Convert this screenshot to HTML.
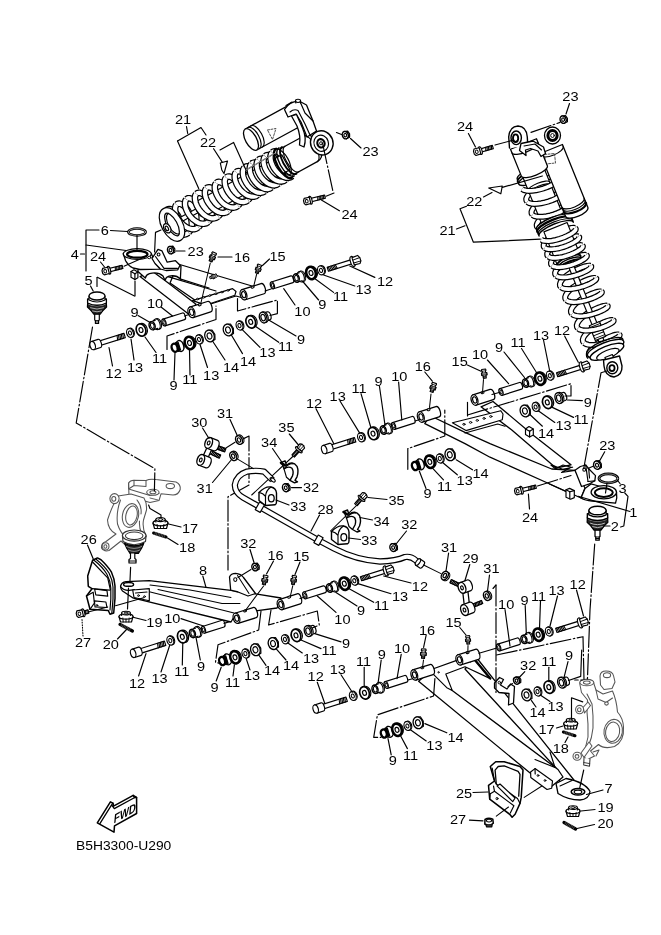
<!DOCTYPE html>
<html><head><meta charset="utf-8"><title>B5H3300-U290</title>
<style>html,body{margin:0;padding:0;background:#fff}svg{display:block;filter:grayscale(1)}text{font-family:"Liberation Sans",Arial,Helvetica,sans-serif;fill:#000}</style>
</head><body>
<svg width="661" height="935" viewBox="0 0 661 935" stroke-linecap="round" stroke-linejoin="round">
<rect width="661" height="935" fill="#fff"/>
<g transform="translate(251 139.5) rotate(-28.6)">
<path d="M0 -12 L54 -12 L54 12 L0 12 Z" fill="#fff" stroke="#000" stroke-width="1.29"/>
<path d="M3 -12 A5.5 12 0 0 1 3 12 M6.5 -12 A5.5 12 0 0 1 6.5 12" fill="none" stroke="#000" stroke-width="1.17"/>
<ellipse cx="0" cy="0" rx="5.5" ry="12" fill="#fff" stroke="#000" stroke-width="1.29"/>
</g>
<g transform="translate(284 163.3) rotate(-28.6)">
<path d="M-4 -14.5 L30 -14.5 Q38 -14 38 -6 L38 6 Q38 14 30 14.5 L-4 14.5 Z" fill="#fff" stroke="#000" stroke-width="1.29"/>
<path d="M30 -14.5 A6 14.5 0 0 1 30 14.5" fill="none" stroke="#000" stroke-width="1.17"/>
</g>
<path d="M178.5 238.2 L180.1 236.2 L181.2 233.8 L181.8 230.9 L181.9 227.7 L181.4 224.3 L180.4 221 L179.1 217.8 L177.4 214.9 L175.4 212.5 L173.4 210.7 L171.3 209.5 L169.4 209 L167.8 209.2 L166.4 210.1" fill="none" stroke="#000" stroke-width="6.6" stroke-linecap="butt"/>
<path d="M178.5 238.2 L180.1 236.2 L181.2 233.8 L181.8 230.9 L181.9 227.7 L181.4 224.3 L180.4 221 L179.1 217.8 L177.4 214.9 L175.4 212.5 L173.4 210.7 L171.3 209.5 L169.4 209 L167.8 209.2 L166.4 210.1" fill="none" stroke="#fff" stroke-width="4.2" stroke-linecap="butt"/>
<path d="M188.5 232.8 L190.1 230.8 L191.2 228.4 L191.8 225.4 L191.8 222.2 L191.3 218.9 L190.4 215.5 L189 212.4 L187.3 209.5 L185.4 207.1 L183.3 205.3 L181.3 204.1 L179.4 203.6 L177.7 203.8 L176.4 204.7" fill="none" stroke="#000" stroke-width="6.6" stroke-linecap="butt"/>
<path d="M188.5 232.8 L190.1 230.8 L191.2 228.4 L191.8 225.4 L191.8 222.2 L191.3 218.9 L190.4 215.5 L189 212.4 L187.3 209.5 L185.4 207.1 L183.3 205.3 L181.3 204.1 L179.4 203.6 L177.7 203.8 L176.4 204.7" fill="none" stroke="#fff" stroke-width="4.2" stroke-linecap="butt"/>
<path d="M198.4 227.3 L200 225.4 L201.1 222.9 L201.7 220 L201.7 216.8 L201.3 213.5 L200.3 210.1 L198.9 207 L197.2 204.1 L195.3 201.7 L193.2 199.9 L191.2 198.7 L189.3 198.2 L187.6 198.4 L186.3 199.3" fill="none" stroke="#000" stroke-width="6.6" stroke-linecap="butt"/>
<path d="M198.4 227.3 L200 225.4 L201.1 222.9 L201.7 220 L201.7 216.8 L201.3 213.5 L200.3 210.1 L198.9 207 L197.2 204.1 L195.3 201.7 L193.2 199.9 L191.2 198.7 L189.3 198.2 L187.6 198.4 L186.3 199.3" fill="none" stroke="#fff" stroke-width="4.2" stroke-linecap="butt"/>
<path d="M208.3 221.9 L209.9 220 L211 217.5 L211.6 214.6 L211.7 211.4 L211.2 208 L210.2 204.7 L208.9 201.5 L207.2 198.7 L205.2 196.3 L203.2 194.4 L201.1 193.2 L199.2 192.7 L197.6 193 L196.2 193.9" fill="none" stroke="#000" stroke-width="6.6" stroke-linecap="butt"/>
<path d="M208.3 221.9 L209.9 220 L211 217.5 L211.6 214.6 L211.7 211.4 L211.2 208 L210.2 204.7 L208.9 201.5 L207.2 198.7 L205.2 196.3 L203.2 194.4 L201.1 193.2 L199.2 192.7 L197.6 193 L196.2 193.9" fill="none" stroke="#fff" stroke-width="4.2" stroke-linecap="butt"/>
<path d="M218.2 216.5 L219.9 214.6 L221 212.1 L221.6 209.2 L221.6 206 L221.1 202.6 L220.2 199.3 L218.8 196.1 L217.1 193.3 L215.2 190.9 L213.1 189 L211.1 187.8 L209.2 187.3 L207.5 187.5 L206.2 188.4" fill="none" stroke="#000" stroke-width="6.6" stroke-linecap="butt"/>
<path d="M218.2 216.5 L219.9 214.6 L221 212.1 L221.6 209.2 L221.6 206 L221.1 202.6 L220.2 199.3 L218.8 196.1 L217.1 193.3 L215.2 190.9 L213.1 189 L211.1 187.8 L209.2 187.3 L207.5 187.5 L206.2 188.4" fill="none" stroke="#fff" stroke-width="4.2" stroke-linecap="butt"/>
<path d="M228.2 211.1 L229.8 209.2 L230.9 206.7 L231.5 203.8 L231.5 200.6 L231.1 197.2 L230.1 193.9 L228.7 190.7 L227 187.8 L225.1 185.4 L223 183.6 L221 182.4 L219.1 181.9 L217.4 182.1 L216.1 183" fill="none" stroke="#000" stroke-width="6.6" stroke-linecap="butt"/>
<path d="M228.2 211.1 L229.8 209.2 L230.9 206.7 L231.5 203.8 L231.5 200.6 L231.1 197.2 L230.1 193.9 L228.7 190.7 L227 187.8 L225.1 185.4 L223 183.6 L221 182.4 L219.1 181.9 L217.4 182.1 L216.1 183" fill="none" stroke="#fff" stroke-width="4.2" stroke-linecap="butt"/>
<path d="M238.1 205.7 L239.7 203.7 L240.8 201.3 L241.4 198.4 L241.5 195.1 L241 191.8 L240 188.4 L238.7 185.3 L236.9 182.4 L235 180 L233 178.2 L230.9 177 L229 176.5 L227.4 176.7 L226 177.6" fill="none" stroke="#000" stroke-width="6.6" stroke-linecap="butt"/>
<path d="M238.1 205.7 L239.7 203.7 L240.8 201.3 L241.4 198.4 L241.5 195.1 L241 191.8 L240 188.4 L238.7 185.3 L236.9 182.4 L235 180 L233 178.2 L230.9 177 L229 176.5 L227.4 176.7 L226 177.6" fill="none" stroke="#fff" stroke-width="4.2" stroke-linecap="butt"/>
<path d="M248 200.2 L249.6 198.3 L250.8 195.8 L251.4 192.9 L251.4 189.7 L250.9 186.4 L250 183 L248.6 179.9 L246.9 177 L244.9 174.6 L242.9 172.8 L240.9 171.6 L239 171.1 L237.3 171.3 L236 172.2" fill="none" stroke="#000" stroke-width="6.6" stroke-linecap="butt"/>
<path d="M248 200.2 L249.6 198.3 L250.8 195.8 L251.4 192.9 L251.4 189.7 L250.9 186.4 L250 183 L248.6 179.9 L246.9 177 L244.9 174.6 L242.9 172.8 L240.9 171.6 L239 171.1 L237.3 171.3 L236 172.2" fill="none" stroke="#fff" stroke-width="4.2" stroke-linecap="butt"/>
<path d="M258 194.8 L259.5 193 L260.5 190.5 L261 187.7 L260.9 184.5 L260.3 181.2 L259.2 178 L257.8 174.8 L255.9 172.1 L253.9 169.7 L251.8 167.9 L249.6 166.8 L247.6 166.4 L245.8 166.6 L244.4 167.6" fill="none" stroke="#000" stroke-width="6.6" stroke-linecap="butt"/>
<path d="M258 194.8 L259.5 193 L260.5 190.5 L261 187.7 L260.9 184.5 L260.3 181.2 L259.2 178 L257.8 174.8 L255.9 172.1 L253.9 169.7 L251.8 167.9 L249.6 166.8 L247.6 166.4 L245.8 166.6 L244.4 167.6" fill="none" stroke="#fff" stroke-width="4.2" stroke-linecap="butt"/>
<path d="M264.9 191.1 L266.4 189.2 L267.4 186.8 L267.9 183.9 L267.8 180.8 L267.2 177.5 L266.2 174.2 L264.7 171.1 L262.9 168.3 L260.8 165.9 L258.7 164.2 L256.5 163 L254.5 162.6 L252.7 162.9 L251.3 163.8" fill="none" stroke="#000" stroke-width="6.6" stroke-linecap="butt"/>
<path d="M264.9 191.1 L266.4 189.2 L267.4 186.8 L267.9 183.9 L267.8 180.8 L267.2 177.5 L266.2 174.2 L264.7 171.1 L262.9 168.3 L260.8 165.9 L258.7 164.2 L256.5 163 L254.5 162.6 L252.7 162.9 L251.3 163.8" fill="none" stroke="#fff" stroke-width="4.2" stroke-linecap="butt"/>
<path d="M271.8 187.3 L273.3 185.4 L274.3 183 L274.8 180.2 L274.7 177 L274.1 173.7 L273.1 170.4 L271.6 167.3 L269.8 164.5 L267.7 162.2 L265.6 160.4 L263.4 159.3 L261.4 158.8 L259.6 159.1 L258.2 160" fill="none" stroke="#000" stroke-width="6.6" stroke-linecap="butt"/>
<path d="M271.8 187.3 L273.3 185.4 L274.3 183 L274.8 180.2 L274.7 177 L274.1 173.7 L273.1 170.4 L271.6 167.3 L269.8 164.5 L267.7 162.2 L265.6 160.4 L263.4 159.3 L261.4 158.8 L259.6 159.1 L258.2 160" fill="none" stroke="#fff" stroke-width="4.2" stroke-linecap="butt"/>
<path d="M278.7 183.5 L280.2 181.6 L281.2 179.2 L281.7 176.4 L281.6 173.2 L281 169.9 L280 166.7 L278.5 163.5 L276.7 160.7 L274.6 158.4 L272.5 156.6 L270.3 155.5 L268.3 155 L266.5 155.3 L265.1 156.3" fill="none" stroke="#000" stroke-width="6.6" stroke-linecap="butt"/>
<path d="M278.7 183.5 L280.2 181.6 L281.2 179.2 L281.7 176.4 L281.6 173.2 L281 169.9 L280 166.7 L278.5 163.5 L276.7 160.7 L274.6 158.4 L272.5 156.6 L270.3 155.5 L268.3 155 L266.5 155.3 L265.1 156.3" fill="none" stroke="#fff" stroke-width="4.2" stroke-linecap="butt"/>
<path d="M285.6 179.7 L287.1 177.9 L288.1 175.5 L288.6 172.6 L288.5 169.5 L287.9 166.2 L286.9 162.9 L285.4 159.8 L283.6 157 L281.5 154.6 L279.4 152.9 L277.2 151.7 L275.2 151.3 L273.5 151.5 L272 152.5" fill="none" stroke="#000" stroke-width="6.6" stroke-linecap="butt"/>
<path d="M285.6 179.7 L287.1 177.9 L288.1 175.5 L288.6 172.6 L288.5 169.5 L287.9 166.2 L286.9 162.9 L285.4 159.8 L283.6 157 L281.5 154.6 L279.4 152.9 L277.2 151.7 L275.2 151.3 L273.5 151.5 L272 152.5" fill="none" stroke="#fff" stroke-width="4.2" stroke-linecap="butt"/>
<g transform="translate(170 225.5) rotate(-28.6)">
<path d="M2 -2.2 L40 -2.2 L40 2.2 L2 2.2 Z" fill="#fff" stroke="#000" stroke-width="1.17"/>
<path d="M34 -8.5 L132 -8.5 L132 8.5 L34 8.5 A3.5 8.5 0 0 1 34 -8.5 Z" fill="#fff" stroke="#000" stroke-width="1.17"/>
</g>
<path d="M166.4 210.1 L165.5 211.7 L165.1 213.7 L165.3 216.3 L165.9 219.1 L167.1 222.1 L168.8 225 L170.9 227.8 L173.3 230.3 L175.9 232.3 L178.7 233.7 L181.4 234.5 L184 234.6 L186.4 234 L188.5 232.8" fill="none" stroke="#000" stroke-width="6.6" stroke-linecap="butt"/>
<path d="M166.4 210.1 L165.5 211.7 L165.1 213.7 L165.3 216.3 L165.9 219.1 L167.1 222.1 L168.8 225 L170.9 227.8 L173.3 230.3 L175.9 232.3 L178.7 233.7 L181.4 234.5 L184 234.6 L186.4 234 L188.5 232.8" fill="none" stroke="#fff" stroke-width="4.2" stroke-linecap="butt"/>
<path d="M176.4 204.7 L175.5 206.2 L175.1 208.3 L175.2 210.8 L175.9 213.7 L177 216.6 L178.7 219.6 L180.8 222.4 L183.2 224.8 L185.9 226.9 L188.6 228.3 L191.4 229.1 L194 229.2 L196.4 228.6 L198.4 227.3" fill="none" stroke="#000" stroke-width="6.6" stroke-linecap="butt"/>
<path d="M176.4 204.7 L175.5 206.2 L175.1 208.3 L175.2 210.8 L175.9 213.7 L177 216.6 L178.7 219.6 L180.8 222.4 L183.2 224.8 L185.9 226.9 L188.6 228.3 L191.4 229.1 L194 229.2 L196.4 228.6 L198.4 227.3" fill="none" stroke="#fff" stroke-width="4.2" stroke-linecap="butt"/>
<path d="M186.3 199.3 L185.4 200.8 L185 202.9 L185.1 205.4 L185.8 208.2 L187 211.2 L188.6 214.2 L190.7 217 L193.1 219.4 L195.8 221.4 L198.5 222.9 L201.3 223.7 L203.9 223.8 L206.3 223.2 L208.3 221.9" fill="none" stroke="#000" stroke-width="6.6" stroke-linecap="butt"/>
<path d="M186.3 199.3 L185.4 200.8 L185 202.9 L185.1 205.4 L185.8 208.2 L187 211.2 L188.6 214.2 L190.7 217 L193.1 219.4 L195.8 221.4 L198.5 222.9 L201.3 223.7 L203.9 223.8 L206.3 223.2 L208.3 221.9" fill="none" stroke="#fff" stroke-width="4.2" stroke-linecap="butt"/>
<path d="M196.2 193.9 L195.3 195.4 L194.9 197.5 L195.1 200 L195.7 202.8 L196.9 205.8 L198.6 208.7 L200.7 211.5 L203.1 214 L205.7 216 L208.5 217.5 L211.2 218.3 L213.8 218.4 L216.2 217.8 L218.2 216.5" fill="none" stroke="#000" stroke-width="6.6" stroke-linecap="butt"/>
<path d="M196.2 193.9 L195.3 195.4 L194.9 197.5 L195.1 200 L195.7 202.8 L196.9 205.8 L198.6 208.7 L200.7 211.5 L203.1 214 L205.7 216 L208.5 217.5 L211.2 218.3 L213.8 218.4 L216.2 217.8 L218.2 216.5" fill="none" stroke="#fff" stroke-width="4.2" stroke-linecap="butt"/>
<path d="M206.2 188.4 L205.3 190 L204.9 192.1 L205 194.6 L205.7 197.4 L206.8 200.4 L208.5 203.3 L210.6 206.1 L213 208.6 L215.7 210.6 L218.4 212.1 L221.2 212.9 L223.8 213 L226.1 212.4 L228.2 211.1" fill="none" stroke="#000" stroke-width="6.6" stroke-linecap="butt"/>
<path d="M206.2 188.4 L205.3 190 L204.9 192.1 L205 194.6 L205.7 197.4 L206.8 200.4 L208.5 203.3 L210.6 206.1 L213 208.6 L215.7 210.6 L218.4 212.1 L221.2 212.9 L223.8 213 L226.1 212.4 L228.2 211.1" fill="none" stroke="#fff" stroke-width="4.2" stroke-linecap="butt"/>
<path d="M216.1 183 L215.2 184.6 L214.8 186.6 L214.9 189.2 L215.6 192 L216.8 195 L218.4 197.9 L220.5 200.7 L222.9 203.2 L225.6 205.2 L228.3 206.6 L231.1 207.4 L233.7 207.6 L236.1 207 L238.1 205.7" fill="none" stroke="#000" stroke-width="6.6" stroke-linecap="butt"/>
<path d="M216.1 183 L215.2 184.6 L214.8 186.6 L214.9 189.2 L215.6 192 L216.8 195 L218.4 197.9 L220.5 200.7 L222.9 203.2 L225.6 205.2 L228.3 206.6 L231.1 207.4 L233.7 207.6 L236.1 207 L238.1 205.7" fill="none" stroke="#fff" stroke-width="4.2" stroke-linecap="butt"/>
<path d="M226 177.6 L225.1 179.1 L224.7 181.2 L224.9 183.8 L225.5 186.6 L226.7 189.5 L228.4 192.5 L230.5 195.3 L232.9 197.7 L235.5 199.8 L238.3 201.2 L241 202 L243.6 202.1 L246 201.5 L248 200.2" fill="none" stroke="#000" stroke-width="6.6" stroke-linecap="butt"/>
<path d="M226 177.6 L225.1 179.1 L224.7 181.2 L224.9 183.8 L225.5 186.6 L226.7 189.5 L228.4 192.5 L230.5 195.3 L232.9 197.7 L235.5 199.8 L238.3 201.2 L241 202 L243.6 202.1 L246 201.5 L248 200.2" fill="none" stroke="#fff" stroke-width="4.2" stroke-linecap="butt"/>
<path d="M236 172.2 L235.1 173.7 L234.7 175.8 L234.8 178.3 L235.5 181.2 L236.6 184.1 L238.3 187.1 L240.4 189.9 L242.8 192.3 L245.5 194.3 L248.2 195.8 L250.9 196.6 L253.6 196.7 L255.9 196.1 L258 194.8" fill="none" stroke="#000" stroke-width="6.6" stroke-linecap="butt"/>
<path d="M236 172.2 L235.1 173.7 L234.7 175.8 L234.8 178.3 L235.5 181.2 L236.6 184.1 L238.3 187.1 L240.4 189.9 L242.8 192.3 L245.5 194.3 L248.2 195.8 L250.9 196.6 L253.6 196.7 L255.9 196.1 L258 194.8" fill="none" stroke="#fff" stroke-width="4.2" stroke-linecap="butt"/>
<path d="M244.4 167.6 L243.4 169.2 L242.9 171.3 L242.9 173.9 L243.4 176.8 L244.5 179.8 L246.1 182.8 L248.1 185.7 L250.4 188.2 L252.9 190.3 L255.5 191.8 L258.2 192.7 L260.7 192.8 L263 192.3 L264.9 191.1" fill="none" stroke="#000" stroke-width="6.6" stroke-linecap="butt"/>
<path d="M244.4 167.6 L243.4 169.2 L242.9 171.3 L242.9 173.9 L243.4 176.8 L244.5 179.8 L246.1 182.8 L248.1 185.7 L250.4 188.2 L252.9 190.3 L255.5 191.8 L258.2 192.7 L260.7 192.8 L263 192.3 L264.9 191.1" fill="none" stroke="#fff" stroke-width="4.2" stroke-linecap="butt"/>
<path d="M251.3 163.8 L250.3 165.4 L249.8 167.6 L249.8 170.1 L250.3 173 L251.4 176 L253 179.1 L255 181.9 L257.3 184.4 L259.8 186.5 L262.5 188 L265.1 188.9 L267.6 189.1 L269.9 188.5 L271.8 187.3" fill="none" stroke="#000" stroke-width="6.6" stroke-linecap="butt"/>
<path d="M251.3 163.8 L250.3 165.4 L249.8 167.6 L249.8 170.1 L250.3 173 L251.4 176 L253 179.1 L255 181.9 L257.3 184.4 L259.8 186.5 L262.5 188 L265.1 188.9 L267.6 189.1 L269.9 188.5 L271.8 187.3" fill="none" stroke="#fff" stroke-width="4.2" stroke-linecap="butt"/>
<path d="M258.2 160 L257.2 161.6 L256.7 163.8 L256.7 166.4 L257.3 169.3 L258.3 172.3 L259.9 175.3 L261.9 178.1 L264.2 180.7 L266.7 182.7 L269.4 184.3 L272 185.1 L274.5 185.3 L276.8 184.7 L278.7 183.5" fill="none" stroke="#000" stroke-width="6.6" stroke-linecap="butt"/>
<path d="M258.2 160 L257.2 161.6 L256.7 163.8 L256.7 166.4 L257.3 169.3 L258.3 172.3 L259.9 175.3 L261.9 178.1 L264.2 180.7 L266.7 182.7 L269.4 184.3 L272 185.1 L274.5 185.3 L276.8 184.7 L278.7 183.5" fill="none" stroke="#fff" stroke-width="4.2" stroke-linecap="butt"/>
<path d="M265.1 156.3 L264.1 157.9 L263.6 160 L263.6 162.6 L264.2 165.5 L265.2 168.5 L266.8 171.5 L268.8 174.4 L271.1 176.9 L273.6 179 L276.3 180.5 L278.9 181.3 L281.4 181.5 L283.7 181 L285.6 179.7" fill="none" stroke="#000" stroke-width="6.6" stroke-linecap="butt"/>
<path d="M265.1 156.3 L264.1 157.9 L263.6 160 L263.6 162.6 L264.2 165.5 L265.2 168.5 L266.8 171.5 L268.8 174.4 L271.1 176.9 L273.6 179 L276.3 180.5 L278.9 181.3 L281.4 181.5 L283.7 181 L285.6 179.7" fill="none" stroke="#fff" stroke-width="4.2" stroke-linecap="butt"/>
<path d="M272 152.5 L271 154.1 L270.5 156.3 L270.5 158.8 L271.1 161.7 L272.2 164.7 L273.7 167.8 L275.7 170.6 L278 173.1 L280.5 175.2 L283.2 176.7 L285.8 177.6 L288.3 177.7 L290.6 177.2 L292.5 176" fill="none" stroke="#000" stroke-width="6.6" stroke-linecap="butt"/>
<path d="M272 152.5 L271 154.1 L270.5 156.3 L270.5 158.8 L271.1 161.7 L272.2 164.7 L273.7 167.8 L275.7 170.6 L278 173.1 L280.5 175.2 L283.2 176.7 L285.8 177.6 L288.3 177.7 L290.6 177.2 L292.5 176" fill="none" stroke="#fff" stroke-width="4.2" stroke-linecap="butt"/>
<g transform="translate(172 224.5) rotate(-28.6)">
<ellipse cx="0" cy="0" rx="7.8" ry="15.4" fill="#fff" stroke="#000" stroke-width="6.6"/>
<ellipse cx="0" cy="0" rx="7.8" ry="15.4" fill="none" stroke="#fff" stroke-width="4.2"/>
<path d="M2 -11.5 A5.5 11.5 0 0 0 2 11.5" fill="none" stroke="#000" stroke-width="1.17"/>
<ellipse cx="-6" cy="1" rx="3.2" ry="5" fill="#fff" stroke="#000" stroke-width="1.29"/>
<ellipse cx="-6.4" cy="1" rx="1.4" ry="2.4" fill="#fff" stroke="#000" stroke-width="1.17"/>
</g>
<g transform="translate(284 163.3) rotate(-28.6)">
<path d="M0 -16.5 A7 16.5 0 0 0 0 16.5" fill="none" stroke="#000" stroke-width="2.34"/>
<path d="M3 -16 A7 16 0 0 0 3 16" fill="none" stroke="#000" stroke-width="1.4"/>
<path d="M6 -15.2 A6.5 15.2 0 0 0 6 15.2" fill="none" stroke="#000" stroke-width="1.87"/>
<path d="M9 -14.6 A6 14.6 0 0 0 9 14.6" fill="none" stroke="#000" stroke-width="1.17"/>
</g>
<path d="M284.5 109.5 Q290 100.5 300 101.5 L306.5 105 L313 121 L316.5 131 L307 137 L301 122 L296 114 L288 117 Z" fill="#fff" stroke="#000" stroke-width="1.29" />
<path d="M290 112 Q294 108.5 298 110.5 L305 124 L310 135 M286 105.5 L292 102 M300 101.5 L305 113 L313 121" fill="none" stroke="#000" stroke-width="1.17" />
<path d="M291.5 116 L297 126 Q301 136 299.5 145 L304 147 Q307 138 302.5 128 L296.5 114.5 Z" fill="#fff" stroke="#000" stroke-width="1.29" />
<ellipse cx="298" cy="100.8" rx="2.6" ry="1.6" fill="#fff" stroke="#000" stroke-width="1.05"/>
<line x1="295.6" y1="100.6" x2="295.8" y2="103" stroke="#000" stroke-width="1.17"/>
<line x1="300.5" y1="100.8" x2="300.5" y2="103" stroke="#000" stroke-width="1.17"/>
<ellipse cx="321.8" cy="142.9" rx="11.2" ry="12.2" fill="#fff" stroke="#000" stroke-width="1.4" transform="rotate(-20 321.8 142.9)"/>
<ellipse cx="321.2" cy="143.2" rx="7.2" ry="8.2" fill="#fff" stroke="#000" stroke-width="1.17" transform="rotate(-20 321.2 143.2)"/>
<ellipse cx="321" cy="143.3" rx="3.6" ry="4.2" fill="#fff" stroke="#000" stroke-width="2.11" transform="rotate(-20 321 143.3)"/>
<ellipse cx="321" cy="143.3" rx="1.4" ry="1.6" fill="#fff" stroke="#000" stroke-width="0.94"/>
<path d="M267.5 130 L276 128.5 L272.5 139.5 Z" fill="none" stroke="#444" stroke-width="0.94" stroke-dasharray="2 1.5"/>
<g transform="translate(534.5 176.5) rotate(68)">
<ellipse cx="-4" cy="0" rx="5" ry="17" fill="#fff" stroke="#000" stroke-width="1.4"/>
<ellipse cx="-1.5" cy="0" rx="5" ry="17.5" fill="#fff" stroke="#000" stroke-width="1.87"/>
<ellipse cx="1" cy="0" rx="5" ry="17.5" fill="#fff" stroke="#000" stroke-width="1.4"/>
</g>
<path d="M554.8 181.1 L553.5 181 L551.5 181.3 L549 181.9 L546 183 L542.7 184.4 L539.3 186.2 L536.1 188.1 L533 190.3 L530.4 192.5 L528.3 194.8 L526.9 196.9 L526.2 198.8 L526.4 200.5 L527.3 201.9" fill="none" stroke="#000" stroke-width="6" stroke-linecap="butt"/>
<path d="M554.8 181.1 L553.5 181 L551.5 181.3 L549 181.9 L546 183 L542.7 184.4 L539.3 186.2 L536.1 188.1 L533 190.3 L530.4 192.5 L528.3 194.8 L526.9 196.9 L526.2 198.8 L526.4 200.5 L527.3 201.9" fill="none" stroke="#fff" stroke-width="3.6" stroke-linecap="butt"/>
<path d="M560.1 194.1 L558.8 194 L556.8 194.2 L554.2 194.9 L551.2 196 L548 197.4 L544.6 199.2 L541.3 201.1 L538.3 203.3 L535.6 205.5 L533.6 207.7 L532.2 209.9 L531.5 211.8 L531.6 213.5 L532.5 214.9" fill="none" stroke="#000" stroke-width="6" stroke-linecap="butt"/>
<path d="M560.1 194.1 L558.8 194 L556.8 194.2 L554.2 194.9 L551.2 196 L548 197.4 L544.6 199.2 L541.3 201.1 L538.3 203.3 L535.6 205.5 L533.6 207.7 L532.2 209.9 L531.5 211.8 L531.6 213.5 L532.5 214.9" fill="none" stroke="#fff" stroke-width="3.6" stroke-linecap="butt"/>
<path d="M565.3 207.1 L564 206.9 L562 207.2 L559.5 207.9 L556.5 209 L553.2 210.4 L549.8 212.1 L546.5 214.1 L543.5 216.3 L540.9 218.5 L538.8 220.7 L537.4 222.8 L536.7 224.8 L536.9 226.5 L537.8 227.9" fill="none" stroke="#000" stroke-width="6" stroke-linecap="butt"/>
<path d="M565.3 207.1 L564 206.9 L562 207.2 L559.5 207.9 L556.5 209 L553.2 210.4 L549.8 212.1 L546.5 214.1 L543.5 216.3 L540.9 218.5 L538.8 220.7 L537.4 222.8 L536.7 224.8 L536.9 226.5 L537.8 227.9" fill="none" stroke="#fff" stroke-width="3.6" stroke-linecap="butt"/>
<g transform="translate(536 179) rotate(68)">
<path d="M-12 -11.5 L46 -11.5 L46 11.5 L-12 11.5 Z" fill="#fff" stroke="#000" stroke-width="1.17"/>
<path d="M8 -11.5 A3.5 11.5 0 0 0 8 11.5 M11 -11.5 A3.5 11.5 0 0 0 11 11.5" fill="none" stroke="#000" stroke-width="1.17"/>
</g>
<path d="M522.1 189 L523.7 190 L526.1 190.6 L529 190.9 L532.4 190.7 L536 190.3 L539.8 189.4 L543.4 188.4 L546.9 187.2 L549.9 185.9 L552.3 184.6 L554.1 183.4 L555.1 182.3 L555.4 181.6 L554.8 181.1" fill="none" stroke="#000" stroke-width="6" stroke-linecap="butt"/>
<path d="M522.1 189 L523.7 190 L526.1 190.6 L529 190.9 L532.4 190.7 L536 190.3 L539.8 189.4 L543.4 188.4 L546.9 187.2 L549.9 185.9 L552.3 184.6 L554.1 183.4 L555.1 182.3 L555.4 181.6 L554.8 181.1" fill="none" stroke="#fff" stroke-width="3.6" stroke-linecap="butt"/>
<path d="M527.3 201.9 L529 203 L531.3 203.6 L534.3 203.9 L537.6 203.7 L541.3 203.2 L545 202.4 L548.7 201.4 L552.1 200.2 L555.1 198.9 L557.5 197.6 L559.3 196.3 L560.4 195.3 L560.6 194.5 L560.1 194.1" fill="none" stroke="#000" stroke-width="6" stroke-linecap="butt"/>
<path d="M527.3 201.9 L529 203 L531.3 203.6 L534.3 203.9 L537.6 203.7 L541.3 203.2 L545 202.4 L548.7 201.4 L552.1 200.2 L555.1 198.9 L557.5 197.6 L559.3 196.3 L560.4 195.3 L560.6 194.5 L560.1 194.1" fill="none" stroke="#fff" stroke-width="3.6" stroke-linecap="butt"/>
<path d="M532.5 214.9 L534.2 216 L536.6 216.6 L539.5 216.8 L542.9 216.7 L546.5 216.2 L550.3 215.4 L553.9 214.4 L557.3 213.1 L560.3 211.8 L562.8 210.5 L564.6 209.3 L565.6 208.3 L565.9 207.5 L565.3 207.1" fill="none" stroke="#000" stroke-width="6" stroke-linecap="butt"/>
<path d="M532.5 214.9 L534.2 216 L536.6 216.6 L539.5 216.8 L542.9 216.7 L546.5 216.2 L550.3 215.4 L553.9 214.4 L557.3 213.1 L560.3 211.8 L562.8 210.5 L564.6 209.3 L565.6 208.3 L565.9 207.5 L565.3 207.1" fill="none" stroke="#fff" stroke-width="3.6" stroke-linecap="butt"/>
<path d="M575.1 228.1 L573.6 227.8 L571.4 227.9 L568.6 228.5 L565.3 229.4 L561.8 230.8 L558.1 232.5 L554.5 234.4 L551.2 236.5 L548.3 238.7 L546 240.9 L544.4 243 L543.7 244.9 L543.7 246.6 L544.7 247.8" fill="none" stroke="#000" stroke-width="6" stroke-linecap="butt"/>
<path d="M575.1 228.1 L573.6 227.8 L571.4 227.9 L568.6 228.5 L565.3 229.4 L561.8 230.8 L558.1 232.5 L554.5 234.4 L551.2 236.5 L548.3 238.7 L546 240.9 L544.4 243 L543.7 244.9 L543.7 246.6 L544.7 247.8" fill="none" stroke="#fff" stroke-width="3.6" stroke-linecap="butt"/>
<path d="M578.6 236.5 L577.1 236.2 L574.9 236.4 L572.1 236.9 L568.8 237.9 L565.3 239.3 L561.6 241 L558 242.9 L554.7 245.1 L551.8 247.3 L549.6 249.5 L548 251.6 L547.2 253.5 L547.3 255.2 L548.2 256.5" fill="none" stroke="#000" stroke-width="6" stroke-linecap="butt"/>
<path d="M578.6 236.5 L577.1 236.2 L574.9 236.4 L572.1 236.9 L568.8 237.9 L565.3 239.3 L561.6 241 L558 242.9 L554.7 245.1 L551.8 247.3 L549.6 249.5 L548 251.6 L547.2 253.5 L547.3 255.2 L548.2 256.5" fill="none" stroke="#fff" stroke-width="3.6" stroke-linecap="butt"/>
<path d="M582.3 245.4 L580.8 245.1 L578.6 245.3 L575.8 245.9 L572.5 246.9 L569 248.2 L565.3 250 L561.7 251.9 L558.4 254.1 L555.6 256.3 L553.3 258.6 L551.7 260.7 L551 262.6 L551.1 264.3 L552 265.6" fill="none" stroke="#000" stroke-width="6" stroke-linecap="butt"/>
<path d="M582.3 245.4 L580.8 245.1 L578.6 245.3 L575.8 245.9 L572.5 246.9 L569 248.2 L565.3 250 L561.7 251.9 L558.4 254.1 L555.6 256.3 L553.3 258.6 L551.7 260.7 L551 262.6 L551.1 264.3 L552 265.6" fill="none" stroke="#fff" stroke-width="3.6" stroke-linecap="butt"/>
<path d="M586.2 255 L584.8 254.8 L582.6 255 L579.8 255.6 L576.6 256.6 L573 258 L569.4 259.8 L565.8 261.8 L562.5 264 L559.7 266.2 L557.4 268.5 L555.9 270.7 L555.1 272.6 L555.2 274.3 L556.2 275.7" fill="none" stroke="#000" stroke-width="6" stroke-linecap="butt"/>
<path d="M586.2 255 L584.8 254.8 L582.6 255 L579.8 255.6 L576.6 256.6 L573 258 L569.4 259.8 L565.8 261.8 L562.5 264 L559.7 266.2 L557.4 268.5 L555.9 270.7 L555.1 272.6 L555.2 274.3 L556.2 275.7" fill="none" stroke="#fff" stroke-width="3.6" stroke-linecap="butt"/>
<path d="M590.7 265.8 L589.3 265.6 L587.1 265.9 L584.3 266.5 L581.1 267.6 L577.6 269.1 L574 270.9 L570.4 272.9 L567.2 275.2 L564.3 277.5 L562.1 279.8 L560.6 282 L559.9 284.1 L560 285.8 L560.9 287.2" fill="none" stroke="#000" stroke-width="6" stroke-linecap="butt"/>
<path d="M590.7 265.8 L589.3 265.6 L587.1 265.9 L584.3 266.5 L581.1 267.6 L577.6 269.1 L574 270.9 L570.4 272.9 L567.2 275.2 L564.3 277.5 L562.1 279.8 L560.6 282 L559.9 284.1 L560 285.8 L560.9 287.2" fill="none" stroke="#fff" stroke-width="3.6" stroke-linecap="butt"/>
<path d="M595.8 278.1 L594.3 277.9 L592.2 278.2 L589.5 278.9 L586.3 280.1 L582.8 281.6 L579.2 283.4 L575.6 285.6 L572.4 287.8 L569.6 290.2 L567.4 292.6 L565.9 294.9 L565.2 296.9 L565.3 298.7 L566.3 300.2" fill="none" stroke="#000" stroke-width="6" stroke-linecap="butt"/>
<path d="M595.8 278.1 L594.3 277.9 L592.2 278.2 L589.5 278.9 L586.3 280.1 L582.8 281.6 L579.2 283.4 L575.6 285.6 L572.4 287.8 L569.6 290.2 L567.4 292.6 L565.9 294.9 L565.2 296.9 L565.3 298.7 L566.3 300.2" fill="none" stroke="#fff" stroke-width="3.6" stroke-linecap="butt"/>
<path d="M601.3 291.5 L599.9 291.4 L597.8 291.7 L595.1 292.5 L591.9 293.6 L588.4 295.2 L584.8 297.1 L581.3 299.2 L578.1 301.6 L575.3 304 L573.1 306.4 L571.6 308.7 L570.9 310.8 L571.1 312.6 L572.1 314.1" fill="none" stroke="#000" stroke-width="6" stroke-linecap="butt"/>
<path d="M601.3 291.5 L599.9 291.4 L597.8 291.7 L595.1 292.5 L591.9 293.6 L588.4 295.2 L584.8 297.1 L581.3 299.2 L578.1 301.6 L575.3 304 L573.1 306.4 L571.6 308.7 L570.9 310.8 L571.1 312.6 L572.1 314.1" fill="none" stroke="#fff" stroke-width="3.6" stroke-linecap="butt"/>
<path d="M607.2 305.7 L605.8 305.6 L603.7 305.9 L601 306.7 L597.8 307.9 L594.3 309.5 L590.7 311.4 L587.2 313.5 L584 315.9 L581.2 318.3 L579 320.7 L577.5 323 L576.8 325.2 L577 327 L578 328.5" fill="none" stroke="#000" stroke-width="6" stroke-linecap="butt"/>
<path d="M607.2 305.7 L605.8 305.6 L603.7 305.9 L601 306.7 L597.8 307.9 L594.3 309.5 L590.7 311.4 L587.2 313.5 L584 315.9 L581.2 318.3 L579 320.7 L577.5 323 L576.8 325.2 L577 327 L578 328.5" fill="none" stroke="#fff" stroke-width="3.6" stroke-linecap="butt"/>
<path d="M613.1 320.1 L611.7 320 L609.6 320.3 L606.9 321.1 L603.7 322.3 L600.2 323.9 L596.7 325.8 L593.2 327.9 L589.9 330.3 L587.2 332.7 L585 335.1 L583.5 337.4 L582.8 339.6 L583 341.4 L584 342.9" fill="none" stroke="#000" stroke-width="6" stroke-linecap="butt"/>
<path d="M613.1 320.1 L611.7 320 L609.6 320.3 L606.9 321.1 L603.7 322.3 L600.2 323.9 L596.7 325.8 L593.2 327.9 L589.9 330.3 L587.2 332.7 L585 335.1 L583.5 337.4 L582.8 339.6 L583 341.4 L584 342.9" fill="none" stroke="#fff" stroke-width="3.6" stroke-linecap="butt"/>
<path d="M619.1 334.5 L617.7 334.4 L615.6 334.7 L612.9 335.5 L609.7 336.7 L606.2 338.3 L602.6 340.2 L599.1 342.3 L595.9 344.7 L593.1 347.1 L590.9 349.5 L589.4 351.8 L588.8 354 L588.9 355.8 L589.9 357.3" fill="none" stroke="#000" stroke-width="6" stroke-linecap="butt"/>
<path d="M619.1 334.5 L617.7 334.4 L615.6 334.7 L612.9 335.5 L609.7 336.7 L606.2 338.3 L602.6 340.2 L599.1 342.3 L595.9 344.7 L593.1 347.1 L590.9 349.5 L589.4 351.8 L588.8 354 L588.9 355.8 L589.9 357.3" fill="none" stroke="#fff" stroke-width="3.6" stroke-linecap="butt"/>
<g transform="translate(536 179) rotate(68)">
<path d="M90 -2.6 L186 -2.6 L186 2.6 L90 2.6 Z" fill="#fff" stroke="#000" stroke-width="1.17"/>
<path d="M52 -12.5 L92 -12.5 L92 12.5 L52 12.5 Z" fill="#fff" stroke="#000" stroke-width="1.17"/>
<path d="M88 -12.5 A4 12.5 0 0 0 88 12.5" fill="none" stroke="#000" stroke-width="1.87"/>
<path d="M90.5 -12.5 A4 12.5 0 0 0 90.5 12.5" fill="none" stroke="#000" stroke-width="1.4"/>
<path d="M93 -12.5 A4 12.5 0 0 0 93 12.5" fill="none" stroke="#000" stroke-width="2.11"/>
<path d="M156 -5.5 L172 -5.5 L172 5.5 L156 5.5 Z" fill="#fff" stroke="#000" stroke-width="1.17"/>
<path d="M158 -5.5 L158 5.5" stroke="#000" stroke-width="0.94"/>
<path d="M161 -5.5 L161 5.5" stroke="#000" stroke-width="0.94"/>
<path d="M164 -5.5 L164 5.5" stroke="#000" stroke-width="0.94"/>
<path d="M167 -5.5 L167 5.5" stroke="#000" stroke-width="0.94"/>
<path d="M170 -5.5 L170 5.5" stroke="#000" stroke-width="0.94"/>
</g>
<path d="M541.3 239.7 L543 240.6 L545.5 241 L548.5 241.1 L552 240.7 L555.8 239.9 L559.8 238.8 L563.6 237.5 L567.1 235.9 L570.3 234.3 L572.8 232.7 L574.6 231.2 L575.6 229.9 L575.8 228.8 L575.1 228.1" fill="none" stroke="#000" stroke-width="6" stroke-linecap="butt"/>
<path d="M541.3 239.7 L543 240.6 L545.5 241 L548.5 241.1 L552 240.7 L555.8 239.9 L559.8 238.8 L563.6 237.5 L567.1 235.9 L570.3 234.3 L572.8 232.7 L574.6 231.2 L575.6 229.9 L575.8 228.8 L575.1 228.1" fill="none" stroke="#fff" stroke-width="3.6" stroke-linecap="butt"/>
<path d="M544.7 247.8 L546.4 248.7 L548.8 249.2 L551.9 249.3 L555.4 248.9 L559.2 248.2 L563.2 247.1 L567 245.7 L570.6 244.2 L573.7 242.6 L576.2 241 L578.1 239.5 L579.1 238.2 L579.3 237.2 L578.6 236.5" fill="none" stroke="#000" stroke-width="6" stroke-linecap="butt"/>
<path d="M544.7 247.8 L546.4 248.7 L548.8 249.2 L551.9 249.3 L555.4 248.9 L559.2 248.2 L563.2 247.1 L567 245.7 L570.6 244.2 L573.7 242.6 L576.2 241 L578.1 239.5 L579.1 238.2 L579.3 237.2 L578.6 236.5" fill="none" stroke="#fff" stroke-width="3.6" stroke-linecap="butt"/>
<path d="M548.2 256.5 L550 257.4 L552.4 257.9 L555.5 258 L559 257.6 L562.9 256.9 L566.8 255.8 L570.6 254.5 L574.2 253 L577.3 251.4 L579.9 249.8 L581.7 248.4 L582.7 247.1 L582.9 246.1 L582.3 245.4" fill="none" stroke="#000" stroke-width="6" stroke-linecap="butt"/>
<path d="M548.2 256.5 L550 257.4 L552.4 257.9 L555.5 258 L559 257.6 L562.9 256.9 L566.8 255.8 L570.6 254.5 L574.2 253 L577.3 251.4 L579.9 249.8 L581.7 248.4 L582.7 247.1 L582.9 246.1 L582.3 245.4" fill="none" stroke="#fff" stroke-width="3.6" stroke-linecap="butt"/>
<path d="M552 265.6 L553.8 266.6 L556.2 267.1 L559.3 267.2 L562.9 266.9 L566.7 266.2 L570.6 265.2 L574.5 263.9 L578.1 262.4 L581.2 260.8 L583.8 259.3 L585.6 257.9 L586.7 256.6 L586.9 255.6 L586.2 255" fill="none" stroke="#000" stroke-width="6" stroke-linecap="butt"/>
<path d="M552 265.6 L553.8 266.6 L556.2 267.1 L559.3 267.2 L562.9 266.9 L566.7 266.2 L570.6 265.2 L574.5 263.9 L578.1 262.4 L581.2 260.8 L583.8 259.3 L585.6 257.9 L586.7 256.6 L586.9 255.6 L586.2 255" fill="none" stroke="#fff" stroke-width="3.6" stroke-linecap="butt"/>
<path d="M556.2 275.7 L557.9 276.7 L560.4 277.3 L563.6 277.4 L567.1 277.2 L571 276.5 L574.9 275.5 L578.8 274.3 L582.4 272.9 L585.6 271.4 L588.2 269.9 L590 268.5 L591.1 267.3 L591.3 266.4 L590.7 265.8" fill="none" stroke="#000" stroke-width="6" stroke-linecap="butt"/>
<path d="M556.2 275.7 L557.9 276.7 L560.4 277.3 L563.6 277.4 L567.1 277.2 L571 276.5 L574.9 275.5 L578.8 274.3 L582.4 272.9 L585.6 271.4 L588.2 269.9 L590 268.5 L591.1 267.3 L591.3 266.4 L590.7 265.8" fill="none" stroke="#fff" stroke-width="3.6" stroke-linecap="butt"/>
<path d="M560.9 287.2 L562.7 288.3 L565.3 288.9 L568.4 289.1 L572 288.9 L575.8 288.3 L579.8 287.4 L583.7 286.2 L587.4 284.8 L590.6 283.4 L593.2 281.9 L595 280.6 L596.1 279.4 L596.4 278.6 L595.8 278.1" fill="none" stroke="#000" stroke-width="6" stroke-linecap="butt"/>
<path d="M560.9 287.2 L562.7 288.3 L565.3 288.9 L568.4 289.1 L572 288.9 L575.8 288.3 L579.8 287.4 L583.7 286.2 L587.4 284.8 L590.6 283.4 L593.2 281.9 L595 280.6 L596.1 279.4 L596.4 278.6 L595.8 278.1" fill="none" stroke="#fff" stroke-width="3.6" stroke-linecap="butt"/>
<path d="M566.3 300.2 L568.1 301.3 L570.6 301.9 L573.8 302.2 L577.4 302 L581.3 301.4 L585.3 300.6 L589.2 299.4 L592.8 298.1 L596 296.7 L598.7 295.2 L600.6 293.9 L601.7 292.8 L601.9 292 L601.3 291.5" fill="none" stroke="#000" stroke-width="6" stroke-linecap="butt"/>
<path d="M566.3 300.2 L568.1 301.3 L570.6 301.9 L573.8 302.2 L577.4 302 L581.3 301.4 L585.3 300.6 L589.2 299.4 L592.8 298.1 L596 296.7 L598.7 295.2 L600.6 293.9 L601.7 292.8 L601.9 292 L601.3 291.5" fill="none" stroke="#fff" stroke-width="3.6" stroke-linecap="butt"/>
<path d="M572.1 314.1 L573.9 315.2 L576.4 315.9 L579.6 316.2 L583.2 316 L587.1 315.5 L591.1 314.6 L595 313.4 L598.7 312.1 L601.9 310.7 L604.5 309.3 L606.4 308.1 L607.5 307 L607.8 306.1 L607.2 305.7" fill="none" stroke="#000" stroke-width="6" stroke-linecap="butt"/>
<path d="M572.1 314.1 L573.9 315.2 L576.4 315.9 L579.6 316.2 L583.2 316 L587.1 315.5 L591.1 314.6 L595 313.4 L598.7 312.1 L601.9 310.7 L604.5 309.3 L606.4 308.1 L607.5 307 L607.8 306.1 L607.2 305.7" fill="none" stroke="#fff" stroke-width="3.6" stroke-linecap="butt"/>
<path d="M578 328.5 L579.8 329.6 L582.4 330.3 L585.5 330.6 L589.1 330.4 L593 329.9 L597 329 L601 327.9 L604.6 326.5 L607.8 325.1 L610.4 323.7 L612.3 322.5 L613.5 321.4 L613.7 320.5 L613.1 320.1" fill="none" stroke="#000" stroke-width="6" stroke-linecap="butt"/>
<path d="M578 328.5 L579.8 329.6 L582.4 330.3 L585.5 330.6 L589.1 330.4 L593 329.9 L597 329 L601 327.9 L604.6 326.5 L607.8 325.1 L610.4 323.7 L612.3 322.5 L613.5 321.4 L613.7 320.5 L613.1 320.1" fill="none" stroke="#fff" stroke-width="3.6" stroke-linecap="butt"/>
<path d="M584 342.9 L585.8 344 L588.3 344.7 L591.5 345 L595.1 344.8 L599 344.3 L603 343.4 L606.9 342.3 L610.6 340.9 L613.8 339.5 L616.4 338.2 L618.3 336.9 L619.4 335.8 L619.7 335 L619.1 334.5" fill="none" stroke="#000" stroke-width="6" stroke-linecap="butt"/>
<path d="M584 342.9 L585.8 344 L588.3 344.7 L591.5 345 L595.1 344.8 L599 344.3 L603 343.4 L606.9 342.3 L610.6 340.9 L613.8 339.5 L616.4 338.2 L618.3 336.9 L619.4 335.8 L619.7 335 L619.1 334.5" fill="none" stroke="#fff" stroke-width="3.6" stroke-linecap="butt"/>
<g transform="translate(555.1 226.3) rotate(68)">
<path d="M-4 -18.5 A5.5 18.5 0 0 0 -4 18.5 L3 18.5 A5.5 18.5 0 0 1 3 -18.5 Z" fill="#fff" stroke="#000" stroke-width="1.4"/>
<path d="M-1.5 -18.5 A5.5 18.5 0 0 0 -1.5 18.5" fill="none" stroke="#000" stroke-width="2.34"/>
<path d="M1 -18.5 A5.5 18.5 0 0 0 1 18.5" fill="none" stroke="#000" stroke-width="1.17"/>
</g>
<g transform="translate(551.3 149) rotate(68)">
<path d="M0 -12 L68 -12 A4.5 12 0 0 1 68 12 L0 12 Z" fill="#fff" stroke="#000" stroke-width="1.29"/>
<path d="M58 -12 A4.5 12 0 0 1 58 12 M60.5 -12 A4.5 12 0 0 1 60.5 12" fill="none" stroke="#000" stroke-width="1.17"/>
<path d="M63 -12 A4.5 12 0 0 1 63 12" fill="none" stroke="#000" stroke-width="2.11"/>
<path d="M2 -12 A4.5 12 0 0 1 2 12" fill="none" stroke="#000" stroke-width="1.17"/>
</g>
<path d="M544.6 154.5 L554.5 153.5 L555.5 163 L545.6 164 Z" fill="none" stroke="#444" stroke-width="0.94" stroke-dasharray="2 1.5"/>
<g transform="translate(523.5 144) rotate(68)">
<path d="M0 -14 L29 -14 A4.5 14 0 0 1 29 14 L0 14 Z" fill="#fff" stroke="#000" stroke-width="1.29"/>
<path d="M4 -14 A4.5 14 0 0 1 4 14" fill="none" stroke="#000" stroke-width="1.17"/>
</g>
<ellipse cx="552.5" cy="135.5" rx="8" ry="8.5" fill="#fff" stroke="#000" stroke-width="1.29"/>
<ellipse cx="552.5" cy="135.5" rx="4.6" ry="5" fill="#fff" stroke="#000" stroke-width="3.04"/>
<ellipse cx="552.5" cy="135.5" rx="1.8" ry="2" fill="#fff" stroke="#000" stroke-width="0.94"/>
<path d="M509.5 148 L508.7 137 Q509.5 126.5 518 126 Q526.5 126.5 527.3 137 L527.8 146" fill="#fff" stroke="#000" stroke-width="1.4" />
<ellipse cx="516.2" cy="137.8" rx="5.2" ry="6.8" fill="#fff" stroke="#000" stroke-width="1.4"/>
<ellipse cx="515.6" cy="138.2" rx="2.6" ry="3.8" fill="#fff" stroke="#000" stroke-width="1.87"/>
<path d="M519.5 150.5 L521 143.5 L533 141 L543.5 147 L545.5 153.5 L541 156.5 L538 151 L530.5 148.5 L525.5 150 L526 155.5 Z" fill="#fff" stroke="#000" stroke-width="1.29" />
<path d="M524 146 L535 144 L541.5 150" fill="none" stroke="#000" stroke-width="1.17" />
<g transform="translate(606 349.5) rotate(68)">
<ellipse cx="-1" cy="0" rx="6" ry="19.5" fill="#fff" stroke="#000" stroke-width="1.4"/>
<path d="M-3 -19.5 A6 19.5 0 0 0 -3 19.5" fill="none" stroke="#000" stroke-width="1.4"/>
<ellipse cx="2.5" cy="0" rx="5.6" ry="18" fill="#fff" stroke="#000" stroke-width="1.4"/>
<ellipse cx="5" cy="0" rx="4" ry="12" fill="#fff" stroke="#000" stroke-width="1.17"/>
<path d="M7 -4 L14 -4 L14 4 L7 4 Z" fill="#fff" stroke="#000" stroke-width="1.17"/>
</g>
<path d="M603.5 360 L604 366 Q605 376 614 377 Q622.5 375 622 366 L619.5 356 Z" fill="#fff" stroke="#000" stroke-width="1.4" />
<ellipse cx="612.3" cy="367.8" rx="5.5" ry="6" fill="#fff" stroke="#000" stroke-width="1.4"/>
<ellipse cx="612" cy="368" rx="2.6" ry="3" fill="#fff" stroke="#000" stroke-width="1.75"/>
<path d="M128.6 483 Q130 480.5 134 480.3 L146 480.5 Q150 478.5 156 479.6 L176 482 Q181 484.5 180.2 489.5 Q178.5 495 173 495 L161 493.8 L159 500.5 L150 502.5 L129 496.5 Z" fill="#fff" stroke="#555" stroke-width="1.05" />
<path d="M128.6 483 L128.6 489 L150 495.5 L159 493.5 M134 480.3 L134 485.5 L128.6 489 M134 485.5 L146 486.5 L146 480.5" fill="none" stroke="#555" stroke-width="1.05" />
<ellipse cx="170.3" cy="486" rx="4.2" ry="2.6" fill="#fff" stroke="#555" stroke-width="1.05"/>
<ellipse cx="152.9" cy="492.3" rx="6.2" ry="3" fill="#fff" stroke="#555" stroke-width="1.05"/>
<ellipse cx="152.9" cy="492.3" rx="3" ry="1.5" fill="#fff" stroke="#555" stroke-width="1.05"/>
<path d="M150 498 L158 500" fill="none" stroke="#555" stroke-width="0.94" />
<path d="M118 496 Q112 506 107.5 520 Q108 530 116 534 L106 541.5 Q101 543 101.5 548 Q104 552 109 550.5 L121 541 L126 545.5 L143 545 L146 536 Q142 528 143.5 520 L146.5 510 Q147 503 144 498 L131 494 Z" fill="#fff" stroke="#555" stroke-width="1.05" />
<path d="M120.5 500 Q116 512 117.5 524 Q120 532 126 538" fill="none" stroke="#555" stroke-width="1.05" />
<ellipse cx="114.5" cy="498.6" rx="4.6" ry="5" fill="#fff" stroke="#555" stroke-width="1.05"/>
<ellipse cx="113.8" cy="498.8" rx="2" ry="2.4" fill="#fff" stroke="#555" stroke-width="1.05"/>
<ellipse cx="105.6" cy="546.3" rx="3.4" ry="3.6" fill="#fff" stroke="#555" stroke-width="1.05"/>
<ellipse cx="105.4" cy="546.5" rx="1.5" ry="1.7" fill="#fff" stroke="#555" stroke-width="1.05"/>
<ellipse cx="130.5" cy="515.5" rx="8" ry="12" fill="#fff" stroke="#555" stroke-width="1.05" transform="rotate(12 130.5 515.5)"/>
<ellipse cx="131.5" cy="515.5" rx="5.6" ry="9.6" fill="#fff" stroke="#555" stroke-width="1.05" transform="rotate(12 131.5 515.5)"/>
<path d="M137 500 Q142 506 141 514 M139.5 521 Q139 528 141.5 533" fill="none" stroke="#555" stroke-width="1.05" />
<path d="M122.5 536 L123 541.5 Q134 548 145.5 541.5 L146 536 Z" fill="#fff" stroke="#333" stroke-width="1.17" />
<ellipse cx="134.2" cy="535.6" rx="11.8" ry="5.6" fill="#fff" stroke="#333" stroke-width="1.17"/>
<ellipse cx="134.2" cy="535.8" rx="8.8" ry="3.8" fill="#fff" stroke="#333" stroke-width="1.05"/>
<path d="M124.5 543.2 Q126 548 130 553.4 L138.4 553.4 Q142.4 548 143.8 543.2 Q134 548.4 124.5 543.2 Z" fill="#222" stroke="#000" stroke-width="1.17" />
<path d="M126.5 546.5 Q134 550.5 141.8 546.5 M128.5 550 Q134 553 139.8 550" fill="none" stroke="#bbb" stroke-width="0.7" />
<path d="M130.5 553.4 L130.5 558.5 L129 559.5 L129 563 L136 563 L136 559.5 L134.8 558.5 L134.8 553.4" fill="#fff" stroke="#000" stroke-width="1.17" />
<line x1="129" y1="561" x2="136" y2="561" stroke="#000" stroke-width="0.94"/>
<path d="M600 676 Q600.5 671 606 671 Q612.5 671 613.6 676 L615 682 L612 688.5 L604 689.5 L600.5 685 Z" fill="#fff" stroke="#555" stroke-width="1.05" />
<ellipse cx="607" cy="675.2" rx="3.6" ry="2.4" fill="#fff" stroke="#555" stroke-width="1.05"/>
<path d="M579.8 684 Q579 680 586.8 679.3 Q594 680 594 684 L596 690 L603 694 L612.5 691 Q616.5 700 617.5 712 Q623 718 623.5 727 Q624.5 741 614.5 746.5 Q604 749.5 598.5 744.5 L590.5 751 L594.5 756 L586.5 760 L583.5 755.5 L588 737 Q588.5 724 587 712 L587.5 700 L581.5 692.5 Z" fill="#fff" stroke="#555" stroke-width="1.05" />
<path d="M587 694 L592 704 Q593.5 716 593 728 Q592 738 588.5 746 M596 690 L598 699 L606 702.5 L612.5 698" fill="none" stroke="#555" stroke-width="1.05" />
<ellipse cx="586.8" cy="682.6" rx="7" ry="3.2" fill="#fff" stroke="#555" stroke-width="1.05"/>
<ellipse cx="586.8" cy="682.6" rx="3.4" ry="1.6" fill="#fff" stroke="#555" stroke-width="1.05"/>
<path d="M583 707.5 L588 702 L590.5 705.5 L584.5 713 Z" fill="#fff" stroke="#555" stroke-width="1.05" />
<ellipse cx="579.6" cy="709.6" rx="4" ry="4.2" fill="#fff" stroke="#555" stroke-width="1.05"/>
<ellipse cx="579.3" cy="709.8" rx="1.8" ry="2" fill="#fff" stroke="#555" stroke-width="1.05"/>
<path d="M581 753 L589 742 L592 746 L584 757.5 Z" fill="#fff" stroke="#555" stroke-width="1.05" />
<ellipse cx="577.2" cy="756.2" rx="4.2" ry="4" fill="#fff" stroke="#555" stroke-width="1.05"/>
<ellipse cx="577" cy="756.4" rx="1.9" ry="1.8" fill="#fff" stroke="#555" stroke-width="1.05"/>
<ellipse cx="613.2" cy="731.3" rx="9.2" ry="12" fill="#fff" stroke="#555" stroke-width="1.05" transform="rotate(10 613.2 731.3)"/>
<ellipse cx="612.6" cy="731.8" rx="7" ry="9.8" fill="#fff" stroke="#555" stroke-width="1.05" transform="rotate(10 612.6 731.8)"/>
<ellipse cx="606.5" cy="703.5" rx="1.8" ry="1.6" fill="#fff" stroke="#555" stroke-width="1.05"/>
<path d="M584 758 L583.7 765 L589.5 766.2 L590 759" fill="#fff" stroke="#333" stroke-width="1.05" />
<path d="M583.8 762.5 L589.7 763.6" fill="none" stroke="#333" stroke-width="0.94" />
<path d="M593 752 L599 750 L596 756" fill="none" stroke="#555" stroke-width="1.05" />
<path d="M92.6 560.3 L97.4 557.9 L101 559.7 Q108 566.5 111.3 571.8 Q114.6 579 115 586 L115 598.4 L113.7 613 L110 614.2 L108.3 610.5 L90 609.3 L86.5 596 L92 588.7 L88.3 586.3 L87.7 576 Z" fill="#fff" stroke="#000" stroke-width="1.52" />
<path d="M95.8 559 Q105 566.5 109 573 Q112.6 580 113 587 L113 599 L111.8 613.4 M94 560.2 Q102.5 566.8 106.8 574 Q110.6 581 110.8 588 L110.8 599 L110 610" fill="none" stroke="#000" stroke-width="1.17" />
<path d="M92.6 562 L107.7 577.8 L110.4 590" fill="none" stroke="#000" stroke-width="1.17" />
<path d="M92 588.7 L109.5 590.2 M86.5 596 L93.2 592.2 L94.4 603 L90 609.3" fill="none" stroke="#000" stroke-width="1.17" />
<path d="M94.6 589 L107 590.6 L107.7 596.2 L95.8 594.8 Z" fill="none" stroke="#000" stroke-width="1.17"/>
<path d="M94.4 600.8 L105.9 602 L107 607.5 L95 606.9 Z" fill="none" stroke="#000" stroke-width="1.17"/>
<ellipse cx="97" cy="605.4" rx="0.8" ry="0.9" fill="#fff" stroke="#000" stroke-width="0.94"/>
<g transform="translate(80.2 613.6) rotate(-14)">
<path d="M3 -1.7 L8.5 -1.7 L8.5 1.7 L3 1.7 Z" fill="#fff" stroke="#000" stroke-width="1.17"/>
<path d="M7.5 -1.7 L6.7 1.7" stroke="#000" stroke-width="1.05"/>
<path d="M6 -1.7 L5.2 1.7" stroke="#000" stroke-width="1.05"/>
<path d="M4.5 -1.7 L3.7 1.7" stroke="#000" stroke-width="1.05"/>
<path d="M3 -1.7 L2.2 1.7" stroke="#000" stroke-width="1.05"/>
<path d="M1.5 -1.7 L0.7 1.7" stroke="#000" stroke-width="1.05"/>
<ellipse cx="3" cy="0" rx="1.6" ry="4" fill="#fff" stroke="#000" stroke-width="1.17"/>
<path d="M2.6 -3.2 L-2.6 -3.4 L-3.8 -1.2 L-3.8 1.6 L-2.6 3.4 L2.6 3.2 Z" fill="#fff" stroke="#000" stroke-width="1.17"/>
<ellipse cx="-0.8" cy="0" rx="1.4" ry="1.7" fill="#fff" stroke="#000" stroke-width="0.94"/>
</g>
<line x1="82" y1="619.5" x2="83" y2="636" stroke="#000" stroke-width="1.05" stroke-dasharray="1 1.6"/>
<line x1="87.5" y1="545" x2="93.7" y2="560" stroke="#000" stroke-width="1.17"/>
<path d="M490.3 766.5 L495.7 761.7 L504.2 761.7 L520 766.5 L523 770.1 L521.2 797.4 L520 803.4 L515.1 814.3 L512.1 817.3 L509.7 814.3 L489.7 799.2 L488.5 785.3 L494.5 781 Z" fill="#fff" stroke="#000" stroke-width="1.52" />
<path d="M496.3 784 L495.1 770.1 L498.2 766.5 L504.2 765.9 L518.1 771.3 L520 774.4 L518.7 796.2" fill="none" stroke="#000" stroke-width="1.29" />
<path d="M494.5 781 L496.3 784 L517.5 798.6 L520 803.4 M492.2 768 L494.5 781" fill="none" stroke="#000" stroke-width="1.17" />
<path d="M497 785.9 L500 784 L515.1 798 L512.7 801.6 Z" fill="#fff" stroke="#000" stroke-width="1.17" />
<path d="M490.3 793.7 L494.5 791.3 L513.9 805.8 L510.3 813.1 M490.3 793.7 L489.7 799.2 M494.5 791.3 L493.5 786" fill="none" stroke="#000" stroke-width="1.17" />
<ellipse cx="497" cy="798.6" rx="1" ry="1.2" fill="#fff" stroke="#000" stroke-width="0.94"/>
<line x1="524.2" y1="797.4" x2="545" y2="784" stroke="#000" stroke-width="1.05"/>
<line x1="496.3" y1="816.1" x2="508.5" y2="807" stroke="#000" stroke-width="1.05"/>
<line x1="473" y1="792.5" x2="488" y2="792" stroke="#000" stroke-width="1.17"/>
<path d="M485 819.5 Q488.5 817.2 492.8 819.2 L493.3 823.3 Q489.5 826.6 484.8 824 Z" fill="#fff" stroke="#000" stroke-width="1.52" />
<path d="M486 824.6 L486.5 827 L491.8 827 L492.2 824.4" fill="#333" stroke="#000" stroke-width="1.17" />
<ellipse cx="489" cy="820.6" rx="2.6" ry="1.4" fill="#fff" stroke="#000" stroke-width="1.05"/>
<line x1="469.5" y1="820.2" x2="483" y2="820.8" stroke="#000" stroke-width="1.17"/>
<path d="M178 264 L252 286 L247 299 L236 296 L209 304.5 L197 301.5 L170 283 Z" fill="#fff" stroke="#000" stroke-width="1.29"/>
<line x1="168" y1="276.6" x2="216" y2="291" stroke="#000" stroke-width="1.17"/>
<line x1="180" y1="278.9" x2="209" y2="288" stroke="#000" stroke-width="1.17"/>
<path d="M192.5 300.6 L232.6 288.6 L236 291.5 L234.9 295.2 L206 305 Z" fill="#fff" stroke="#000" stroke-width="1.17"/>
<ellipse cx="197.6" cy="299" rx="1.1" ry="0.8" fill="#fff" stroke="#000" stroke-width="0.94"/>
<ellipse cx="203.7" cy="297.3" rx="1.1" ry="0.8" fill="#fff" stroke="#000" stroke-width="0.94"/>
<ellipse cx="209.8" cy="295.6" rx="1.1" ry="0.8" fill="#fff" stroke="#000" stroke-width="0.94"/>
<ellipse cx="215.9" cy="293.8" rx="1.1" ry="0.8" fill="#fff" stroke="#000" stroke-width="0.94"/>
<ellipse cx="222" cy="292.1" rx="1.1" ry="0.8" fill="#fff" stroke="#000" stroke-width="0.94"/>
<ellipse cx="228.1" cy="290.4" rx="1.1" ry="0.8" fill="#fff" stroke="#000" stroke-width="0.94"/>
<path d="M140 276.6 L152 271 L165 280.4 L196 304.2 L188.5 314 Z" fill="#fff" stroke="#000" stroke-width="1.29"/>
<path d="M137.7 271.3 L145.3 278 Q146 274.5 149.5 273.6 Q158 271.5 163 276 L165 280.4 Q166 277 169 276.2 Q176 274.5 180.4 279 L181 266 L160 262 L140 265 Z" fill="#fff" stroke="#000" stroke-width="1.29" />
<path d="M123.3 253.6 L125.6 260.7 Q128 265.5 133 268 L140 269.5 L160.4 269.2 Q156 264.5 154.5 261 L151.3 253.6 Z" fill="#fff" stroke="#000" stroke-width="1.29" />
<path d="M152 258.5 L155 253.9 L158 249.4 L162 250.9 L167.2 262.2 L175.5 260.7 L180 265.3 L177.8 269.8 L166 270.5 L160.4 269 L155 263.5 Z" fill="#fff" stroke="#000" stroke-width="1.29" />
<path d="M155.5 256.5 L164 268.3 L177.5 268.3" fill="none" stroke="#000" stroke-width="1.17" />
<ellipse cx="158.6" cy="254.4" rx="1.4" ry="1.5" fill="#fff" stroke="#000" stroke-width="1.05"/>
<ellipse cx="137.3" cy="254" rx="14" ry="5.3" fill="#fff" stroke="#000" stroke-width="1.29"/>
<ellipse cx="137.3" cy="254.3" rx="10.2" ry="3.4" fill="#fff" stroke="#000" stroke-width="2.22"/>
<ellipse cx="149.3" cy="257.5" rx="1.6" ry="1.2" fill="#fff" stroke="#000" stroke-width="0.94"/>
<path d="M131 271.5 L134 269.8 L137.9 272 L137.9 277.8 L134.9 279.6 L131 277.2 Z" fill="#fff" stroke="#000" stroke-width="1.17"/>
<line x1="131" y1="271.5" x2="134.9" y2="273.8" stroke="#000" stroke-width="1.17"/>
<line x1="134.9" y1="273.8" x2="137.9" y2="272" stroke="#000" stroke-width="1.17"/>
<line x1="134.9" y1="273.8" x2="134.9" y2="279.6" stroke="#000" stroke-width="1.17"/>
<g transform="translate(191.4 312.3) rotate(-17.5)">
<path d="M0 -5.5 L18.5 -5.5 A2.75 5.5 0 0 1 18.5 5.5 L0 5.5 Z" fill="#fff" stroke="#000" stroke-width="1.29"/>
<ellipse cx="0" cy="0" rx="3.3" ry="5.5" fill="#fff" stroke="#000" stroke-width="1.29"/>
<ellipse cx="0.2" cy="0" rx="1.98" ry="3.3" fill="#fff" stroke="#000" stroke-width="1.17"/>
<ellipse cx="10.175" cy="-4.7" rx="1.5" ry="1" fill="#fff" stroke="#000" stroke-width="1.05"/>
</g>
<g transform="translate(243.5 294.7) rotate(-17.5)">
<path d="M0 -5.3 L20 -5.3 A2.65 5.3 0 0 1 20 5.3 L0 5.3 Z" fill="#fff" stroke="#000" stroke-width="1.29"/>
<ellipse cx="0" cy="0" rx="3.1799999999999997" ry="5.3" fill="#fff" stroke="#000" stroke-width="1.29"/>
<ellipse cx="0.2" cy="0" rx="1.908" ry="3.1799999999999997" fill="#fff" stroke="#000" stroke-width="1.17"/>
<ellipse cx="11.0" cy="-4.5" rx="1.5" ry="1" fill="#fff" stroke="#000" stroke-width="1.05"/>
</g>
<g transform="translate(213.5 276.5) rotate(70)">
<g transform="scale(0.7)">
<path d="M-1.6 5 L-1.6 2 L-3 1.6 L-3 -1 L-1.8 -1.4 L-1.8 -3 L-2.6 -3.6 L-2.2 -5 L2.2 -5 L2.6 -3.6 L1.8 -3 L1.8 -1.4 L3 -1 L3 1.6 L1.6 2 L1.6 5 Z" fill="#fff" stroke="#000" stroke-width="1.17"/>
<path d="M-3 -1 L3 -1 M-3 0.4 L3 0.4 M-3 1.6 L3 1.6 M-1.6 3 L1.6 3 M-1.6 4 L1.6 4 M-1.8 -3 L1.8 -3" stroke="#000" stroke-width="0.82"/>
</g>
</g>
<path d="M481 406.8 L493 401.5 L533.6 435.4 L571 464.8 L556 468 L511.8 430 Z" fill="#fff" stroke="#000" stroke-width="1.29"/>
<path d="M452.4 422.8 L500.8 410.7 L503 414 L502.3 419.8 L466 430.6 Z" fill="#fff" stroke="#000" stroke-width="1.17"/>
<ellipse cx="463.9" cy="424.3" rx="1.2" ry="0.9" fill="#fff" stroke="#000" stroke-width="0.94"/>
<ellipse cx="470.6" cy="422.4" rx="1.2" ry="0.9" fill="#fff" stroke="#000" stroke-width="0.94"/>
<ellipse cx="477.3" cy="420.4" rx="1.2" ry="0.9" fill="#fff" stroke="#000" stroke-width="0.94"/>
<ellipse cx="484.1" cy="418.4" rx="1.2" ry="0.9" fill="#fff" stroke="#000" stroke-width="0.94"/>
<ellipse cx="490.8" cy="416.5" rx="1.2" ry="0.9" fill="#fff" stroke="#000" stroke-width="0.94"/>
<path d="M424.8 423.6 L429.8 415.5 L465 432.4 L490 443.6 L551.7 469 L575 470.3 L585 488 L581 498 L552 485 L490 457.2 L465 443.6 Z" fill="#fff" stroke="#000" stroke-width="1.29"/>
<path d="M465 433 L497.7 424 L505 426.3" fill="none" stroke="#000" stroke-width="1.17" />
<path d="M525.5 429 L529 426.5 L533.3 429 L533.3 435 L529.6 437 L525.5 434.6 Z" fill="#fff" stroke="#000" stroke-width="1.17"/>
<line x1="525.5" y1="429" x2="529.6" y2="431.2" stroke="#000" stroke-width="1.17"/>
<line x1="529.6" y1="431.2" x2="533.3" y2="429" stroke="#000" stroke-width="1.17"/>
<line x1="529.6" y1="431.2" x2="529.6" y2="437" stroke="#000" stroke-width="1.17"/>
<path d="M552.6 465.4 L562.6 469.2 L572.6 467.2 M550.9 465 L555.4 468.7 L563 465 L571.3 467.2 L561.5 472.5 L575 470.3" fill="none" stroke="#000" stroke-width="1.17" />
<path d="M575 470.3 L580.4 466.5 L585.7 465 L588.7 468.7 L595.5 475.6 L594.8 480.8 L588.7 484.2 L581.5 486.5 Z" fill="#fff" stroke="#000" stroke-width="1.29"/>
<line x1="585.7" y1="465" x2="588" y2="481.5" stroke="#000" stroke-width="1.17"/>
<line x1="588" y1="481.5" x2="594.8" y2="480.8" stroke="#000" stroke-width="1.17"/>
<line x1="588.7" y1="468.7" x2="589.5" y2="478" stroke="#000" stroke-width="1.17"/>
<ellipse cx="584.2" cy="469.7" rx="1.4" ry="1.6" fill="#fff" stroke="#000" stroke-width="1.05"/>
<path d="M581 498 L585 488.4 L591 483.9 L597 485.5 L616.5 492 Q617.5 498 615.5 503.2 L592 501 Q585 500.5 581 498 Z" fill="#fff" stroke="#000" stroke-width="1.29" />
<ellipse cx="603.8" cy="492.2" rx="12.7" ry="6.6" fill="#fff" stroke="#000" stroke-width="1.29"/>
<ellipse cx="603.8" cy="492.6" rx="9" ry="4.3" fill="#fff" stroke="#000" stroke-width="1.99"/>
<line x1="549.4" y1="483.9" x2="567.5" y2="492.2" stroke="#000" stroke-width="1.05"/>
<path d="M566 489.8 L569.6 488.4 L574.3 490.6 L574.3 497.6 L570.6 499.2 L566 497.2 Z" fill="#fff" stroke="#000" stroke-width="1.17"/>
<line x1="569.8" y1="491.8" x2="569.8" y2="498.8" stroke="#000" stroke-width="1.17"/>
<line x1="566" y1="489.8" x2="569.8" y2="491.8" stroke="#000" stroke-width="1.17"/>
<line x1="569.8" y1="491.8" x2="574.3" y2="490.6" stroke="#000" stroke-width="1.17"/>
<g transform="translate(420.8 417) rotate(-17.5)">
<path d="M0 -5.4 L17.5 -5.4 A2.7 5.4 0 0 1 17.5 5.4 L0 5.4 Z" fill="#fff" stroke="#000" stroke-width="1.29"/>
<ellipse cx="0" cy="0" rx="3.24" ry="5.4" fill="#fff" stroke="#000" stroke-width="1.29"/>
<ellipse cx="0.2" cy="0" rx="1.944" ry="3.24" fill="#fff" stroke="#000" stroke-width="1.17"/>
<ellipse cx="9.625" cy="-4.6000000000000005" rx="1.5" ry="1" fill="#fff" stroke="#000" stroke-width="1.05"/>
</g>
<g transform="translate(474.5 400) rotate(-17.5)">
<path d="M0 -5.4 L18 -5.4 A2.7 5.4 0 0 1 18 5.4 L0 5.4 Z" fill="#fff" stroke="#000" stroke-width="1.29"/>
<ellipse cx="0" cy="0" rx="3.24" ry="5.4" fill="#fff" stroke="#000" stroke-width="1.29"/>
<ellipse cx="0.2" cy="0" rx="1.944" ry="3.24" fill="#fff" stroke="#000" stroke-width="1.17"/>
<ellipse cx="9.9" cy="-4.6000000000000005" rx="1.5" ry="1" fill="#fff" stroke="#000" stroke-width="1.05"/>
</g>
<path d="M120.6 586 Q121.5 582.2 126 581.6 L149.3 580.6 L231 590.3 L252 593.3 L281 598 L277 608 L236 613.5 L231 622 L132.7 597.8 L122.5 591 Q120.4 589 120.6 586 Z" fill="#fff" stroke="#000" stroke-width="1.29" />
<line x1="149.3" y1="591.8" x2="234" y2="613" stroke="#000" stroke-width="1.17"/>
<path d="M150 585 L190 590 L231 597.5 M158 589.5 L222 603.5 L240 603.5 M190 596.5 L222 603.5" fill="none" stroke="#000" stroke-width="1.05" />
<ellipse cx="128.6" cy="584.4" rx="5" ry="1.9" fill="#fff" stroke="#000" stroke-width="1.4"/>
<path d="M121 587.2 Q123.5 590.6 129 590.4 L134.5 589.6" fill="none" stroke="#000" stroke-width="1.17" />
<path d="M132.7 590 L149.3 588.7 L149.3 600.8 L134 597.5 Z" fill="#fff" stroke="#000" stroke-width="1.17"/>
<line x1="135.5" y1="593" x2="147" y2="592" stroke="#000" stroke-width="1.17"/>
<ellipse cx="138.5" cy="595.6" rx="0.9" ry="0.9" fill="#fff" stroke="#000" stroke-width="0.94"/>
<ellipse cx="144.5" cy="596.6" rx="0.9" ry="0.9" fill="#fff" stroke="#000" stroke-width="0.94"/>
<path d="M229.5 577 Q231 573.4 235.6 573.4 Q241 573.8 243.5 577.5 L255.5 593.5 L248 596 L238 592 L230.7 590.2 Z" fill="#fff" stroke="#000" stroke-width="1.29" />
<line x1="237.5" y1="575.5" x2="249" y2="593.5" stroke="#000" stroke-width="1.05"/>
<ellipse cx="235.3" cy="579.6" rx="1.6" ry="1.9" fill="#fff" stroke="#000" stroke-width="1.05"/>
<g transform="translate(236.5 618.3) rotate(-17.5)">
<path d="M0 -5.3 L19 -5.3 A2.65 5.3 0 0 1 19 5.3 L0 5.3 Z" fill="#fff" stroke="#000" stroke-width="1.29"/>
<ellipse cx="0" cy="0" rx="3.1799999999999997" ry="5.3" fill="#fff" stroke="#000" stroke-width="1.29"/>
<ellipse cx="0.2" cy="0" rx="1.908" ry="3.1799999999999997" fill="#fff" stroke="#000" stroke-width="1.17"/>
<ellipse cx="10.450000000000001" cy="-4.5" rx="1.5" ry="1" fill="#fff" stroke="#000" stroke-width="1.05"/>
</g>
<g transform="translate(280.6 604.6) rotate(-17.5)">
<path d="M0 -5.3 L19 -5.3 A2.65 5.3 0 0 1 19 5.3 L0 5.3 Z" fill="#fff" stroke="#000" stroke-width="1.29"/>
<ellipse cx="0" cy="0" rx="3.1799999999999997" ry="5.3" fill="#fff" stroke="#000" stroke-width="1.29"/>
<ellipse cx="0.2" cy="0" rx="1.908" ry="3.1799999999999997" fill="#fff" stroke="#000" stroke-width="1.17"/>
<ellipse cx="10.450000000000001" cy="-4.5" rx="1.5" ry="1" fill="#fff" stroke="#000" stroke-width="1.05"/>
</g>
<path d="M465 669 L476 657 L575.5 782 L562 790 L556 768 Z" fill="#fff" stroke="#000" stroke-width="1.29"/>
<path d="M418.6 681.3 L431 670.5 L452.2 690.4 L558 769.5 L563 777 L549 788.6 Z" fill="#fff" stroke="#000" stroke-width="1.29"/>
<path d="M431.3 669.5 L456.7 660.4 L472.2 656.8 L490.3 678.6 L465 666.8 L445.8 674 L452.2 690.4 L446.8 687.7 L430.4 671.3 Z" fill="#fff" stroke="#000" stroke-width="1.17"/>
<line x1="472.2" y1="656.8" x2="490.3" y2="678.6" stroke="#000" stroke-width="2.34"/>
<ellipse cx="438.5" cy="672.3" rx="0.7" ry="0.7" fill="#fff" stroke="#000" stroke-width="0.82"/>
<ellipse cx="470.5" cy="661.5" rx="0.7" ry="0.7" fill="#fff" stroke="#000" stroke-width="0.82"/>
<path d="M535 759.5 L555 767.5 L550 752" fill="none" stroke="#000" stroke-width="1.17" />
<path d="M530.6 772 L535 768.6 L552.5 781 L551.7 788.3 L547 789.5 L530.8 777.5 Z" fill="#fff" stroke="#000" stroke-width="1.17"/>
<line x1="535" y1="768.6" x2="535.2" y2="774" stroke="#000" stroke-width="1.17"/>
<ellipse cx="538" cy="775.5" rx="0.9" ry="0.9" fill="#fff" stroke="#000" stroke-width="0.94"/>
<ellipse cx="545" cy="780.5" rx="0.9" ry="0.9" fill="#fff" stroke="#000" stroke-width="0.94"/>
<path d="M556 783.5 L566 778.5 Q585 782 590 791.5 Q589 799.5 580 800 Q568 800 558 793.5 Z" fill="#fff" stroke="#000" stroke-width="1.29" />
<line x1="560" y1="786" x2="572" y2="780.5" stroke="#000" stroke-width="1.05"/>
<ellipse cx="578" cy="791.8" rx="6.8" ry="3.3" fill="#fff" stroke="#000" stroke-width="1.52"/>
<ellipse cx="578" cy="792" rx="3.8" ry="1.8" fill="#fff" stroke="#000" stroke-width="1.17"/>
<path d="M494.5 683 L499.5 677.5 L503.5 679.5 L500.5 685 L507 689 L510.5 684 L514.5 686.5 L513.5 703 L508.5 705 L509 693.5 L499 692.5 L494.5 688 Z" fill="#fff" stroke="#000" stroke-width="1.29" />
<ellipse cx="499.3" cy="682.6" rx="1.2" ry="1.4" fill="#fff" stroke="#000" stroke-width="0.94"/>
<g transform="translate(414.3 675) rotate(-17.5)">
<path d="M0 -5.3 L18 -5.3 A2.65 5.3 0 0 1 18 5.3 L0 5.3 Z" fill="#fff" stroke="#000" stroke-width="1.29"/>
<ellipse cx="0" cy="0" rx="3.1799999999999997" ry="5.3" fill="#fff" stroke="#000" stroke-width="1.29"/>
<ellipse cx="0.2" cy="0" rx="1.908" ry="3.1799999999999997" fill="#fff" stroke="#000" stroke-width="1.17"/>
<ellipse cx="9.9" cy="-4.5" rx="1.5" ry="1" fill="#fff" stroke="#000" stroke-width="1.05"/>
</g>
<g transform="translate(459.3 659.9) rotate(-17.5)">
<path d="M0 -5.3 L18.5 -5.3 A2.65 5.3 0 0 1 18.5 5.3 L0 5.3 Z" fill="#fff" stroke="#000" stroke-width="1.29"/>
<ellipse cx="0" cy="0" rx="3.1799999999999997" ry="5.3" fill="#fff" stroke="#000" stroke-width="1.29"/>
<ellipse cx="0.2" cy="0" rx="1.908" ry="3.1799999999999997" fill="#fff" stroke="#000" stroke-width="1.17"/>
<ellipse cx="10.175" cy="-4.5" rx="1.5" ry="1" fill="#fff" stroke="#000" stroke-width="1.05"/>
</g>
<g transform="translate(96 344.5) rotate(-17.5)">
<path d="M3 -2.3 L30 -2.3 L30 2.3 L3 2.3 Z" fill="#fff" stroke="#000" stroke-width="1.17"/>
<path d="M28.8 -2.3 L28 2.3" stroke="#000" stroke-width="1.05"/>
<path d="M27.3 -2.3 L26.5 2.3" stroke="#000" stroke-width="1.05"/>
<path d="M25.8 -2.3 L25 2.3" stroke="#000" stroke-width="1.05"/>
<path d="M24.3 -2.3 L23.5 2.3" stroke="#000" stroke-width="1.05"/>
<path d="M22.8 -2.3 L22 2.3" stroke="#000" stroke-width="1.05"/>
<path d="M-3.5 -4.3 L3.5 -4.3 A2 4.3 0 0 1 3.5 4.3 L-3.5 4.3 Z" fill="#fff" stroke="#000" stroke-width="1.17"/>
<ellipse cx="-3.5" cy="0" rx="2.6" ry="4.3" fill="#fff" stroke="#000" stroke-width="1.17"/>
</g>
<g transform="translate(130 333) rotate(-17.5)">
<ellipse cx="1" cy="0" rx="3.3" ry="4.6" fill="#fff" stroke="#000" stroke-width="1.17"/>
<ellipse cx="0" cy="0" rx="3.3" ry="4.6" fill="#fff" stroke="#000" stroke-width="1.17"/>
<ellipse cx="0" cy="0" rx="1.5" ry="2.1" fill="#fff" stroke="#000" stroke-width="1.05"/>
</g>
<g transform="translate(141 330) rotate(-17.5)">
<ellipse cx="1.6" cy="0" rx="4.7" ry="6.3" fill="#fff" stroke="#000" stroke-width="1.17"/>
<ellipse cx="0" cy="0" rx="4.7" ry="6.3" fill="#fff" stroke="#000" stroke-width="1.64"/>
<ellipse cx="0" cy="0" rx="1.9" ry="2.5" fill="#fff" stroke="#000" stroke-width="1.17"/>
</g>
<g transform="translate(154.5 325) rotate(-17.5)">
<ellipse cx="3.6" cy="0" rx="3.4" ry="5.4" fill="#fff" stroke="#000" stroke-width="1.17"/>
<ellipse cx="2.2" cy="0" rx="3.4" ry="5.4" fill="#fff" stroke="#000" stroke-width="1.17"/>
<path d="M-2.5 -4.2 L2 -4.2 L2 4.2 L-2.5 4.2 Z" fill="#fff" stroke="none"/>
<path d="M-2.5 -4.2 L2 -4.2 M-2.5 4.2 L2 4.2" fill="none" stroke="#000" stroke-width="1.17"/>
<ellipse cx="-2.5" cy="0" rx="2.9" ry="4.2" fill="#fff" stroke="#000" stroke-width="1.52"/>
<ellipse cx="-2.3" cy="0" rx="1.7" ry="2.8" fill="#fff" stroke="#000" stroke-width="1.05"/>
</g>
<g transform="translate(164 322.5) rotate(-17.5)">
<path d="M0 -3.5 L20.5 -3.5 A1.75 3.5 0 0 1 20.5 3.5 L0 3.5 Z" fill="#fff" stroke="#000" stroke-width="1.17"/>
<ellipse cx="0" cy="0" rx="1.9250000000000003" ry="3.5" fill="#fff" stroke="#000" stroke-width="1.17"/>
<ellipse cx="0.1" cy="0" rx="1.05" ry="1.9250000000000003" fill="#fff" stroke="#000" stroke-width="0.94"/>
</g>
<g transform="translate(177 347) rotate(-17.5)">
<path d="M0 -4.6 L4 -4.6 A3 4.6 0 0 1 4 4.6 L0 4.6 Z" fill="#fff" stroke="#000" stroke-width="1.17"/>
<ellipse cx="3.2" cy="0" rx="3.6" ry="5.6" fill="#fff" stroke="#000" stroke-width="1.4"/>
<path d="M-2.5 -4 L2.5 -4 L2.5 4 L-2.5 4 Z" fill="#000" stroke="#000" stroke-width="1.17"/>
<ellipse cx="-2.5" cy="0" rx="2.9" ry="4.2" fill="#fff" stroke="#000" stroke-width="2.34"/>
</g>
<g transform="translate(189.5 343) rotate(-17.5)">
<ellipse cx="1.6" cy="0" rx="4.7" ry="6.3" fill="#fff" stroke="#000" stroke-width="1.17"/>
<ellipse cx="0" cy="0" rx="4.7" ry="6.3" fill="#fff" stroke="#000" stroke-width="2.57"/>
<ellipse cx="0" cy="0" rx="1.9" ry="2.5" fill="#fff" stroke="#000" stroke-width="1.17"/>
</g>
<g transform="translate(199 339.5) rotate(-17.5)">
<ellipse cx="1" cy="0" rx="3.3" ry="4.6" fill="#fff" stroke="#000" stroke-width="1.17"/>
<ellipse cx="0" cy="0" rx="3.3" ry="4.6" fill="#fff" stroke="#000" stroke-width="1.17"/>
<ellipse cx="0" cy="0" rx="1.5" ry="2.1" fill="#fff" stroke="#000" stroke-width="1.05"/>
</g>
<g transform="translate(209.5 336) rotate(-17.5)">
<path d="M0 -6 L4.2 -5 L5.6 0 L4.2 5 L0 6 Z" fill="#fff" stroke="#000" stroke-width="1.17"/>
<ellipse cx="0" cy="0" rx="4.7" ry="6" fill="#fff" stroke="#000" stroke-width="1.29"/>
<ellipse cx="0" cy="0" rx="2.4" ry="3.1" fill="#fff" stroke="#000" stroke-width="1.17"/>
</g>
<g transform="translate(228 330) rotate(-17.5)">
<path d="M0 -6 L4.2 -5 L5.6 0 L4.2 5 L0 6 Z" fill="#fff" stroke="#000" stroke-width="1.17"/>
<ellipse cx="0" cy="0" rx="4.7" ry="6" fill="#fff" stroke="#000" stroke-width="1.29"/>
<ellipse cx="0" cy="0" rx="2.4" ry="3.1" fill="#fff" stroke="#000" stroke-width="1.17"/>
</g>
<g transform="translate(239.5 325.6) rotate(-17.5)">
<ellipse cx="1" cy="0" rx="3.3" ry="4.6" fill="#fff" stroke="#000" stroke-width="1.17"/>
<ellipse cx="0" cy="0" rx="3.3" ry="4.6" fill="#fff" stroke="#000" stroke-width="1.17"/>
<ellipse cx="0" cy="0" rx="1.5" ry="2.1" fill="#fff" stroke="#000" stroke-width="1.05"/>
</g>
<g transform="translate(250.7 321.9) rotate(-17.5)">
<ellipse cx="1.6" cy="0" rx="4.7" ry="6.3" fill="#fff" stroke="#000" stroke-width="1.17"/>
<ellipse cx="0" cy="0" rx="4.7" ry="6.3" fill="#fff" stroke="#000" stroke-width="1.64"/>
<ellipse cx="0" cy="0" rx="1.9" ry="2.5" fill="#fff" stroke="#000" stroke-width="1.17"/>
</g>
<g transform="translate(263.7 317.4) rotate(-17.5)">
<path d="M0 -4.2 L5 -4.2 A2.4 4.2 0 0 1 5 4.2 L0 4.2 Z" fill="#fff" stroke="#000" stroke-width="1.17"/>
<ellipse cx="0.8" cy="0" rx="3.6" ry="5.5" fill="#fff" stroke="#000" stroke-width="1.17"/>
<ellipse cx="-0.6" cy="0" rx="3.6" ry="5.5" fill="#fff" stroke="#000" stroke-width="1.4"/>
<ellipse cx="-0.6" cy="0" rx="2.1" ry="3.3" fill="#fff" stroke="#000" stroke-width="1.17"/>
</g>
<g transform="translate(272.4 285.4) rotate(-17.5)">
<path d="M0 -3.5 L20.5 -3.5 A1.75 3.5 0 0 1 20.5 3.5 L0 3.5 Z" fill="#fff" stroke="#000" stroke-width="1.17"/>
<ellipse cx="0" cy="0" rx="1.9250000000000003" ry="3.5" fill="#fff" stroke="#000" stroke-width="1.17"/>
<ellipse cx="0.1" cy="0" rx="1.05" ry="1.9250000000000003" fill="#fff" stroke="#000" stroke-width="0.94"/>
</g>
<g transform="translate(298.6 277.4) rotate(-17.5)">
<ellipse cx="3.6" cy="0" rx="3.4" ry="5.4" fill="#fff" stroke="#000" stroke-width="1.17"/>
<ellipse cx="2.2" cy="0" rx="3.4" ry="5.4" fill="#fff" stroke="#000" stroke-width="1.17"/>
<path d="M-2.5 -4.2 L2 -4.2 L2 4.2 L-2.5 4.2 Z" fill="#fff" stroke="none"/>
<path d="M-2.5 -4.2 L2 -4.2 M-2.5 4.2 L2 4.2" fill="none" stroke="#000" stroke-width="1.17"/>
<ellipse cx="-2.5" cy="0" rx="2.9" ry="4.2" fill="#fff" stroke="#000" stroke-width="1.52"/>
<ellipse cx="-2.3" cy="0" rx="1.7" ry="2.8" fill="#fff" stroke="#000" stroke-width="1.05"/>
</g>
<g transform="translate(311 273) rotate(-17.5)">
<ellipse cx="1.6" cy="0" rx="4.7" ry="6.3" fill="#fff" stroke="#000" stroke-width="1.17"/>
<ellipse cx="0" cy="0" rx="4.7" ry="6.3" fill="#fff" stroke="#000" stroke-width="2.57"/>
<ellipse cx="0" cy="0" rx="1.9" ry="2.5" fill="#fff" stroke="#000" stroke-width="1.17"/>
</g>
<g transform="translate(321 270.4) rotate(-17.5)">
<ellipse cx="1" cy="0" rx="3.3" ry="4.6" fill="#fff" stroke="#000" stroke-width="1.17"/>
<ellipse cx="0" cy="0" rx="3.3" ry="4.6" fill="#fff" stroke="#000" stroke-width="1.17"/>
<ellipse cx="0" cy="0" rx="1.5" ry="2.1" fill="#fff" stroke="#000" stroke-width="1.05"/>
</g>
<g transform="translate(355.5 260.5) rotate(-17.5)">
<path d="M-3 -2.1 L-29 -2.1 L-29 2.1 L-3 2.1 Z" fill="#fff" stroke="#000" stroke-width="1.17"/>
<path d="M-28 -2.1 L-27.2 2.1" stroke="#000" stroke-width="1.05"/>
<path d="M-26.5 -2.1 L-25.7 2.1" stroke="#000" stroke-width="1.05"/>
<path d="M-25 -2.1 L-24.2 2.1" stroke="#000" stroke-width="1.05"/>
<path d="M-23.5 -2.1 L-22.7 2.1" stroke="#000" stroke-width="1.05"/>
<path d="M-22 -2.1 L-21.2 2.1" stroke="#000" stroke-width="1.05"/>
<path d="M-20.5 -2.1 L-19.7 2.1" stroke="#000" stroke-width="1.05"/>
<ellipse cx="-3" cy="0" rx="2.2" ry="5.2" fill="#fff" stroke="#000" stroke-width="1.17"/>
<path d="M-2.5 -3.8 L3.5 -4.2 L5 -1.5 L5 2 L3.5 4.2 L-2.5 3.8 Z" fill="#fff" stroke="#000" stroke-width="1.17"/>
<path d="M-2.4 -1.2 L5 -1.5 M-2.4 1.8 L5 2" stroke="#000" stroke-width="0.94"/>
</g>
<line x1="109" y1="347.5" x2="112.5" y2="366" stroke="#000" stroke-width="1.17"/>
<line x1="131" y1="339" x2="134" y2="360" stroke="#000" stroke-width="1.17"/>
<line x1="145" y1="337" x2="156" y2="352.5" stroke="#000" stroke-width="1.17"/>
<line x1="138" y1="315.5" x2="151" y2="323" stroke="#000" stroke-width="1.17"/>
<line x1="161" y1="307" x2="172.5" y2="316" stroke="#000" stroke-width="1.17"/>
<line x1="175" y1="352.5" x2="174" y2="380" stroke="#000" stroke-width="1.17"/>
<line x1="189.5" y1="350" x2="190" y2="375" stroke="#000" stroke-width="1.17"/>
<line x1="200" y1="344.5" x2="207.5" y2="367.5" stroke="#000" stroke-width="1.17"/>
<line x1="212.5" y1="341" x2="225" y2="360" stroke="#000" stroke-width="1.17"/>
<line x1="268.7" y1="320" x2="296" y2="336" stroke="#000" stroke-width="1.17"/>
<line x1="255" y1="326" x2="278.7" y2="342.3" stroke="#000" stroke-width="1.17"/>
<line x1="242" y1="329.4" x2="260" y2="347.3" stroke="#000" stroke-width="1.17"/>
<line x1="231.2" y1="334.8" x2="242.5" y2="353.6" stroke="#000" stroke-width="1.17"/>
<line x1="283.7" y1="288.7" x2="295" y2="305" stroke="#000" stroke-width="1.17"/>
<line x1="302.4" y1="281" x2="318.6" y2="300" stroke="#000" stroke-width="1.17"/>
<line x1="315" y1="278.7" x2="333.6" y2="292.4" stroke="#000" stroke-width="1.17"/>
<line x1="323.6" y1="275" x2="354.8" y2="286" stroke="#000" stroke-width="1.17"/>
<line x1="349.8" y1="266" x2="374.8" y2="277.4" stroke="#000" stroke-width="1.17"/>
<path d="M167 349.5 L167 336 L216 319.5 L216 306" fill="none" stroke="#000" stroke-width="1.17" stroke-dasharray="21 2.5 1.5 2.5"/>
<path d="M237.5 298.6 L237.5 311 L277.4 300 L277.4 313.6 L270 315.5" fill="none" stroke="#000" stroke-width="1.17" stroke-dasharray="21 2.5 1.5 2.5"/>
<line x1="184.5" y1="316" x2="189" y2="314.5" stroke="#000" stroke-width="1.17"/>
<line x1="265" y1="291" x2="271" y2="289" stroke="#000" stroke-width="1.17"/>
<g transform="translate(327.5 448.5) rotate(-17.5)">
<path d="M3 -2.3 L29 -2.3 L29 2.3 L3 2.3 Z" fill="#fff" stroke="#000" stroke-width="1.17"/>
<path d="M27.8 -2.3 L27 2.3" stroke="#000" stroke-width="1.05"/>
<path d="M26.3 -2.3 L25.5 2.3" stroke="#000" stroke-width="1.05"/>
<path d="M24.8 -2.3 L24 2.3" stroke="#000" stroke-width="1.05"/>
<path d="M23.3 -2.3 L22.5 2.3" stroke="#000" stroke-width="1.05"/>
<path d="M21.8 -2.3 L21 2.3" stroke="#000" stroke-width="1.05"/>
<path d="M-3.5 -4.3 L3.5 -4.3 A2 4.3 0 0 1 3.5 4.3 L-3.5 4.3 Z" fill="#fff" stroke="#000" stroke-width="1.17"/>
<ellipse cx="-3.5" cy="0" rx="2.6" ry="4.3" fill="#fff" stroke="#000" stroke-width="1.17"/>
</g>
<g transform="translate(361 437.4) rotate(-17.5)">
<ellipse cx="1" cy="0" rx="3.3" ry="4.6" fill="#fff" stroke="#000" stroke-width="1.17"/>
<ellipse cx="0" cy="0" rx="3.3" ry="4.6" fill="#fff" stroke="#000" stroke-width="1.17"/>
<ellipse cx="0" cy="0" rx="1.5" ry="2.1" fill="#fff" stroke="#000" stroke-width="1.05"/>
</g>
<g transform="translate(373 433.6) rotate(-17.5)">
<ellipse cx="1.6" cy="0" rx="4.7" ry="6.3" fill="#fff" stroke="#000" stroke-width="1.17"/>
<ellipse cx="0" cy="0" rx="4.7" ry="6.3" fill="#fff" stroke="#000" stroke-width="1.64"/>
<ellipse cx="0" cy="0" rx="1.9" ry="2.5" fill="#fff" stroke="#000" stroke-width="1.17"/>
</g>
<g transform="translate(385.6 429.4) rotate(-17.5)">
<ellipse cx="3.6" cy="0" rx="3.4" ry="5.4" fill="#fff" stroke="#000" stroke-width="1.17"/>
<ellipse cx="2.2" cy="0" rx="3.4" ry="5.4" fill="#fff" stroke="#000" stroke-width="1.17"/>
<path d="M-2.5 -4.2 L2 -4.2 L2 4.2 L-2.5 4.2 Z" fill="#fff" stroke="none"/>
<path d="M-2.5 -4.2 L2 -4.2 M-2.5 4.2 L2 4.2" fill="none" stroke="#000" stroke-width="1.17"/>
<ellipse cx="-2.5" cy="0" rx="2.9" ry="4.2" fill="#fff" stroke="#000" stroke-width="1.52"/>
<ellipse cx="-2.3" cy="0" rx="1.7" ry="2.8" fill="#fff" stroke="#000" stroke-width="1.05"/>
</g>
<g transform="translate(393.6 426) rotate(-17.5)">
<path d="M0 -3.5 L20.5 -3.5 A1.75 3.5 0 0 1 20.5 3.5 L0 3.5 Z" fill="#fff" stroke="#000" stroke-width="1.17"/>
<ellipse cx="0" cy="0" rx="1.9250000000000003" ry="3.5" fill="#fff" stroke="#000" stroke-width="1.17"/>
<ellipse cx="0.1" cy="0" rx="1.05" ry="1.9250000000000003" fill="#fff" stroke="#000" stroke-width="0.94"/>
</g>
<g transform="translate(417.3 465.3) rotate(-17.5)">
<path d="M0 -4.6 L4 -4.6 A3 4.6 0 0 1 4 4.6 L0 4.6 Z" fill="#fff" stroke="#000" stroke-width="1.17"/>
<ellipse cx="3.2" cy="0" rx="3.6" ry="5.6" fill="#fff" stroke="#000" stroke-width="1.4"/>
<path d="M-2.5 -4 L2.5 -4 L2.5 4 L-2.5 4 Z" fill="#000" stroke="#000" stroke-width="1.17"/>
<ellipse cx="-2.5" cy="0" rx="2.9" ry="4.2" fill="#fff" stroke="#000" stroke-width="2.34"/>
</g>
<g transform="translate(429.8 461.8) rotate(-17.5)">
<ellipse cx="1.6" cy="0" rx="4.7" ry="6.3" fill="#fff" stroke="#000" stroke-width="1.17"/>
<ellipse cx="0" cy="0" rx="4.7" ry="6.3" fill="#fff" stroke="#000" stroke-width="2.57"/>
<ellipse cx="0" cy="0" rx="1.9" ry="2.5" fill="#fff" stroke="#000" stroke-width="1.17"/>
</g>
<g transform="translate(439.8 458.6) rotate(-17.5)">
<ellipse cx="1" cy="0" rx="3.3" ry="4.6" fill="#fff" stroke="#000" stroke-width="1.17"/>
<ellipse cx="0" cy="0" rx="3.3" ry="4.6" fill="#fff" stroke="#000" stroke-width="1.17"/>
<ellipse cx="0" cy="0" rx="1.5" ry="2.1" fill="#fff" stroke="#000" stroke-width="1.05"/>
</g>
<g transform="translate(449.8 454.8) rotate(-17.5)">
<path d="M0 -6 L4.2 -5 L5.6 0 L4.2 5 L0 6 Z" fill="#fff" stroke="#000" stroke-width="1.17"/>
<ellipse cx="0" cy="0" rx="4.7" ry="6" fill="#fff" stroke="#000" stroke-width="1.29"/>
<ellipse cx="0" cy="0" rx="2.4" ry="3.1" fill="#fff" stroke="#000" stroke-width="1.17"/>
</g>
<g transform="translate(524.9 411) rotate(-17.5)">
<path d="M0 -6 L4.2 -5 L5.6 0 L4.2 5 L0 6 Z" fill="#fff" stroke="#000" stroke-width="1.17"/>
<ellipse cx="0" cy="0" rx="4.7" ry="6" fill="#fff" stroke="#000" stroke-width="1.29"/>
<ellipse cx="0" cy="0" rx="2.4" ry="3.1" fill="#fff" stroke="#000" stroke-width="1.17"/>
</g>
<g transform="translate(535.6 407) rotate(-17.5)">
<ellipse cx="1" cy="0" rx="3.3" ry="4.6" fill="#fff" stroke="#000" stroke-width="1.17"/>
<ellipse cx="0" cy="0" rx="3.3" ry="4.6" fill="#fff" stroke="#000" stroke-width="1.17"/>
<ellipse cx="0" cy="0" rx="1.5" ry="2.1" fill="#fff" stroke="#000" stroke-width="1.05"/>
</g>
<g transform="translate(547.3 402.4) rotate(-17.5)">
<ellipse cx="1.6" cy="0" rx="4.7" ry="6.3" fill="#fff" stroke="#000" stroke-width="1.17"/>
<ellipse cx="0" cy="0" rx="4.7" ry="6.3" fill="#fff" stroke="#000" stroke-width="1.64"/>
<ellipse cx="0" cy="0" rx="1.9" ry="2.5" fill="#fff" stroke="#000" stroke-width="1.17"/>
</g>
<g transform="translate(559.3 398) rotate(-17.5)">
<path d="M0 -4.2 L5 -4.2 A2.4 4.2 0 0 1 5 4.2 L0 4.2 Z" fill="#fff" stroke="#000" stroke-width="1.17"/>
<ellipse cx="0.8" cy="0" rx="3.6" ry="5.5" fill="#fff" stroke="#000" stroke-width="1.17"/>
<ellipse cx="-0.6" cy="0" rx="3.6" ry="5.5" fill="#fff" stroke="#000" stroke-width="1.4"/>
<ellipse cx="-0.6" cy="0" rx="2.1" ry="3.3" fill="#fff" stroke="#000" stroke-width="1.17"/>
</g>
<g transform="translate(501 392) rotate(-17.5)">
<path d="M0 -3.5 L20.5 -3.5 A1.75 3.5 0 0 1 20.5 3.5 L0 3.5 Z" fill="#fff" stroke="#000" stroke-width="1.17"/>
<ellipse cx="0" cy="0" rx="1.9250000000000003" ry="3.5" fill="#fff" stroke="#000" stroke-width="1.17"/>
<ellipse cx="0.1" cy="0" rx="1.05" ry="1.9250000000000003" fill="#fff" stroke="#000" stroke-width="0.94"/>
</g>
<g transform="translate(527.9 382.4) rotate(-17.5)">
<ellipse cx="3.6" cy="0" rx="3.4" ry="5.4" fill="#fff" stroke="#000" stroke-width="1.17"/>
<ellipse cx="2.2" cy="0" rx="3.4" ry="5.4" fill="#fff" stroke="#000" stroke-width="1.17"/>
<path d="M-2.5 -4.2 L2 -4.2 L2 4.2 L-2.5 4.2 Z" fill="#fff" stroke="none"/>
<path d="M-2.5 -4.2 L2 -4.2 M-2.5 4.2 L2 4.2" fill="none" stroke="#000" stroke-width="1.17"/>
<ellipse cx="-2.5" cy="0" rx="2.9" ry="4.2" fill="#fff" stroke="#000" stroke-width="1.52"/>
<ellipse cx="-2.3" cy="0" rx="1.7" ry="2.8" fill="#fff" stroke="#000" stroke-width="1.05"/>
</g>
<g transform="translate(539.9 378.7) rotate(-17.5)">
<ellipse cx="1.6" cy="0" rx="4.7" ry="6.3" fill="#fff" stroke="#000" stroke-width="1.17"/>
<ellipse cx="0" cy="0" rx="4.7" ry="6.3" fill="#fff" stroke="#000" stroke-width="2.57"/>
<ellipse cx="0" cy="0" rx="1.9" ry="2.5" fill="#fff" stroke="#000" stroke-width="1.17"/>
</g>
<g transform="translate(549.8 375.7) rotate(-17.5)">
<ellipse cx="1" cy="0" rx="3.3" ry="4.6" fill="#fff" stroke="#000" stroke-width="1.17"/>
<ellipse cx="0" cy="0" rx="3.3" ry="4.6" fill="#fff" stroke="#000" stroke-width="1.17"/>
<ellipse cx="0" cy="0" rx="1.5" ry="2.1" fill="#fff" stroke="#000" stroke-width="1.05"/>
</g>
<g transform="translate(584.8 366) rotate(-17.5)">
<path d="M-3 -2.1 L-29 -2.1 L-29 2.1 L-3 2.1 Z" fill="#fff" stroke="#000" stroke-width="1.17"/>
<path d="M-28 -2.1 L-27.2 2.1" stroke="#000" stroke-width="1.05"/>
<path d="M-26.5 -2.1 L-25.7 2.1" stroke="#000" stroke-width="1.05"/>
<path d="M-25 -2.1 L-24.2 2.1" stroke="#000" stroke-width="1.05"/>
<path d="M-23.5 -2.1 L-22.7 2.1" stroke="#000" stroke-width="1.05"/>
<path d="M-22 -2.1 L-21.2 2.1" stroke="#000" stroke-width="1.05"/>
<path d="M-20.5 -2.1 L-19.7 2.1" stroke="#000" stroke-width="1.05"/>
<ellipse cx="-3" cy="0" rx="2.2" ry="5.2" fill="#fff" stroke="#000" stroke-width="1.17"/>
<path d="M-2.5 -3.8 L3.5 -4.2 L5 -1.5 L5 2 L3.5 4.2 L-2.5 3.8 Z" fill="#fff" stroke="#000" stroke-width="1.17"/>
<path d="M-2.4 -1.2 L5 -1.5 M-2.4 1.8 L5 2" stroke="#000" stroke-width="0.94"/>
</g>
<line x1="316" y1="408.7" x2="333.7" y2="443.6" stroke="#000" stroke-width="1.17"/>
<line x1="340" y1="401" x2="360" y2="433.6" stroke="#000" stroke-width="1.17"/>
<line x1="361" y1="393.7" x2="371" y2="428" stroke="#000" stroke-width="1.17"/>
<line x1="379.4" y1="386" x2="385" y2="425" stroke="#000" stroke-width="1.17"/>
<line x1="398.6" y1="382" x2="401.8" y2="420" stroke="#000" stroke-width="1.17"/>
<line x1="424.8" y1="372" x2="432.3" y2="381.2" stroke="#000" stroke-width="1.17"/>
<line x1="419.3" y1="471" x2="426" y2="488.5" stroke="#000" stroke-width="1.17"/>
<line x1="431.8" y1="467.3" x2="443.5" y2="479.8" stroke="#000" stroke-width="1.17"/>
<line x1="442.3" y1="462.3" x2="457.3" y2="474.8" stroke="#000" stroke-width="1.17"/>
<line x1="456.2" y1="459.8" x2="472.5" y2="469.8" stroke="#000" stroke-width="1.17"/>
<line x1="487.4" y1="360" x2="508.6" y2="383.7" stroke="#000" stroke-width="1.17"/>
<line x1="504" y1="352" x2="524.5" y2="377.5" stroke="#000" stroke-width="1.17"/>
<line x1="521.5" y1="348.5" x2="536.5" y2="372.5" stroke="#000" stroke-width="1.17"/>
<line x1="543.5" y1="340" x2="549.7" y2="371" stroke="#000" stroke-width="1.17"/>
<line x1="564.6" y1="336" x2="578.3" y2="362.3" stroke="#000" stroke-width="1.17"/>
<line x1="467.4" y1="365" x2="481" y2="371.2" stroke="#000" stroke-width="1.17"/>
<line x1="567.5" y1="400" x2="582.4" y2="400.6" stroke="#000" stroke-width="1.17"/>
<line x1="552.3" y1="407.4" x2="573.5" y2="417.4" stroke="#000" stroke-width="1.17"/>
<line x1="538.6" y1="411.1" x2="554.8" y2="422.4" stroke="#000" stroke-width="1.17"/>
<line x1="530.4" y1="415" x2="542.4" y2="426.2" stroke="#000" stroke-width="1.17"/>
<path d="M407.8 469.3 L407.8 448.6 L444.8 436 L444.8 410" fill="none" stroke="#000" stroke-width="1.17" stroke-dasharray="21 2.5 1.5 2.5"/>
<path d="M467.5 416 L467.5 402.4" fill="none" stroke="#000" stroke-width="1.17" stroke-dasharray="21 2.5 1.5 2.5"/>
<path d="M467.5 415 L571 383.7 L571 396 L565 396" fill="none" stroke="#000" stroke-width="1.17" stroke-dasharray="21 2.5 1.5 2.5"/>
<line x1="415" y1="421" x2="420" y2="419.5" stroke="#000" stroke-width="1.17"/>
<line x1="492" y1="394.5" x2="500" y2="392.3" stroke="#000" stroke-width="1.17"/>
<g transform="translate(136.5 652.3) rotate(-17.5)">
<path d="M3 -2.3 L30 -2.3 L30 2.3 L3 2.3 Z" fill="#fff" stroke="#000" stroke-width="1.17"/>
<path d="M28.8 -2.3 L28 2.3" stroke="#000" stroke-width="1.05"/>
<path d="M27.3 -2.3 L26.5 2.3" stroke="#000" stroke-width="1.05"/>
<path d="M25.8 -2.3 L25 2.3" stroke="#000" stroke-width="1.05"/>
<path d="M24.3 -2.3 L23.5 2.3" stroke="#000" stroke-width="1.05"/>
<path d="M22.8 -2.3 L22 2.3" stroke="#000" stroke-width="1.05"/>
<path d="M-3.5 -4.3 L3.5 -4.3 A2 4.3 0 0 1 3.5 4.3 L-3.5 4.3 Z" fill="#fff" stroke="#000" stroke-width="1.17"/>
<ellipse cx="-3.5" cy="0" rx="2.6" ry="4.3" fill="#fff" stroke="#000" stroke-width="1.17"/>
</g>
<g transform="translate(170.3 640.6) rotate(-17.5)">
<ellipse cx="1" cy="0" rx="3.3" ry="4.6" fill="#fff" stroke="#000" stroke-width="1.17"/>
<ellipse cx="0" cy="0" rx="3.3" ry="4.6" fill="#fff" stroke="#000" stroke-width="1.17"/>
<ellipse cx="0" cy="0" rx="1.5" ry="2.1" fill="#fff" stroke="#000" stroke-width="1.05"/>
</g>
<g transform="translate(182.3 636.8) rotate(-17.5)">
<ellipse cx="1.6" cy="0" rx="4.7" ry="6.3" fill="#fff" stroke="#000" stroke-width="1.17"/>
<ellipse cx="0" cy="0" rx="4.7" ry="6.3" fill="#fff" stroke="#000" stroke-width="1.64"/>
<ellipse cx="0" cy="0" rx="1.9" ry="2.5" fill="#fff" stroke="#000" stroke-width="1.17"/>
</g>
<g transform="translate(194.8 632.8) rotate(-17.5)">
<ellipse cx="3.6" cy="0" rx="3.4" ry="5.4" fill="#fff" stroke="#000" stroke-width="1.17"/>
<ellipse cx="2.2" cy="0" rx="3.4" ry="5.4" fill="#fff" stroke="#000" stroke-width="1.17"/>
<path d="M-2.5 -4.2 L2 -4.2 L2 4.2 L-2.5 4.2 Z" fill="#fff" stroke="none"/>
<path d="M-2.5 -4.2 L2 -4.2 M-2.5 4.2 L2 4.2" fill="none" stroke="#000" stroke-width="1.17"/>
<ellipse cx="-2.5" cy="0" rx="2.9" ry="4.2" fill="#fff" stroke="#000" stroke-width="1.52"/>
<ellipse cx="-2.3" cy="0" rx="1.7" ry="2.8" fill="#fff" stroke="#000" stroke-width="1.05"/>
</g>
<g transform="translate(203.5 629.8) rotate(-17.5)">
<path d="M0 -3.5 L20.5 -3.5 A1.75 3.5 0 0 1 20.5 3.5 L0 3.5 Z" fill="#fff" stroke="#000" stroke-width="1.17"/>
<ellipse cx="0" cy="0" rx="1.9250000000000003" ry="3.5" fill="#fff" stroke="#000" stroke-width="1.17"/>
<ellipse cx="0.1" cy="0" rx="1.05" ry="1.9250000000000003" fill="#fff" stroke="#000" stroke-width="0.94"/>
</g>
<g transform="translate(224.5 660.3) rotate(-17.5)">
<path d="M0 -4.6 L4 -4.6 A3 4.6 0 0 1 4 4.6 L0 4.6 Z" fill="#fff" stroke="#000" stroke-width="1.17"/>
<ellipse cx="3.2" cy="0" rx="3.6" ry="5.6" fill="#fff" stroke="#000" stroke-width="1.4"/>
<path d="M-2.5 -4 L2.5 -4 L2.5 4 L-2.5 4 Z" fill="#000" stroke="#000" stroke-width="1.17"/>
<ellipse cx="-2.5" cy="0" rx="2.9" ry="4.2" fill="#fff" stroke="#000" stroke-width="2.34"/>
</g>
<g transform="translate(235 657.3) rotate(-17.5)">
<ellipse cx="1.6" cy="0" rx="4.7" ry="6.3" fill="#fff" stroke="#000" stroke-width="1.17"/>
<ellipse cx="0" cy="0" rx="4.7" ry="6.3" fill="#fff" stroke="#000" stroke-width="2.57"/>
<ellipse cx="0" cy="0" rx="1.9" ry="2.5" fill="#fff" stroke="#000" stroke-width="1.17"/>
</g>
<g transform="translate(245.4 653.6) rotate(-17.5)">
<ellipse cx="1" cy="0" rx="3.3" ry="4.6" fill="#fff" stroke="#000" stroke-width="1.17"/>
<ellipse cx="0" cy="0" rx="3.3" ry="4.6" fill="#fff" stroke="#000" stroke-width="1.17"/>
<ellipse cx="0" cy="0" rx="1.5" ry="2.1" fill="#fff" stroke="#000" stroke-width="1.05"/>
</g>
<g transform="translate(255.4 649.8) rotate(-17.5)">
<path d="M0 -6 L4.2 -5 L5.6 0 L4.2 5 L0 6 Z" fill="#fff" stroke="#000" stroke-width="1.17"/>
<ellipse cx="0" cy="0" rx="4.7" ry="6" fill="#fff" stroke="#000" stroke-width="1.29"/>
<ellipse cx="0" cy="0" rx="2.4" ry="3.1" fill="#fff" stroke="#000" stroke-width="1.17"/>
</g>
<g transform="translate(273 643.6) rotate(-17.5)">
<path d="M0 -6 L4.2 -5 L5.6 0 L4.2 5 L0 6 Z" fill="#fff" stroke="#000" stroke-width="1.17"/>
<ellipse cx="0" cy="0" rx="4.7" ry="6" fill="#fff" stroke="#000" stroke-width="1.29"/>
<ellipse cx="0" cy="0" rx="2.4" ry="3.1" fill="#fff" stroke="#000" stroke-width="1.17"/>
</g>
<g transform="translate(284.9 639.4) rotate(-17.5)">
<ellipse cx="1" cy="0" rx="3.3" ry="4.6" fill="#fff" stroke="#000" stroke-width="1.17"/>
<ellipse cx="0" cy="0" rx="3.3" ry="4.6" fill="#fff" stroke="#000" stroke-width="1.17"/>
<ellipse cx="0" cy="0" rx="1.5" ry="2.1" fill="#fff" stroke="#000" stroke-width="1.05"/>
</g>
<g transform="translate(296 635.4) rotate(-17.5)">
<ellipse cx="1.6" cy="0" rx="4.7" ry="6.3" fill="#fff" stroke="#000" stroke-width="1.17"/>
<ellipse cx="0" cy="0" rx="4.7" ry="6.3" fill="#fff" stroke="#000" stroke-width="1.64"/>
<ellipse cx="0" cy="0" rx="1.9" ry="2.5" fill="#fff" stroke="#000" stroke-width="1.17"/>
</g>
<g transform="translate(308.6 631) rotate(-17.5)">
<path d="M0 -4.2 L5 -4.2 A2.4 4.2 0 0 1 5 4.2 L0 4.2 Z" fill="#fff" stroke="#000" stroke-width="1.17"/>
<ellipse cx="0.8" cy="0" rx="3.6" ry="5.5" fill="#fff" stroke="#000" stroke-width="1.17"/>
<ellipse cx="-0.6" cy="0" rx="3.6" ry="5.5" fill="#fff" stroke="#000" stroke-width="1.4"/>
<ellipse cx="-0.6" cy="0" rx="2.1" ry="3.3" fill="#fff" stroke="#000" stroke-width="1.17"/>
</g>
<g transform="translate(304.8 595.4) rotate(-17.5)">
<path d="M0 -3.5 L20.5 -3.5 A1.75 3.5 0 0 1 20.5 3.5 L0 3.5 Z" fill="#fff" stroke="#000" stroke-width="1.17"/>
<ellipse cx="0" cy="0" rx="1.9250000000000003" ry="3.5" fill="#fff" stroke="#000" stroke-width="1.17"/>
<ellipse cx="0.1" cy="0" rx="1.05" ry="1.9250000000000003" fill="#fff" stroke="#000" stroke-width="0.94"/>
</g>
<g transform="translate(331.8 587.4) rotate(-17.5)">
<ellipse cx="3.6" cy="0" rx="3.4" ry="5.4" fill="#fff" stroke="#000" stroke-width="1.17"/>
<ellipse cx="2.2" cy="0" rx="3.4" ry="5.4" fill="#fff" stroke="#000" stroke-width="1.17"/>
<path d="M-2.5 -4.2 L2 -4.2 L2 4.2 L-2.5 4.2 Z" fill="#fff" stroke="none"/>
<path d="M-2.5 -4.2 L2 -4.2 M-2.5 4.2 L2 4.2" fill="none" stroke="#000" stroke-width="1.17"/>
<ellipse cx="-2.5" cy="0" rx="2.9" ry="4.2" fill="#fff" stroke="#000" stroke-width="1.52"/>
<ellipse cx="-2.3" cy="0" rx="1.7" ry="2.8" fill="#fff" stroke="#000" stroke-width="1.05"/>
</g>
<g transform="translate(344.3 583.7) rotate(-17.5)">
<ellipse cx="1.6" cy="0" rx="4.7" ry="6.3" fill="#fff" stroke="#000" stroke-width="1.17"/>
<ellipse cx="0" cy="0" rx="4.7" ry="6.3" fill="#fff" stroke="#000" stroke-width="2.57"/>
<ellipse cx="0" cy="0" rx="1.9" ry="2.5" fill="#fff" stroke="#000" stroke-width="1.17"/>
</g>
<g transform="translate(354.3 580.7) rotate(-17.5)">
<ellipse cx="1" cy="0" rx="3.3" ry="4.6" fill="#fff" stroke="#000" stroke-width="1.17"/>
<ellipse cx="0" cy="0" rx="3.3" ry="4.6" fill="#fff" stroke="#000" stroke-width="1.17"/>
<ellipse cx="0" cy="0" rx="1.5" ry="2.1" fill="#fff" stroke="#000" stroke-width="1.05"/>
</g>
<g transform="translate(388.7 570) rotate(-17.5)">
<path d="M-3 -2.1 L-29 -2.1 L-29 2.1 L-3 2.1 Z" fill="#fff" stroke="#000" stroke-width="1.17"/>
<path d="M-28 -2.1 L-27.2 2.1" stroke="#000" stroke-width="1.05"/>
<path d="M-26.5 -2.1 L-25.7 2.1" stroke="#000" stroke-width="1.05"/>
<path d="M-25 -2.1 L-24.2 2.1" stroke="#000" stroke-width="1.05"/>
<path d="M-23.5 -2.1 L-22.7 2.1" stroke="#000" stroke-width="1.05"/>
<path d="M-22 -2.1 L-21.2 2.1" stroke="#000" stroke-width="1.05"/>
<path d="M-20.5 -2.1 L-19.7 2.1" stroke="#000" stroke-width="1.05"/>
<ellipse cx="-3" cy="0" rx="2.2" ry="5.2" fill="#fff" stroke="#000" stroke-width="1.17"/>
<path d="M-2.5 -3.8 L3.5 -4.2 L5 -1.5 L5 2 L3.5 4.2 L-2.5 3.8 Z" fill="#fff" stroke="#000" stroke-width="1.17"/>
<path d="M-2.4 -1.2 L5 -1.5 M-2.4 1.8 L5 2" stroke="#000" stroke-width="0.94"/>
</g>
<line x1="146" y1="653.6" x2="138.6" y2="676" stroke="#000" stroke-width="1.17"/>
<line x1="169.8" y1="645" x2="161" y2="672" stroke="#000" stroke-width="1.17"/>
<line x1="182.8" y1="642.4" x2="182.3" y2="665" stroke="#000" stroke-width="1.17"/>
<line x1="196" y1="637.3" x2="200.3" y2="660" stroke="#000" stroke-width="1.17"/>
<line x1="181" y1="618.6" x2="203.5" y2="626" stroke="#000" stroke-width="1.17"/>
<line x1="221.2" y1="667.3" x2="216.2" y2="681" stroke="#000" stroke-width="1.17"/>
<line x1="234.4" y1="664.8" x2="233" y2="676" stroke="#000" stroke-width="1.17"/>
<line x1="246.2" y1="658.6" x2="250" y2="670" stroke="#000" stroke-width="1.17"/>
<line x1="258.7" y1="654.8" x2="266" y2="665.3" stroke="#000" stroke-width="1.17"/>
<line x1="314.8" y1="633.6" x2="341" y2="641.9" stroke="#000" stroke-width="1.17"/>
<line x1="301" y1="640" x2="321" y2="648.6" stroke="#000" stroke-width="1.17"/>
<line x1="287.9" y1="643" x2="302.3" y2="653" stroke="#000" stroke-width="1.17"/>
<line x1="276" y1="648.6" x2="286" y2="660" stroke="#000" stroke-width="1.17"/>
<line x1="317.3" y1="596" x2="336" y2="612.4" stroke="#000" stroke-width="1.17"/>
<line x1="336" y1="592.4" x2="357" y2="606" stroke="#000" stroke-width="1.17"/>
<line x1="348.7" y1="588.6" x2="373.7" y2="602.3" stroke="#000" stroke-width="1.17"/>
<line x1="357.9" y1="583.6" x2="391" y2="593.7" stroke="#000" stroke-width="1.17"/>
<line x1="383.7" y1="576" x2="411" y2="583" stroke="#000" stroke-width="1.17"/>
<path d="M261 611 L258.7 630 L218 644.8 L215.5 662.3 L221 663.6" fill="none" stroke="#000" stroke-width="1.17" stroke-dasharray="21 2.5 1.5 2.5"/>
<path d="M271 610 L268.6 625 L317.3 611 L319.3 625 L312.3 628" fill="none" stroke="#000" stroke-width="1.17" stroke-dasharray="21 2.5 1.5 2.5"/>
<line x1="224" y1="623.4" x2="229.5" y2="621.6" stroke="#000" stroke-width="1.17"/>
<line x1="300" y1="598.5" x2="304" y2="597.3" stroke="#000" stroke-width="1.17"/>
<g transform="translate(319 708) rotate(-17.5)">
<path d="M3 -2.3 L29 -2.3 L29 2.3 L3 2.3 Z" fill="#fff" stroke="#000" stroke-width="1.17"/>
<path d="M27.8 -2.3 L27 2.3" stroke="#000" stroke-width="1.05"/>
<path d="M26.3 -2.3 L25.5 2.3" stroke="#000" stroke-width="1.05"/>
<path d="M24.8 -2.3 L24 2.3" stroke="#000" stroke-width="1.05"/>
<path d="M23.3 -2.3 L22.5 2.3" stroke="#000" stroke-width="1.05"/>
<path d="M21.8 -2.3 L21 2.3" stroke="#000" stroke-width="1.05"/>
<path d="M-3.5 -4.3 L3.5 -4.3 A2 4.3 0 0 1 3.5 4.3 L-3.5 4.3 Z" fill="#fff" stroke="#000" stroke-width="1.17"/>
<ellipse cx="-3.5" cy="0" rx="2.6" ry="4.3" fill="#fff" stroke="#000" stroke-width="1.17"/>
</g>
<g transform="translate(352.8 696) rotate(-17.5)">
<ellipse cx="1" cy="0" rx="3.3" ry="4.6" fill="#fff" stroke="#000" stroke-width="1.17"/>
<ellipse cx="0" cy="0" rx="3.3" ry="4.6" fill="#fff" stroke="#000" stroke-width="1.17"/>
<ellipse cx="0" cy="0" rx="1.5" ry="2.1" fill="#fff" stroke="#000" stroke-width="1.05"/>
</g>
<g transform="translate(364.5 692.9) rotate(-17.5)">
<ellipse cx="1.6" cy="0" rx="4.7" ry="6.3" fill="#fff" stroke="#000" stroke-width="1.17"/>
<ellipse cx="0" cy="0" rx="4.7" ry="6.3" fill="#fff" stroke="#000" stroke-width="1.64"/>
<ellipse cx="0" cy="0" rx="1.9" ry="2.5" fill="#fff" stroke="#000" stroke-width="1.17"/>
</g>
<g transform="translate(377.4 688.6) rotate(-17.5)">
<ellipse cx="3.6" cy="0" rx="3.4" ry="5.4" fill="#fff" stroke="#000" stroke-width="1.17"/>
<ellipse cx="2.2" cy="0" rx="3.4" ry="5.4" fill="#fff" stroke="#000" stroke-width="1.17"/>
<path d="M-2.5 -4.2 L2 -4.2 L2 4.2 L-2.5 4.2 Z" fill="#fff" stroke="none"/>
<path d="M-2.5 -4.2 L2 -4.2 M-2.5 4.2 L2 4.2" fill="none" stroke="#000" stroke-width="1.17"/>
<ellipse cx="-2.5" cy="0" rx="2.9" ry="4.2" fill="#fff" stroke="#000" stroke-width="1.52"/>
<ellipse cx="-2.3" cy="0" rx="1.7" ry="2.8" fill="#fff" stroke="#000" stroke-width="1.05"/>
</g>
<g transform="translate(386.2 685) rotate(-17.5)">
<path d="M0 -3.5 L20.5 -3.5 A1.75 3.5 0 0 1 20.5 3.5 L0 3.5 Z" fill="#fff" stroke="#000" stroke-width="1.17"/>
<ellipse cx="0" cy="0" rx="1.9250000000000003" ry="3.5" fill="#fff" stroke="#000" stroke-width="1.17"/>
<ellipse cx="0.1" cy="0" rx="1.05" ry="1.9250000000000003" fill="#fff" stroke="#000" stroke-width="0.94"/>
</g>
<g transform="translate(386.2 732.8) rotate(-17.5)">
<path d="M0 -4.6 L4 -4.6 A3 4.6 0 0 1 4 4.6 L0 4.6 Z" fill="#fff" stroke="#000" stroke-width="1.17"/>
<ellipse cx="3.2" cy="0" rx="3.6" ry="5.6" fill="#fff" stroke="#000" stroke-width="1.4"/>
<path d="M-2.5 -4 L2.5 -4 L2.5 4 L-2.5 4 Z" fill="#000" stroke="#000" stroke-width="1.17"/>
<ellipse cx="-2.5" cy="0" rx="2.9" ry="4.2" fill="#fff" stroke="#000" stroke-width="2.34"/>
</g>
<g transform="translate(397 729.8) rotate(-17.5)">
<ellipse cx="1.6" cy="0" rx="4.7" ry="6.3" fill="#fff" stroke="#000" stroke-width="1.17"/>
<ellipse cx="0" cy="0" rx="4.7" ry="6.3" fill="#fff" stroke="#000" stroke-width="2.57"/>
<ellipse cx="0" cy="0" rx="1.9" ry="2.5" fill="#fff" stroke="#000" stroke-width="1.17"/>
</g>
<g transform="translate(407.4 726) rotate(-17.5)">
<ellipse cx="1" cy="0" rx="3.3" ry="4.6" fill="#fff" stroke="#000" stroke-width="1.17"/>
<ellipse cx="0" cy="0" rx="3.3" ry="4.6" fill="#fff" stroke="#000" stroke-width="1.17"/>
<ellipse cx="0" cy="0" rx="1.5" ry="2.1" fill="#fff" stroke="#000" stroke-width="1.05"/>
</g>
<g transform="translate(417.9 722.8) rotate(-17.5)">
<path d="M0 -6 L4.2 -5 L5.6 0 L4.2 5 L0 6 Z" fill="#fff" stroke="#000" stroke-width="1.17"/>
<ellipse cx="0" cy="0" rx="4.7" ry="6" fill="#fff" stroke="#000" stroke-width="1.29"/>
<ellipse cx="0" cy="0" rx="2.4" ry="3.1" fill="#fff" stroke="#000" stroke-width="1.17"/>
</g>
<g transform="translate(526.5 695) rotate(-17.5)">
<path d="M0 -6 L4.2 -5 L5.6 0 L4.2 5 L0 6 Z" fill="#fff" stroke="#000" stroke-width="1.17"/>
<ellipse cx="0" cy="0" rx="4.7" ry="6" fill="#fff" stroke="#000" stroke-width="1.29"/>
<ellipse cx="0" cy="0" rx="2.4" ry="3.1" fill="#fff" stroke="#000" stroke-width="1.17"/>
</g>
<g transform="translate(537.5 691.6) rotate(-17.5)">
<ellipse cx="1" cy="0" rx="3.3" ry="4.6" fill="#fff" stroke="#000" stroke-width="1.17"/>
<ellipse cx="0" cy="0" rx="3.3" ry="4.6" fill="#fff" stroke="#000" stroke-width="1.17"/>
<ellipse cx="0" cy="0" rx="1.5" ry="2.1" fill="#fff" stroke="#000" stroke-width="1.05"/>
</g>
<g transform="translate(548.8 687.2) rotate(-17.5)">
<ellipse cx="1.6" cy="0" rx="4.7" ry="6.3" fill="#fff" stroke="#000" stroke-width="1.17"/>
<ellipse cx="0" cy="0" rx="4.7" ry="6.3" fill="#fff" stroke="#000" stroke-width="1.64"/>
<ellipse cx="0" cy="0" rx="1.9" ry="2.5" fill="#fff" stroke="#000" stroke-width="1.17"/>
</g>
<g transform="translate(562 682.6) rotate(-17.5)">
<path d="M0 -4.2 L5 -4.2 A2.4 4.2 0 0 1 5 4.2 L0 4.2 Z" fill="#fff" stroke="#000" stroke-width="1.17"/>
<ellipse cx="0.8" cy="0" rx="3.6" ry="5.5" fill="#fff" stroke="#000" stroke-width="1.17"/>
<ellipse cx="-0.6" cy="0" rx="3.6" ry="5.5" fill="#fff" stroke="#000" stroke-width="1.4"/>
<ellipse cx="-0.6" cy="0" rx="2.1" ry="3.3" fill="#fff" stroke="#000" stroke-width="1.17"/>
</g>
<g transform="translate(498.7 647.5) rotate(-17.5)">
<path d="M0 -3.5 L20.5 -3.5 A1.75 3.5 0 0 1 20.5 3.5 L0 3.5 Z" fill="#fff" stroke="#000" stroke-width="1.17"/>
<ellipse cx="0" cy="0" rx="1.9250000000000003" ry="3.5" fill="#fff" stroke="#000" stroke-width="1.17"/>
<ellipse cx="0.1" cy="0" rx="1.05" ry="1.9250000000000003" fill="#fff" stroke="#000" stroke-width="0.94"/>
</g>
<g transform="translate(526.3 638.7) rotate(-17.5)">
<ellipse cx="3.6" cy="0" rx="3.4" ry="5.4" fill="#fff" stroke="#000" stroke-width="1.17"/>
<ellipse cx="2.2" cy="0" rx="3.4" ry="5.4" fill="#fff" stroke="#000" stroke-width="1.17"/>
<path d="M-2.5 -4.2 L2 -4.2 L2 4.2 L-2.5 4.2 Z" fill="#fff" stroke="none"/>
<path d="M-2.5 -4.2 L2 -4.2 M-2.5 4.2 L2 4.2" fill="none" stroke="#000" stroke-width="1.17"/>
<ellipse cx="-2.5" cy="0" rx="2.9" ry="4.2" fill="#fff" stroke="#000" stroke-width="1.52"/>
<ellipse cx="-2.3" cy="0" rx="1.7" ry="2.8" fill="#fff" stroke="#000" stroke-width="1.05"/>
</g>
<g transform="translate(538.2 634.7) rotate(-17.5)">
<ellipse cx="1.6" cy="0" rx="4.7" ry="6.3" fill="#fff" stroke="#000" stroke-width="1.17"/>
<ellipse cx="0" cy="0" rx="4.7" ry="6.3" fill="#fff" stroke="#000" stroke-width="2.57"/>
<ellipse cx="0" cy="0" rx="1.9" ry="2.5" fill="#fff" stroke="#000" stroke-width="1.17"/>
</g>
<g transform="translate(548.8 631.6) rotate(-17.5)">
<ellipse cx="1" cy="0" rx="3.3" ry="4.6" fill="#fff" stroke="#000" stroke-width="1.17"/>
<ellipse cx="0" cy="0" rx="3.3" ry="4.6" fill="#fff" stroke="#000" stroke-width="1.17"/>
<ellipse cx="0" cy="0" rx="1.5" ry="2.1" fill="#fff" stroke="#000" stroke-width="1.05"/>
</g>
<g transform="translate(583 622) rotate(-17.5)">
<path d="M-3 -2.1 L-28 -2.1 L-28 2.1 L-3 2.1 Z" fill="#fff" stroke="#000" stroke-width="1.17"/>
<path d="M-27 -2.1 L-26.2 2.1" stroke="#000" stroke-width="1.05"/>
<path d="M-25.5 -2.1 L-24.7 2.1" stroke="#000" stroke-width="1.05"/>
<path d="M-24 -2.1 L-23.2 2.1" stroke="#000" stroke-width="1.05"/>
<path d="M-22.5 -2.1 L-21.7 2.1" stroke="#000" stroke-width="1.05"/>
<path d="M-21 -2.1 L-20.2 2.1" stroke="#000" stroke-width="1.05"/>
<path d="M-19.5 -2.1 L-18.7 2.1" stroke="#000" stroke-width="1.05"/>
<ellipse cx="-3" cy="0" rx="2.2" ry="5.2" fill="#fff" stroke="#000" stroke-width="1.17"/>
<path d="M-2.5 -3.8 L3.5 -4.2 L5 -1.5 L5 2 L3.5 4.2 L-2.5 3.8 Z" fill="#fff" stroke="#000" stroke-width="1.17"/>
<path d="M-2.4 -1.2 L5 -1.5 M-2.4 1.8 L5 2" stroke="#000" stroke-width="0.94"/>
</g>
<line x1="317.3" y1="682.3" x2="324.8" y2="703.5" stroke="#000" stroke-width="1.17"/>
<line x1="341" y1="674.8" x2="352.3" y2="692.3" stroke="#000" stroke-width="1.17"/>
<line x1="364.2" y1="667.4" x2="364.2" y2="686" stroke="#000" stroke-width="1.17"/>
<line x1="381.2" y1="660" x2="378" y2="683.6" stroke="#000" stroke-width="1.17"/>
<line x1="401.2" y1="654.4" x2="397" y2="678.6" stroke="#000" stroke-width="1.17"/>
<line x1="388" y1="738.6" x2="391.2" y2="754.8" stroke="#000" stroke-width="1.17"/>
<line x1="400" y1="734.8" x2="407.4" y2="748.6" stroke="#000" stroke-width="1.17"/>
<line x1="410.4" y1="729.8" x2="426.2" y2="741" stroke="#000" stroke-width="1.17"/>
<line x1="424.9" y1="723.6" x2="446.8" y2="732.8" stroke="#000" stroke-width="1.17"/>
<line x1="426.2" y1="635" x2="423.6" y2="647.4" stroke="#000" stroke-width="1.17"/>
<line x1="459.8" y1="627.5" x2="466" y2="635" stroke="#000" stroke-width="1.17"/>
<line x1="505" y1="609.5" x2="510" y2="646" stroke="#000" stroke-width="1.17"/>
<line x1="525.2" y1="605.5" x2="526.3" y2="633" stroke="#000" stroke-width="1.17"/>
<line x1="540.5" y1="601" x2="539.5" y2="628.5" stroke="#000" stroke-width="1.17"/>
<line x1="557.5" y1="596" x2="550" y2="626" stroke="#000" stroke-width="1.17"/>
<line x1="576.5" y1="590" x2="583.5" y2="616" stroke="#000" stroke-width="1.17"/>
<line x1="531.5" y1="700.6" x2="536" y2="707" stroke="#000" stroke-width="1.17"/>
<line x1="541" y1="695.5" x2="550" y2="701.5" stroke="#000" stroke-width="1.17"/>
<line x1="548.8" y1="667.3" x2="548.8" y2="681.6" stroke="#000" stroke-width="1.17"/>
<line x1="568" y1="661.6" x2="563.8" y2="678.3" stroke="#000" stroke-width="1.17"/>
<path d="M434.9 678.6 L433.6 696 L377.4 714.8 L373.7 737.3 L381 737.3" fill="none" stroke="#000" stroke-width="1.17" stroke-dasharray="21 2.5 1.5 2.5"/>
<path d="M496 585 L496 693" fill="none" stroke="#000" stroke-width="1.17" stroke-dasharray="21 2.5 1.5 2.5"/>
<path d="M496.5 655 L583 636.7 L584 680 L574.7 680" fill="none" stroke="#000" stroke-width="1.17" stroke-dasharray="21 2.5 1.5 2.5"/>
<line x1="408" y1="680" x2="412.5" y2="678.7" stroke="#000" stroke-width="1.17"/>
<line x1="479" y1="653.3" x2="496" y2="648.3" stroke="#000" stroke-width="1.17"/>
<path d="M243.6 438.6 L249 436 L249 485 L228 496.7 L228 570" fill="none" stroke="#000" stroke-width="1.17" stroke-dasharray="21 2.5 1.5 2.5"/>
<line x1="294.4" y1="455" x2="251.7" y2="495" stroke="#000" stroke-width="1.05"/>
<line x1="357" y1="505" x2="330.5" y2="531" stroke="#000" stroke-width="1.05"/>
<path d="M272.5 480 L264 471.6 Q256 470 247 471.6 Q236.5 475 234.8 485 Q235 493 243 497.5 L318 540 L334 548.5 Q356 560 380 561.5 Q396 561 405 557 Q411 556 416 560.5 L419.5 563.5" fill="none" stroke="#000" stroke-width="6.3" stroke-linecap="butt"/>
<path d="M272.5 480 L264 471.6 Q256 470 247 471.6 Q236.5 475 234.8 485 Q235 493 243 497.5 L318 540 L334 548.5 Q356 560 380 561.5 Q396 561 405 557 Q411 556 416 560.5 L419.5 563.5" fill="none" stroke="#fff" stroke-width="3.9" stroke-linecap="butt"/>
<ellipse cx="272.3" cy="479.6" rx="2.6" ry="1.5" fill="#fff" stroke="#000" stroke-width="1.05" transform="rotate(40 272.3 479.6)"/>
<g transform="translate(259.9 507.2) rotate(29.5)">
<path d="M-2.8 -4.4 L2.8 -4.4 L2.8 4.4 L-2.8 4.4 Z" fill="#fff" stroke="#000" stroke-width="1.17"/>
</g>
<g transform="translate(318.5 540.2) rotate(29.5)">
<path d="M-2.8 -4.4 L2.8 -4.4 L2.8 4.4 L-2.8 4.4 Z" fill="#fff" stroke="#000" stroke-width="1.17"/>
</g>
<g transform="translate(420 563.5) rotate(35)">
<path d="M-2.5 -3.8 L2.5 -3.8 A1.6 3.8 0 0 1 2.5 3.8 L-2.5 3.8 Z" fill="#fff" stroke="#000" stroke-width="1.17"/>
<ellipse cx="-2.5" cy="0" rx="1.8" ry="3.8" fill="#fff" stroke="#000" stroke-width="1.17"/>
</g>
<g transform="translate(267.5 496) rotate(0)">
<path d="M-8.5 -3.5 L-8.5 4.5 L-2 9.5 L7.5 8.8 Q9 8.2 9 6 L9 -3 Q8.5 -8 3.5 -9 Q-2 -10 -8.5 -3.5 Z" fill="#fff" stroke="#000" stroke-width="1.4"/>
<path d="M-2 9.5 L-2 0.5 Q-1.5 -6 3.5 -9 M-8.5 -3.5 Q-4.5 -3 -2 0.5" fill="none" stroke="#000" stroke-width="1.17"/>
<ellipse cx="3.8" cy="2.3" rx="2.9" ry="3.6" fill="#fff" stroke="#000" stroke-width="1.29"/>
</g>
<g transform="translate(340 535) rotate(0)">
<path d="M-8.5 -3.5 L-8.5 4.5 L-2 9.5 L7.5 8.8 Q9 8.2 9 6 L9 -3 Q8.5 -8 3.5 -9 Q-2 -10 -8.5 -3.5 Z" fill="#fff" stroke="#000" stroke-width="1.4"/>
<path d="M-2 9.5 L-2 0.5 Q-1.5 -6 3.5 -9 M-8.5 -3.5 Q-4.5 -3 -2 0.5" fill="none" stroke="#000" stroke-width="1.17"/>
<ellipse cx="3.8" cy="2.3" rx="2.9" ry="3.6" fill="#fff" stroke="#000" stroke-width="1.29"/>
</g>
<g transform="translate(289.5 471.3) rotate(0)">
<path d="M-8 -9 L-4.5 -10.5 L-3 -6 Q3 -11 7.5 -5 Q9.5 0 7.5 5.5 L5.5 9 L8 10.5 L5 11.5 L0.5 9 L3 4.5 Q4.5 0 2.5 -3 Q-1 -5.5 -5.5 -2.5 Z" fill="#fff" stroke="#000" stroke-width="1.4"/>
<path d="M-5.5 -2.5 Q-1 -8 3.5 -7.5 M-5.5 -2.5 L-3 6 L0.5 9" fill="none" stroke="#000" stroke-width="1.17"/>
<path d="M-8.5 -8.5 L-4.5 -6" stroke="#000" stroke-width="2.57"/>
</g>
<g transform="translate(352 520.5) rotate(0)">
<path d="M-8 -9 L-4.5 -10.5 L-3 -6 Q3 -11 7.5 -5 Q9.5 0 7.5 5.5 L5.5 9 L8 10.5 L5 11.5 L0.5 9 L3 4.5 Q4.5 0 2.5 -3 Q-1 -5.5 -5.5 -2.5 Z" fill="#fff" stroke="#000" stroke-width="1.4"/>
<path d="M-5.5 -2.5 Q-1 -8 3.5 -7.5 M-5.5 -2.5 L-3 6 L0.5 9" fill="none" stroke="#000" stroke-width="1.17"/>
<path d="M-8.5 -8.5 L-4.5 -6" stroke="#000" stroke-width="2.57"/>
</g>
<g transform="translate(300.5 447.8) rotate(132)">
<path d="M2.5 -1.6 L11 -1.6 L11 1.6 L2.5 1.6 Z" fill="#fff" stroke="#000" stroke-width="1.17"/>
<path d="M10 -1.6 L9.2 1.6" stroke="#000" stroke-width="1.05"/>
<path d="M8.5 -1.6 L7.7 1.6" stroke="#000" stroke-width="1.05"/>
<path d="M7 -1.6 L6.2 1.6" stroke="#000" stroke-width="1.05"/>
<path d="M5.5 -1.6 L4.7 1.6" stroke="#000" stroke-width="1.05"/>
<path d="M4 -1.6 L3.2 1.6" stroke="#000" stroke-width="1.05"/>
<ellipse cx="2.5" cy="0" rx="1.5" ry="4.3" fill="#fff" stroke="#000" stroke-width="1.17"/>
<path d="M2 -3 L-2.5 -3.2 L-3.6 -1 L-3.6 1.4 L-2.5 3.2 L2 3 Z" fill="#fff" stroke="#000" stroke-width="1.17"/>
<path d="M-3.6 -1 L2 -1 M-3.6 1.4 L2 1.2" stroke="#000" stroke-width="0.82"/>
</g>
<g transform="translate(363.2 496.5) rotate(132)">
<path d="M2.5 -1.6 L11 -1.6 L11 1.6 L2.5 1.6 Z" fill="#fff" stroke="#000" stroke-width="1.17"/>
<path d="M10 -1.6 L9.2 1.6" stroke="#000" stroke-width="1.05"/>
<path d="M8.5 -1.6 L7.7 1.6" stroke="#000" stroke-width="1.05"/>
<path d="M7 -1.6 L6.2 1.6" stroke="#000" stroke-width="1.05"/>
<path d="M5.5 -1.6 L4.7 1.6" stroke="#000" stroke-width="1.05"/>
<path d="M4 -1.6 L3.2 1.6" stroke="#000" stroke-width="1.05"/>
<ellipse cx="2.5" cy="0" rx="1.5" ry="4.3" fill="#fff" stroke="#000" stroke-width="1.17"/>
<path d="M2 -3 L-2.5 -3.2 L-3.6 -1 L-3.6 1.4 L-2.5 3.2 L2 3 Z" fill="#fff" stroke="#000" stroke-width="1.17"/>
<path d="M-3.6 -1 L2 -1 M-3.6 1.4 L2 1.2" stroke="#000" stroke-width="0.82"/>
</g>
<g transform="translate(286.2 487.6) rotate(-17.5)">
<path d="M-0.5 -4 L3 -3.4 L4 0 L3 3.4 L-0.5 4 Z" fill="#fff" stroke="#000" stroke-width="1.17"/>
<ellipse cx="-0.5" cy="0" rx="3.2" ry="4" fill="#fff" stroke="#000" stroke-width="1.4"/>
<ellipse cx="-0.5" cy="0" rx="1.4" ry="1.8" fill="#fff" stroke="#000" stroke-width="1.17"/>
<path d="M0.5 -3.5 L3 -1.2 M0.5 3.5 L3 1.4" stroke="#000" stroke-width="0.82"/>
</g>
<line x1="291.5" y1="487.6" x2="301.5" y2="487.6" stroke="#000" stroke-width="1.17"/>
<ellipse cx="273" cy="480" rx="2.6" ry="1.5" fill="#fff" stroke="#000" stroke-width="1.05" transform="rotate(40 273 480)"/>
<g transform="translate(393.6 547.4) rotate(-17.5)">
<path d="M-0.5 -4 L3 -3.4 L4 0 L3 3.4 L-0.5 4 Z" fill="#fff" stroke="#000" stroke-width="1.17"/>
<ellipse cx="-0.5" cy="0" rx="3.2" ry="4" fill="#fff" stroke="#000" stroke-width="1.4"/>
<ellipse cx="-0.5" cy="0" rx="1.4" ry="1.8" fill="#fff" stroke="#000" stroke-width="1.17"/>
<path d="M0.5 -3.5 L3 -1.2 M0.5 3.5 L3 1.4" stroke="#000" stroke-width="0.82"/>
</g>
<line x1="406.5" y1="531" x2="396.5" y2="543.5" stroke="#000" stroke-width="1.17"/>
<g transform="translate(215 446.5) rotate(20)">
<path d="M0 -1.7 L11 -1.7 L11 1.7 L0 1.7 Z" fill="#fff" stroke="#000" stroke-width="1.17"/>
<path d="M10.2 -1.7 L9.5 1.7" stroke="#000" stroke-width="1.17"/>
<path d="M8.7 -1.7 L8.0 1.7" stroke="#000" stroke-width="1.17"/>
<path d="M7.199999999999999 -1.7 L6.5 1.7" stroke="#000" stroke-width="1.17"/>
<path d="M5.699999999999999 -1.7 L5.0 1.7" stroke="#000" stroke-width="1.17"/>
<path d="M4.199999999999999 -1.7 L3.5 1.7" stroke="#000" stroke-width="1.17"/>
<path d="M2.6999999999999993 -1.7 L2.0 1.7" stroke="#000" stroke-width="1.17"/>
</g>
<g transform="translate(210 452) rotate(25)">
<path d="M0 -1.7 L11 -1.7 L11 1.7 L0 1.7 Z" fill="#fff" stroke="#000" stroke-width="1.17"/>
<path d="M10.2 -1.7 L9.5 1.7" stroke="#000" stroke-width="1.17"/>
<path d="M8.7 -1.7 L8.0 1.7" stroke="#000" stroke-width="1.17"/>
<path d="M7.199999999999999 -1.7 L6.5 1.7" stroke="#000" stroke-width="1.17"/>
<path d="M5.699999999999999 -1.7 L5.0 1.7" stroke="#000" stroke-width="1.17"/>
<path d="M4.199999999999999 -1.7 L3.5 1.7" stroke="#000" stroke-width="1.17"/>
<path d="M2.6999999999999993 -1.7 L2.0 1.7" stroke="#000" stroke-width="1.17"/>
</g>
<path d="M209.1 442.9 L201.2 459.9 L206 462.1 L213.9 445.1 Z" fill="#fff" stroke="#000" stroke-width="1.29"/>
<g transform="translate(211.5 444) rotate(20)">
<path d="M-3 -5.6 L4.5 -5.6 A3 5.6 0 0 1 4.5 5.6 L-3 5.6 Z" fill="#fff" stroke="#000" stroke-width="1.29"/>
<ellipse cx="-3" cy="0" rx="3.6" ry="5.6" fill="#fff" stroke="#000" stroke-width="1.4"/>
<ellipse cx="-3" cy="0" rx="1.3" ry="2" fill="#fff" stroke="#000" stroke-width="1.17"/>
</g>
<g transform="translate(203.6 461) rotate(20)">
<path d="M-3 -5.6 L4.5 -5.6 A3 5.6 0 0 1 4.5 5.6 L-3 5.6 Z" fill="#fff" stroke="#000" stroke-width="1.29"/>
<ellipse cx="-3" cy="0" rx="3.6" ry="5.6" fill="#fff" stroke="#000" stroke-width="1.4"/>
<ellipse cx="-3" cy="0" rx="1.3" ry="2" fill="#fff" stroke="#000" stroke-width="1.17"/>
</g>
<g transform="translate(239 440) rotate(-25)">
<ellipse cx="1.6" cy="0" rx="3.2" ry="4.6" fill="#fff" stroke="#000" stroke-width="1.17"/>
<ellipse cx="0" cy="0" rx="3.2" ry="4.6" fill="#fff" stroke="#000" stroke-width="1.4"/>
<ellipse cx="0" cy="0" rx="1.5" ry="2.3" fill="#fff" stroke="#000" stroke-width="1.17"/>
</g>
<g transform="translate(233.2 456.2) rotate(-25)">
<ellipse cx="1.6" cy="0" rx="3.2" ry="4.6" fill="#fff" stroke="#000" stroke-width="1.17"/>
<ellipse cx="0" cy="0" rx="3.2" ry="4.6" fill="#fff" stroke="#000" stroke-width="1.4"/>
<ellipse cx="0" cy="0" rx="1.5" ry="2.3" fill="#fff" stroke="#000" stroke-width="1.17"/>
</g>
<line x1="226.3" y1="447.7" x2="235" y2="442.2" stroke="#000" stroke-width="1.05"/>
<line x1="236.8" y1="458.6" x2="253.5" y2="468.6" stroke="#000" stroke-width="1.05"/>
<g transform="translate(461 586) rotate(205)">
<path d="M0 -1.7 L11.5 -1.7 L11.5 1.7 L0 1.7 Z" fill="#fff" stroke="#000" stroke-width="1.17"/>
<path d="M10.7 -1.7 L10.0 1.7" stroke="#000" stroke-width="1.17"/>
<path d="M9.2 -1.7 L8.5 1.7" stroke="#000" stroke-width="1.17"/>
<path d="M7.699999999999999 -1.7 L7.0 1.7" stroke="#000" stroke-width="1.17"/>
<path d="M6.199999999999999 -1.7 L5.5 1.7" stroke="#000" stroke-width="1.17"/>
<path d="M4.699999999999999 -1.7 L4.0 1.7" stroke="#000" stroke-width="1.17"/>
<path d="M3.1999999999999993 -1.7 L2.5 1.7" stroke="#000" stroke-width="1.17"/>
</g>
<g transform="translate(471 606.5) rotate(-22)">
<path d="M0 -1.7 L12 -1.7 L12 1.7 L0 1.7 Z" fill="#fff" stroke="#000" stroke-width="1.17"/>
<path d="M11.2 -1.7 L10.5 1.7" stroke="#000" stroke-width="1.17"/>
<path d="M9.7 -1.7 L9.0 1.7" stroke="#000" stroke-width="1.17"/>
<path d="M8.2 -1.7 L7.5 1.7" stroke="#000" stroke-width="1.17"/>
<path d="M6.699999999999999 -1.7 L6.0 1.7" stroke="#000" stroke-width="1.17"/>
<path d="M5.199999999999999 -1.7 L4.5 1.7" stroke="#000" stroke-width="1.17"/>
<path d="M3.6999999999999993 -1.7 L3.0 1.7" stroke="#000" stroke-width="1.17"/>
</g>
<path d="M462.2 587.1 L464.7 609.3 L469.9 608.7 L467.4 586.5 Z" fill="#fff" stroke="#000" stroke-width="1.29"/>
<g transform="translate(464.8 586.8) rotate(-20)">
<path d="M-3 -5.6 L4.5 -5.6 A3 5.6 0 0 1 4.5 5.6 L-3 5.6 Z" fill="#fff" stroke="#000" stroke-width="1.29"/>
<ellipse cx="-3" cy="0" rx="3.6" ry="5.6" fill="#fff" stroke="#000" stroke-width="1.4"/>
<ellipse cx="-3" cy="0" rx="1.3" ry="2" fill="#fff" stroke="#000" stroke-width="1.17"/>
</g>
<g transform="translate(467.3 609) rotate(-20)">
<path d="M-3 -5.6 L4.5 -5.6 A3 5.6 0 0 1 4.5 5.6 L-3 5.6 Z" fill="#fff" stroke="#000" stroke-width="1.29"/>
<ellipse cx="-3" cy="0" rx="3.6" ry="5.6" fill="#fff" stroke="#000" stroke-width="1.4"/>
<ellipse cx="-3" cy="0" rx="1.3" ry="2" fill="#fff" stroke="#000" stroke-width="1.17"/>
</g>
<g transform="translate(444.8 575.6) rotate(30)">
<ellipse cx="1.6" cy="0" rx="3.2" ry="4.6" fill="#fff" stroke="#000" stroke-width="1.17"/>
<ellipse cx="0" cy="0" rx="3.2" ry="4.6" fill="#fff" stroke="#000" stroke-width="1.4"/>
<ellipse cx="0" cy="0" rx="1.5" ry="2.3" fill="#fff" stroke="#000" stroke-width="1.17"/>
</g>
<g transform="translate(486.8 596) rotate(-20)">
<ellipse cx="1.6" cy="0" rx="3.2" ry="4.6" fill="#fff" stroke="#000" stroke-width="1.17"/>
<ellipse cx="0" cy="0" rx="3.2" ry="4.6" fill="#fff" stroke="#000" stroke-width="1.4"/>
<ellipse cx="0" cy="0" rx="1.5" ry="2.3" fill="#fff" stroke="#000" stroke-width="1.17"/>
</g>
<line x1="423.6" y1="565" x2="441" y2="573.6" stroke="#000" stroke-width="1.05"/>
<path d="M496 585 L493 588.5" fill="none" stroke="#000" stroke-width="1.17" stroke-dasharray="21 2.5 1.5 2.5"/>
<line x1="202.5" y1="428" x2="209" y2="438.5" stroke="#000" stroke-width="1.17"/>
<line x1="230" y1="419.5" x2="237.5" y2="436" stroke="#000" stroke-width="1.17"/>
<line x1="212.5" y1="482.5" x2="231.2" y2="460" stroke="#000" stroke-width="1.17"/>
<line x1="289.3" y1="434" x2="298.5" y2="445" stroke="#000" stroke-width="1.17"/>
<line x1="272.5" y1="448.5" x2="283.5" y2="464.5" stroke="#000" stroke-width="1.17"/>
<line x1="276" y1="500" x2="289" y2="505" stroke="#000" stroke-width="1.17"/>
<line x1="319.5" y1="515" x2="311" y2="531" stroke="#000" stroke-width="1.17"/>
<line x1="368" y1="497.5" x2="387" y2="499.5" stroke="#000" stroke-width="1.17"/>
<line x1="360" y1="517.5" x2="372.5" y2="520" stroke="#000" stroke-width="1.17"/>
<line x1="348.7" y1="538" x2="360.5" y2="539.5" stroke="#000" stroke-width="1.17"/>
<line x1="448.6" y1="553" x2="446" y2="571" stroke="#000" stroke-width="1.17"/>
<line x1="469.8" y1="564.5" x2="464.8" y2="581" stroke="#000" stroke-width="1.17"/>
<line x1="489.5" y1="575" x2="487.5" y2="591" stroke="#000" stroke-width="1.17"/>
<ellipse cx="137" cy="232" rx="8.7" ry="3.5" fill="none" stroke="#000" stroke-width="2.46"/>
<ellipse cx="137" cy="232" rx="8.7" ry="3.5" fill="none" stroke="#fff" stroke-width="0.53"/>
<line x1="137" y1="235.6" x2="137" y2="251" stroke="#000" stroke-width="1.17"/>
<line x1="110.5" y1="230.5" x2="127.5" y2="231.5" stroke="#000" stroke-width="1.17"/>
<path d="M99 230 L86 230 L86 271" fill="none" stroke="#000" stroke-width="1.17"/>
<line x1="80.5" y1="254" x2="84.5" y2="254" stroke="#000" stroke-width="1.17"/>
<line x1="86" y1="245" x2="126" y2="250.5" stroke="#000" stroke-width="1.17"/>
<line x1="97" y1="277.5" x2="97" y2="286.5" stroke="#000" stroke-width="1.17"/>
<line x1="97.3" y1="277.2" x2="134.5" y2="296" stroke="#000" stroke-width="1.17"/>
<line x1="90.5" y1="286" x2="93.2" y2="291" stroke="#000" stroke-width="1.17"/>
<path d="M135 281 L135 296" fill="none" stroke="#000" stroke-width="1.17" stroke-dasharray="21 2.5 1.5 2.5"/>
<g transform="translate(97 296) rotate(0)">
<g transform="scale(1.0)">
<path d="M-2.3 17 L-2.3 24 L-1.6 24.6 L-1.6 27.5 L1.6 27.5 L1.6 24.6 L2.3 24 L2.3 17 Z" fill="#fff" stroke="#000" stroke-width="1.17"/>
<path d="M-1.6 24.6 L1.6 24.6 M-1.6 26 L1.6 26" stroke="#000" stroke-width="0.94"/>
<path d="M-9.3 6 L-9.6 11 Q-6 14 -3.2 18.2 L3.2 18.2 Q6 14 9.6 11 L9.3 6 Z" fill="#222" stroke="#000" stroke-width="1.17"/>
<path d="M-8 8.4 Q0 11.5 8 8.4 M-6.5 11.8 Q0 14.5 6.5 11.8 M-4.5 15 Q0 16.8 4.5 15" stroke="#ccc" stroke-width="0.82" fill="none"/>
<path d="M-9.4 3 L-9.4 7 Q0 11.5 9.4 7 L9.4 3 Z" fill="#fff" stroke="#000" stroke-width="1.29"/>
<path d="M-8 0 L-8 4 Q0 8 8 4 L8 0 Z" fill="#fff" stroke="#000" stroke-width="1.17"/>
<ellipse cx="0" cy="0" rx="8" ry="4" fill="#fff" stroke="#000" stroke-width="1.29"/>
</g>
</g>
<path d="M92.5 327 L76.2 423 L154.9 468.7 L154.4 491" fill="none" stroke="#000" stroke-width="1.17" stroke-dasharray="21 2.5 1.5 2.5"/>
<g transform="translate(106 271) rotate(-14)">
<path d="M3 -1.7 L17 -1.7 L17 1.7 L3 1.7 Z" fill="#fff" stroke="#000" stroke-width="1.17"/>
<path d="M16 -1.7 L15.2 1.7" stroke="#000" stroke-width="1.05"/>
<path d="M14.5 -1.7 L13.7 1.7" stroke="#000" stroke-width="1.05"/>
<path d="M13 -1.7 L12.2 1.7" stroke="#000" stroke-width="1.05"/>
<path d="M11.5 -1.7 L10.7 1.7" stroke="#000" stroke-width="1.05"/>
<path d="M10 -1.7 L9.2 1.7" stroke="#000" stroke-width="1.05"/>
<ellipse cx="3" cy="0" rx="1.6" ry="4" fill="#fff" stroke="#000" stroke-width="1.17"/>
<path d="M2.6 -3.2 L-2.6 -3.4 L-3.8 -1.2 L-3.8 1.6 L-2.6 3.4 L2.6 3.2 Z" fill="#fff" stroke="#000" stroke-width="1.17"/>
<ellipse cx="-0.8" cy="0" rx="1.4" ry="1.7" fill="#fff" stroke="#000" stroke-width="0.94"/>
</g>
<line x1="100.5" y1="262" x2="104.5" y2="267" stroke="#000" stroke-width="1.17"/>
<line x1="124" y1="266.3" x2="146.5" y2="256.2" stroke="#000" stroke-width="1.05"/>
<g transform="translate(171 250) rotate(-17.5)">
<path d="M-0.5 -3.8 L3 -3.1999999999999997 L4 0 L3 3.1999999999999997 L-0.5 3.8 Z" fill="#fff" stroke="#000" stroke-width="1.17"/>
<ellipse cx="-0.5" cy="0" rx="3" ry="3.8" fill="#fff" stroke="#000" stroke-width="1.4"/>
<ellipse cx="-0.5" cy="0" rx="1.4" ry="1.7" fill="#fff" stroke="#000" stroke-width="1.17"/>
<path d="M0.5 -3.3 L3 -1.2 M0.5 3.3 L3 1.4" stroke="#000" stroke-width="0.82"/>
</g>
<line x1="176" y1="251" x2="185" y2="251" stroke="#000" stroke-width="1.17"/>
<path d="M161 230 L155.5 232.4 L154.6 252" fill="none" stroke="#000" stroke-width="1.17"/>
<g transform="translate(212.5 257) rotate(25)">
<g transform="scale(0.95)">
<path d="M-1.6 5 L-1.6 2 L-3 1.6 L-3 -1 L-1.8 -1.4 L-1.8 -3 L-2.6 -3.6 L-2.2 -5 L2.2 -5 L2.6 -3.6 L1.8 -3 L1.8 -1.4 L3 -1 L3 1.6 L1.6 2 L1.6 5 Z" fill="#fff" stroke="#000" stroke-width="1.17"/>
<path d="M-3 -1 L3 -1 M-3 0.4 L3 0.4 M-3 1.6 L3 1.6 M-1.6 3 L1.6 3 M-1.6 4 L1.6 4 M-1.8 -3 L1.8 -3" stroke="#000" stroke-width="0.82"/>
</g>
</g>
<line x1="218" y1="257" x2="232" y2="257" stroke="#000" stroke-width="1.17"/>
<line x1="210.3" y1="263" x2="200.8" y2="303.5" stroke="#000" stroke-width="1.05"/>
<g transform="translate(258.3 269) rotate(20)">
<g transform="scale(0.9)">
<path d="M-1.6 5 L-1.6 2 L-3 1.6 L-3 -1 L-1.8 -1.4 L-1.8 -3 L-2.6 -3.6 L-2.2 -5 L2.2 -5 L2.6 -3.6 L1.8 -3 L1.8 -1.4 L3 -1 L3 1.6 L1.6 2 L1.6 5 Z" fill="#fff" stroke="#000" stroke-width="1.17"/>
<path d="M-3 -1 L3 -1 M-3 0.4 L3 0.4 M-3 1.6 L3 1.6 M-1.6 3 L1.6 3 M-1.6 4 L1.6 4 M-1.8 -3 L1.8 -3" stroke="#000" stroke-width="0.82"/>
</g>
</g>
<line x1="262.5" y1="265.5" x2="269.5" y2="259" stroke="#000" stroke-width="1.17"/>
<line x1="256.6" y1="274.3" x2="253.9" y2="285.5" stroke="#000" stroke-width="1.05"/>
<line x1="186.5" y1="126.5" x2="187.7" y2="133.5" stroke="#000" stroke-width="1.17"/>
<path d="M177.5 141 L201 127.5 L206 135" fill="none" stroke="#000" stroke-width="1.17"/>
<line x1="177.5" y1="141" x2="198.7" y2="188.6" stroke="#000" stroke-width="1.17"/>
<line x1="213.6" y1="148.7" x2="222.4" y2="162.4" stroke="#000" stroke-width="1.17"/>
<path d="M220.3 163 L227.5 161 L224 173.5 L221.8 170 Z" fill="#fff" stroke="#000" stroke-width="1.17"/>
<path d="M220 150 L233.6 142.4 L246 170" fill="none" stroke="#000" stroke-width="1.17"/>
<line x1="246" y1="170" x2="274.5" y2="153.5" stroke="#000" stroke-width="1.17"/>
<path d="M246 170 L274.5 153.5" stroke="#fff" stroke-width="0.58"/>
<g transform="translate(345.8 135) rotate(-17.5)">
<path d="M-0.5 -3.8 L3 -3.1999999999999997 L4 0 L3 3.1999999999999997 L-0.5 3.8 Z" fill="#fff" stroke="#000" stroke-width="1.17"/>
<ellipse cx="-0.5" cy="0" rx="3" ry="3.8" fill="#fff" stroke="#000" stroke-width="1.4"/>
<ellipse cx="-0.5" cy="0" rx="1.4" ry="1.7" fill="#fff" stroke="#000" stroke-width="1.17"/>
<path d="M0.5 -3.3 L3 -1.2 M0.5 3.3 L3 1.4" stroke="#000" stroke-width="0.82"/>
</g>
<line x1="350.5" y1="138.5" x2="361" y2="148" stroke="#000" stroke-width="1.17"/>
<path d="M322.5 143 L333 191.7" fill="none" stroke="#000" stroke-width="1.17" stroke-dasharray="21 2.5 1.5 2.5"/>
<path d="M334 193 L326 196.2" fill="none" stroke="#000" stroke-width="1.17" stroke-dasharray="21 2.5 1.5 2.5"/>
<line x1="336.5" y1="132.5" x2="341.5" y2="134.5" stroke="#000" stroke-width="1.17"/>
<g transform="translate(307.5 201) rotate(-14)">
<path d="M3 -1.7 L18 -1.7 L18 1.7 L3 1.7 Z" fill="#fff" stroke="#000" stroke-width="1.17"/>
<path d="M17 -1.7 L16.2 1.7" stroke="#000" stroke-width="1.05"/>
<path d="M15.5 -1.7 L14.7 1.7" stroke="#000" stroke-width="1.05"/>
<path d="M14 -1.7 L13.2 1.7" stroke="#000" stroke-width="1.05"/>
<path d="M12.5 -1.7 L11.7 1.7" stroke="#000" stroke-width="1.05"/>
<path d="M11 -1.7 L10.2 1.7" stroke="#000" stroke-width="1.05"/>
<ellipse cx="3" cy="0" rx="1.6" ry="4" fill="#fff" stroke="#000" stroke-width="1.17"/>
<path d="M2.6 -3.2 L-2.6 -3.4 L-3.8 -1.2 L-3.8 1.6 L-2.6 3.4 L2.6 3.2 Z" fill="#fff" stroke="#000" stroke-width="1.17"/>
<ellipse cx="-0.8" cy="0" rx="1.4" ry="1.7" fill="#fff" stroke="#000" stroke-width="0.94"/>
</g>
<line x1="321.4" y1="200" x2="339.4" y2="210.8" stroke="#000" stroke-width="1.17"/>
<g transform="translate(563.6 119.5) rotate(-17.5)">
<path d="M-0.5 -3.8 L3 -3.1999999999999997 L4 0 L3 3.1999999999999997 L-0.5 3.8 Z" fill="#fff" stroke="#000" stroke-width="1.17"/>
<ellipse cx="-0.5" cy="0" rx="3" ry="3.8" fill="#fff" stroke="#000" stroke-width="1.4"/>
<ellipse cx="-0.5" cy="0" rx="1.4" ry="1.7" fill="#fff" stroke="#000" stroke-width="1.17"/>
<path d="M0.5 -3.3 L3 -1.2 M0.5 3.3 L3 1.4" stroke="#000" stroke-width="0.82"/>
</g>
<line x1="569.5" y1="103.5" x2="566" y2="114" stroke="#000" stroke-width="1.17"/>
<path d="M495 145 L513.7 140" fill="none" stroke="#000" stroke-width="1.17" stroke-dasharray="21 2.5 1.5 2.5"/>
<path d="M531 132.4 L560 122.4" fill="none" stroke="#000" stroke-width="1.17" stroke-dasharray="21 2.5 1.5 2.5"/>
<g transform="translate(477.5 151.5) rotate(-16.5)">
<path d="M3 -1.7 L16 -1.7 L16 1.7 L3 1.7 Z" fill="#fff" stroke="#000" stroke-width="1.17"/>
<path d="M15 -1.7 L14.2 1.7" stroke="#000" stroke-width="1.05"/>
<path d="M13.5 -1.7 L12.7 1.7" stroke="#000" stroke-width="1.05"/>
<path d="M12 -1.7 L11.2 1.7" stroke="#000" stroke-width="1.05"/>
<path d="M10.5 -1.7 L9.7 1.7" stroke="#000" stroke-width="1.05"/>
<path d="M9 -1.7 L8.2 1.7" stroke="#000" stroke-width="1.05"/>
<ellipse cx="3" cy="0" rx="1.6" ry="4" fill="#fff" stroke="#000" stroke-width="1.17"/>
<path d="M2.6 -3.2 L-2.6 -3.4 L-3.8 -1.2 L-3.8 1.6 L-2.6 3.4 L2.6 3.2 Z" fill="#fff" stroke="#000" stroke-width="1.17"/>
<ellipse cx="-0.8" cy="0" rx="1.4" ry="1.7" fill="#fff" stroke="#000" stroke-width="0.94"/>
</g>
<line x1="468.4" y1="133.5" x2="475.5" y2="147" stroke="#000" stroke-width="1.17"/>
<path d="M488.7 188 L502.3 186 L500.8 193.8 Z" fill="#fff" stroke="#000" stroke-width="1.17"/>
<line x1="502.3" y1="187.4" x2="542.4" y2="176" stroke="#000" stroke-width="1.17"/>
<line x1="483.5" y1="197" x2="492" y2="192.5" stroke="#000" stroke-width="1.17"/>
<path d="M466.5 206.2 L460 208.7 L473.4 242.2 L540.3 239.2" fill="none" stroke="#000" stroke-width="1.17"/>
<line x1="456.5" y1="229" x2="465" y2="225.8" stroke="#000" stroke-width="1.17"/>
<path d="M607 371 L601 372.8 L583.5 469.8" fill="none" stroke="#000" stroke-width="1.17" stroke-dasharray="21 2.5 1.5 2.5"/>
<g transform="translate(484.2 373.7) rotate(-8)">
<g transform="scale(0.9)">
<path d="M-1.6 5 L-1.6 2 L-3 1.6 L-3 -1 L-1.8 -1.4 L-1.8 -3 L-2.6 -3.6 L-2.2 -5 L2.2 -5 L2.6 -3.6 L1.8 -3 L1.8 -1.4 L3 -1 L3 1.6 L1.6 2 L1.6 5 Z" fill="#fff" stroke="#000" stroke-width="1.17"/>
<path d="M-3 -1 L3 -1 M-3 0.4 L3 0.4 M-3 1.6 L3 1.6 M-1.6 3 L1.6 3 M-1.6 4 L1.6 4 M-1.8 -3 L1.8 -3" stroke="#000" stroke-width="0.82"/>
</g>
</g>
<line x1="483.5" y1="379.5" x2="482.5" y2="392.5" stroke="#000" stroke-width="1.05"/>
<g transform="translate(433 387.5) rotate(18)">
<g transform="scale(0.95)">
<path d="M-1.6 5 L-1.6 2 L-3 1.6 L-3 -1 L-1.8 -1.4 L-1.8 -3 L-2.6 -3.6 L-2.2 -5 L2.2 -5 L2.6 -3.6 L1.8 -3 L1.8 -1.4 L3 -1 L3 1.6 L1.6 2 L1.6 5 Z" fill="#fff" stroke="#000" stroke-width="1.17"/>
<path d="M-3 -1 L3 -1 M-3 0.4 L3 0.4 M-3 1.6 L3 1.6 M-1.6 3 L1.6 3 M-1.6 4 L1.6 4 M-1.8 -3 L1.8 -3" stroke="#000" stroke-width="0.82"/>
</g>
</g>
<line x1="431" y1="394" x2="429.5" y2="407.5" stroke="#000" stroke-width="1.05"/>
<g transform="translate(597.5 465) rotate(-17.5)">
<path d="M-0.5 -4.2 L3 -3.6 L4 0 L3 3.6 L-0.5 4.2 Z" fill="#fff" stroke="#000" stroke-width="1.17"/>
<ellipse cx="-0.5" cy="0" rx="3.4" ry="4.2" fill="#fff" stroke="#000" stroke-width="1.4"/>
<ellipse cx="-0.5" cy="0" rx="1.5" ry="1.9" fill="#fff" stroke="#000" stroke-width="1.17"/>
<path d="M0.5 -3.7 L3 -1.2 M0.5 3.7 L3 1.4" stroke="#000" stroke-width="0.82"/>
</g>
<line x1="604.7" y1="451.8" x2="599.4" y2="461.3" stroke="#000" stroke-width="1.17"/>
<line x1="588" y1="468.5" x2="593" y2="466.3" stroke="#000" stroke-width="1.17"/>
<ellipse cx="608.4" cy="478.4" rx="9.4" ry="4.5" fill="none" stroke="#000" stroke-width="2.81"/>
<ellipse cx="608.4" cy="478.4" rx="9.4" ry="4.5" fill="none" stroke="#fff" stroke-width="0.47"/>
<line x1="607" y1="483.2" x2="605.5" y2="493" stroke="#000" stroke-width="1.17"/>
<line x1="618" y1="481" x2="620" y2="483.5" stroke="#000" stroke-width="1.17"/>
<path d="M624.8 493 L628 496.3 L623.8 526 L620.6 527" fill="none" stroke="#000" stroke-width="1.17"/>
<line x1="578.2" y1="496.3" x2="630" y2="511.5" stroke="#000" stroke-width="1.17"/>
<g transform="translate(597.5 510.5) rotate(0)">
<g transform="scale(1.08)">
<path d="M-2.3 17 L-2.3 24 L-1.6 24.6 L-1.6 27.5 L1.6 27.5 L1.6 24.6 L2.3 24 L2.3 17 Z" fill="#fff" stroke="#000" stroke-width="1.17"/>
<path d="M-1.6 24.6 L1.6 24.6 M-1.6 26 L1.6 26" stroke="#000" stroke-width="0.94"/>
<path d="M-9.3 6 L-9.6 11 Q-6 14 -3.2 18.2 L3.2 18.2 Q6 14 9.6 11 L9.3 6 Z" fill="#222" stroke="#000" stroke-width="1.17"/>
<path d="M-8 8.4 Q0 11.5 8 8.4 M-6.5 11.8 Q0 14.5 6.5 11.8 M-4.5 15 Q0 16.8 4.5 15" stroke="#ccc" stroke-width="0.82" fill="none"/>
<path d="M-9.4 3 L-9.4 7 Q0 11.5 9.4 7 L9.4 3 Z" fill="#fff" stroke="#000" stroke-width="1.29"/>
<path d="M-8 0 L-8 4 Q0 8 8 4 L8 0 Z" fill="#fff" stroke="#000" stroke-width="1.17"/>
<ellipse cx="0" cy="0" rx="8" ry="4" fill="#fff" stroke="#000" stroke-width="1.29"/>
</g>
</g>
<line x1="604.5" y1="526" x2="610" y2="526" stroke="#000" stroke-width="1.17"/>
<path d="M594.7 544 L590 610 L587.4 680.5" fill="none" stroke="#000" stroke-width="1.17" stroke-dasharray="21 2.5 1.5 2.5"/>
<g transform="translate(518.5 491) rotate(-14)">
<path d="M3 -1.7 L18 -1.7 L18 1.7 L3 1.7 Z" fill="#fff" stroke="#000" stroke-width="1.17"/>
<path d="M17 -1.7 L16.2 1.7" stroke="#000" stroke-width="1.05"/>
<path d="M15.5 -1.7 L14.7 1.7" stroke="#000" stroke-width="1.05"/>
<path d="M14 -1.7 L13.2 1.7" stroke="#000" stroke-width="1.05"/>
<path d="M12.5 -1.7 L11.7 1.7" stroke="#000" stroke-width="1.05"/>
<path d="M11 -1.7 L10.2 1.7" stroke="#000" stroke-width="1.05"/>
<ellipse cx="3" cy="0" rx="1.6" ry="4" fill="#fff" stroke="#000" stroke-width="1.17"/>
<path d="M2.6 -3.2 L-2.6 -3.4 L-3.8 -1.2 L-3.8 1.6 L-2.6 3.4 L2.6 3.2 Z" fill="#fff" stroke="#000" stroke-width="1.17"/>
<ellipse cx="-0.8" cy="0" rx="1.4" ry="1.7" fill="#fff" stroke="#000" stroke-width="0.94"/>
</g>
<line x1="528.4" y1="494" x2="529.5" y2="509" stroke="#000" stroke-width="1.17"/>
<path d="M537.5 486 L571 475.5" fill="none" stroke="#000" stroke-width="1.17" stroke-dasharray="21 2.5 1.5 2.5"/>
<path d="M148.6 505 L150 508.6 L161 515 L161 518.6" fill="none" stroke="#000" stroke-width="1.17"/>
<g transform="translate(160.5 523) rotate(0)">
<path d="M-7.5 0 L-6.0 5.5 L6.0 5.5 L7.5 0 Z" fill="#fff" stroke="#000" stroke-width="1.17"/>
<ellipse cx="0" cy="0" rx="7.5" ry="2.85" fill="#fff" stroke="#000" stroke-width="1.29"/>
<path d="M-4.65 -1 L-4.65 -3.4 L4.65 -3.4 L4.65 -1" fill="#fff" stroke="#000" stroke-width="1.17"/>
<ellipse cx="0" cy="-3.4" rx="4.65" ry="1.9500000000000002" fill="#fff" stroke="#000" stroke-width="1.17"/>
<ellipse cx="0" cy="-3.4" rx="2.25" ry="0.9750000000000001" fill="#fff" stroke="#000" stroke-width="0.94"/>
<path d="M-3.375 1.5 L-3.0 5.5 M0 2.6 L0 5.5 M3.375 1.5 L3.0 5.5" stroke="#000" stroke-width="0.94"/>
</g>
<line x1="168.6" y1="524" x2="181" y2="527" stroke="#000" stroke-width="1.17"/>
<line x1="153.6" y1="533" x2="166" y2="537" stroke="#000" stroke-width="3.04"/>
<line x1="154.7" y1="534.7" x2="155.5" y2="532.3" stroke="#999" stroke-width="0.47"/>
<line x1="156.2" y1="535.2" x2="157" y2="532.7" stroke="#999" stroke-width="0.47"/>
<line x1="157.8" y1="535.7" x2="158.6" y2="533.2" stroke="#999" stroke-width="0.47"/>
<line x1="159.3" y1="536.2" x2="160.1" y2="533.7" stroke="#999" stroke-width="0.47"/>
<line x1="160.8" y1="536.7" x2="161.6" y2="534.2" stroke="#999" stroke-width="0.47"/>
<line x1="162.3" y1="537.2" x2="163.1" y2="534.7" stroke="#999" stroke-width="0.47"/>
<line x1="163.9" y1="537.7" x2="164.7" y2="535.2" stroke="#999" stroke-width="0.47"/>
<line x1="167.5" y1="538" x2="178" y2="544.5" stroke="#000" stroke-width="1.17"/>
<path d="M130.6 567.4 L130 581" fill="none" stroke="#000" stroke-width="1.17" stroke-dasharray="21 2.5 1.5 2.5"/>
<path d="M128.5 588 L127.5 609" fill="none" stroke="#000" stroke-width="1.17" stroke-dasharray="21 2.5 1.5 2.5"/>
<g transform="translate(126 616.5) rotate(0)">
<path d="M-7 0 L-5.5 5.5 L5.5 5.5 L7 0 Z" fill="#fff" stroke="#000" stroke-width="1.17"/>
<ellipse cx="0" cy="0" rx="7" ry="2.66" fill="#fff" stroke="#000" stroke-width="1.29"/>
<path d="M-4.34 -1 L-4.34 -3.4 L4.34 -3.4 L4.34 -1" fill="#fff" stroke="#000" stroke-width="1.17"/>
<ellipse cx="0" cy="-3.4" rx="4.34" ry="1.82" fill="#fff" stroke="#000" stroke-width="1.17"/>
<ellipse cx="0" cy="-3.4" rx="2.1" ry="0.91" fill="#fff" stroke="#000" stroke-width="0.94"/>
<path d="M-3.15 1.5 L-2.8000000000000003 5.5 M0 2.6 L0 5.5 M3.15 1.5 L2.8000000000000003 5.5" stroke="#000" stroke-width="0.94"/>
</g>
<line x1="133" y1="617.3" x2="146" y2="620.5" stroke="#000" stroke-width="1.17"/>
<line x1="120" y1="624.4" x2="132.4" y2="631" stroke="#000" stroke-width="3.28"/>
<line x1="120.8" y1="626.4" x2="122.1" y2="623.9" stroke="#999" stroke-width="0.47"/>
<line x1="122.2" y1="627.1" x2="123.5" y2="624.7" stroke="#999" stroke-width="0.47"/>
<line x1="123.6" y1="627.9" x2="124.9" y2="625.4" stroke="#999" stroke-width="0.47"/>
<line x1="125" y1="628.6" x2="126.3" y2="626.2" stroke="#999" stroke-width="0.47"/>
<line x1="126.4" y1="629.4" x2="127.7" y2="626.9" stroke="#999" stroke-width="0.47"/>
<line x1="127.8" y1="630.1" x2="129.1" y2="627.7" stroke="#999" stroke-width="0.47"/>
<line x1="129.2" y1="630.9" x2="130.5" y2="628.4" stroke="#999" stroke-width="0.47"/>
<line x1="126.5" y1="629.5" x2="117.5" y2="639" stroke="#000" stroke-width="1.17"/>
<line x1="89" y1="611.7" x2="107.7" y2="607" stroke="#000" stroke-width="1.05"/>
<line x1="115.5" y1="605.7" x2="143.6" y2="597.8" stroke="#000" stroke-width="1.05"/>
<line x1="202.8" y1="576" x2="206" y2="587.4" stroke="#000" stroke-width="1.17"/>
<g transform="translate(255.4 567) rotate(-17.5)">
<path d="M-0.5 -3.8 L3 -3.1999999999999997 L4 0 L3 3.1999999999999997 L-0.5 3.8 Z" fill="#fff" stroke="#000" stroke-width="1.17"/>
<ellipse cx="-0.5" cy="0" rx="3" ry="3.8" fill="#fff" stroke="#000" stroke-width="1.4"/>
<ellipse cx="-0.5" cy="0" rx="1.4" ry="1.7" fill="#fff" stroke="#000" stroke-width="1.17"/>
<path d="M0.5 -3.3 L3 -1.2 M0.5 3.3 L3 1.4" stroke="#000" stroke-width="0.82"/>
</g>
<line x1="250" y1="549.5" x2="254" y2="562.5" stroke="#000" stroke-width="1.17"/>
<line x1="251" y1="569.5" x2="238" y2="577.5" stroke="#000" stroke-width="1.05"/>
<g transform="translate(264.8 580) rotate(12)">
<g transform="scale(0.95)">
<path d="M-1.6 5 L-1.6 2 L-3 1.6 L-3 -1 L-1.8 -1.4 L-1.8 -3 L-2.6 -3.6 L-2.2 -5 L2.2 -5 L2.6 -3.6 L1.8 -3 L1.8 -1.4 L3 -1 L3 1.6 L1.6 2 L1.6 5 Z" fill="#fff" stroke="#000" stroke-width="1.17"/>
<path d="M-3 -1 L3 -1 M-3 0.4 L3 0.4 M-3 1.6 L3 1.6 M-1.6 3 L1.6 3 M-1.6 4 L1.6 4 M-1.8 -3 L1.8 -3" stroke="#000" stroke-width="0.82"/>
</g>
</g>
<line x1="273.5" y1="561" x2="266.5" y2="574" stroke="#000" stroke-width="1.17"/>
<line x1="263.6" y1="586" x2="245" y2="611" stroke="#000" stroke-width="1.05"/>
<g transform="translate(293.7 580) rotate(10)">
<g transform="scale(0.9)">
<path d="M-1.6 5 L-1.6 2 L-3 1.6 L-3 -1 L-1.8 -1.4 L-1.8 -3 L-2.6 -3.6 L-2.2 -5 L2.2 -5 L2.6 -3.6 L1.8 -3 L1.8 -1.4 L3 -1 L3 1.6 L1.6 2 L1.6 5 Z" fill="#fff" stroke="#000" stroke-width="1.17"/>
<path d="M-3 -1 L3 -1 M-3 0.4 L3 0.4 M-3 1.6 L3 1.6 M-1.6 3 L1.6 3 M-1.6 4 L1.6 4 M-1.8 -3 L1.8 -3" stroke="#000" stroke-width="0.82"/>
</g>
</g>
<line x1="300" y1="562" x2="295" y2="574.5" stroke="#000" stroke-width="1.17"/>
<line x1="292.8" y1="585.7" x2="290.4" y2="596" stroke="#000" stroke-width="1.05"/>
<g transform="translate(423.4 653.7) rotate(5)">
<g transform="scale(0.95)">
<path d="M-1.6 5 L-1.6 2 L-3 1.6 L-3 -1 L-1.8 -1.4 L-1.8 -3 L-2.6 -3.6 L-2.2 -5 L2.2 -5 L2.6 -3.6 L1.8 -3 L1.8 -1.4 L3 -1 L3 1.6 L1.6 2 L1.6 5 Z" fill="#fff" stroke="#000" stroke-width="1.17"/>
<path d="M-3 -1 L3 -1 M-3 0.4 L3 0.4 M-3 1.6 L3 1.6 M-1.6 3 L1.6 3 M-1.6 4 L1.6 4 M-1.8 -3 L1.8 -3" stroke="#000" stroke-width="0.82"/>
</g>
</g>
<line x1="423.5" y1="660" x2="422.5" y2="667.5" stroke="#000" stroke-width="1.05"/>
<g transform="translate(468 640) rotate(-5)">
<g transform="scale(0.85)">
<path d="M-1.6 5 L-1.6 2 L-3 1.6 L-3 -1 L-1.8 -1.4 L-1.8 -3 L-2.6 -3.6 L-2.2 -5 L2.2 -5 L2.6 -3.6 L1.8 -3 L1.8 -1.4 L3 -1 L3 1.6 L1.6 2 L1.6 5 Z" fill="#fff" stroke="#000" stroke-width="1.17"/>
<path d="M-3 -1 L3 -1 M-3 0.4 L3 0.4 M-3 1.6 L3 1.6 M-1.6 3 L1.6 3 M-1.6 4 L1.6 4 M-1.8 -3 L1.8 -3" stroke="#000" stroke-width="0.82"/>
</g>
</g>
<line x1="468" y1="645.5" x2="467.8" y2="653.5" stroke="#000" stroke-width="1.05"/>
<g transform="translate(517 680.5) rotate(-17.5)">
<path d="M-0.5 -3.6 L3 -3.0 L4 0 L3 3.0 L-0.5 3.6 Z" fill="#fff" stroke="#000" stroke-width="1.17"/>
<ellipse cx="-0.5" cy="0" rx="2.9" ry="3.6" fill="#fff" stroke="#000" stroke-width="1.4"/>
<ellipse cx="-0.5" cy="0" rx="1.3" ry="1.7" fill="#fff" stroke="#000" stroke-width="1.17"/>
<path d="M0.5 -3.1 L3 -1.2 M0.5 3.1 L3 1.4" stroke="#000" stroke-width="0.82"/>
</g>
<line x1="524.8" y1="671.6" x2="519.2" y2="677.5" stroke="#000" stroke-width="1.17"/>
<line x1="508" y1="686.5" x2="512.5" y2="683.5" stroke="#000" stroke-width="1.05"/>
<g transform="translate(570.7 723.5) rotate(0)">
<path d="M-7 0 L-5.5 5.5 L5.5 5.5 L7 0 Z" fill="#fff" stroke="#000" stroke-width="1.17"/>
<ellipse cx="0" cy="0" rx="7" ry="2.66" fill="#fff" stroke="#000" stroke-width="1.29"/>
<path d="M-4.34 -1 L-4.34 -3.4 L4.34 -3.4 L4.34 -1" fill="#fff" stroke="#000" stroke-width="1.17"/>
<ellipse cx="0" cy="-3.4" rx="4.34" ry="1.82" fill="#fff" stroke="#000" stroke-width="1.17"/>
<ellipse cx="0" cy="-3.4" rx="2.1" ry="0.91" fill="#fff" stroke="#000" stroke-width="0.94"/>
<path d="M-3.15 1.5 L-2.8000000000000003 5.5 M0 2.6 L0 5.5 M3.15 1.5 L2.8000000000000003 5.5" stroke="#000" stroke-width="0.94"/>
</g>
<line x1="556.5" y1="728" x2="563" y2="726" stroke="#000" stroke-width="1.17"/>
<path d="M571.5 719 L571.5 697.8 L582.7 701.9" fill="none" stroke="#000" stroke-width="1.17"/>
<line x1="563.4" y1="732" x2="575" y2="735.8" stroke="#000" stroke-width="3.04"/>
<line x1="564.5" y1="733.7" x2="565.3" y2="731.3" stroke="#999" stroke-width="0.47"/>
<line x1="566" y1="734.2" x2="566.8" y2="731.8" stroke="#999" stroke-width="0.47"/>
<line x1="567.6" y1="734.7" x2="568.4" y2="732.3" stroke="#999" stroke-width="0.47"/>
<line x1="569.1" y1="735.2" x2="569.9" y2="732.8" stroke="#999" stroke-width="0.47"/>
<line x1="570.6" y1="735.7" x2="571.4" y2="733.3" stroke="#999" stroke-width="0.47"/>
<line x1="572.1" y1="736.2" x2="572.9" y2="733.8" stroke="#999" stroke-width="0.47"/>
<line x1="568" y1="737" x2="565" y2="742.5" stroke="#000" stroke-width="1.17"/>
<path d="M583.7 770 L579.7 788" fill="none" stroke="#000" stroke-width="1.17" stroke-dasharray="21 2.5 1.5 2.5"/>
<g transform="translate(573 811) rotate(0)">
<path d="M-7 0 L-5.5 5.5 L5.5 5.5 L7 0 Z" fill="#fff" stroke="#000" stroke-width="1.17"/>
<ellipse cx="0" cy="0" rx="7" ry="2.66" fill="#fff" stroke="#000" stroke-width="1.29"/>
<path d="M-4.34 -1 L-4.34 -3.4 L4.34 -3.4 L4.34 -1" fill="#fff" stroke="#000" stroke-width="1.17"/>
<ellipse cx="0" cy="-3.4" rx="4.34" ry="1.82" fill="#fff" stroke="#000" stroke-width="1.17"/>
<ellipse cx="0" cy="-3.4" rx="2.1" ry="0.91" fill="#fff" stroke="#000" stroke-width="0.94"/>
<path d="M-3.15 1.5 L-2.8000000000000003 5.5 M0 2.6 L0 5.5 M3.15 1.5 L2.8000000000000003 5.5" stroke="#000" stroke-width="0.94"/>
</g>
<line x1="581" y1="811" x2="595" y2="809.5" stroke="#000" stroke-width="1.17"/>
<line x1="564" y1="822.5" x2="575.6" y2="829" stroke="#000" stroke-width="3.28"/>
<line x1="564.7" y1="824.5" x2="566.1" y2="822.1" stroke="#999" stroke-width="0.47"/>
<line x1="566.1" y1="825.3" x2="567.5" y2="822.8" stroke="#999" stroke-width="0.47"/>
<line x1="567.5" y1="826.1" x2="568.9" y2="823.6" stroke="#999" stroke-width="0.47"/>
<line x1="568.9" y1="826.8" x2="570.3" y2="824.4" stroke="#999" stroke-width="0.47"/>
<line x1="570.3" y1="827.6" x2="571.7" y2="825.2" stroke="#999" stroke-width="0.47"/>
<line x1="571.7" y1="828.4" x2="573.1" y2="826" stroke="#999" stroke-width="0.47"/>
<line x1="573.1" y1="829.2" x2="574.5" y2="826.8" stroke="#999" stroke-width="0.47"/>
<line x1="577" y1="828.5" x2="594.5" y2="824.5" stroke="#000" stroke-width="1.17"/>
<line x1="586.5" y1="794.5" x2="603" y2="790" stroke="#000" stroke-width="1.17"/>
<path d="M568.5 680.5 L580.7 676.4 L581.7 650" fill="none" stroke="#000" stroke-width="1.17"/>
<path d="M97.3 822.9 L110.4 801.9 L113 803.2 L113.5 806.2 L133.2 795.3 L136.6 797.3 L136.6 813.5 L114.5 825.8 L114 832.2 Z" fill="#fff" stroke="#000" stroke-width="1.52"/>
<path d="M99.9 823.6 L111.6 804.9 L113 803.2 M111.6 804.9 L114.3 808.6 L134.3 797.8 L136.6 797.3 M134.3 797.8 L133.2 795.3" fill="none" stroke="#000" stroke-width="1.29" />
<text transform="matrix(0.74,-0.40,-0.1,1,113.6,823.4)" font-size="13" font-weight="bold">FWD</text>
<text transform="translate(174.9 124.4) scale(1.12 1)" font-size="13" text-anchor="start" >21</text>
<text transform="translate(199.9 147.2) scale(1.12 1)" font-size="13" text-anchor="start" >22</text>
<text transform="translate(362.5 156.2) scale(1.12 1)" font-size="13" text-anchor="start" >23</text>
<text transform="translate(341.4 219) scale(1.12 1)" font-size="13" text-anchor="start" >24</text>
<text transform="translate(100.7 235) scale(1.12 1)" font-size="13" text-anchor="start" >6</text>
<text transform="translate(70.7 259.2) scale(1.12 1)" font-size="13" text-anchor="start" >4</text>
<text transform="translate(89.9 261.2) scale(1.12 1)" font-size="13" text-anchor="start" >24</text>
<text transform="translate(187.6 255.5) scale(1.12 1)" font-size="13" text-anchor="start" >23</text>
<text transform="translate(233.9 261.7) scale(1.12 1)" font-size="13" text-anchor="start" >16</text>
<text transform="translate(269.4 261.2) scale(1.12 1)" font-size="13" text-anchor="start" >15</text>
<text transform="translate(84.5 285) scale(1.12 1)" font-size="13" text-anchor="start" >5</text>
<text transform="translate(146.9 308.4) scale(1.12 1)" font-size="13" text-anchor="start" >10</text>
<text transform="translate(130.4 316.6) scale(1.12 1)" font-size="13" text-anchor="start" >9</text>
<text transform="translate(105.6 378.4) scale(1.12 1)" font-size="13" text-anchor="start" >12</text>
<text transform="translate(126.9 372.2) scale(1.12 1)" font-size="13" text-anchor="start" >13</text>
<text transform="translate(151.9 363.1) scale(1.12 1)" font-size="13" text-anchor="start" >11</text>
<text transform="translate(169.5 389.9) scale(1.12 1)" font-size="13" text-anchor="start" >9</text>
<text transform="translate(182.3 384.4) scale(1.12 1)" font-size="13" text-anchor="start" >11</text>
<text transform="translate(203.1 379.7) scale(1.12 1)" font-size="13" text-anchor="start" >13</text>
<text transform="translate(222.9 372.2) scale(1.12 1)" font-size="13" text-anchor="start" >14</text>
<text transform="translate(239.9 365.5) scale(1.12 1)" font-size="13" text-anchor="start" >14</text>
<text transform="translate(259.3 357.3) scale(1.12 1)" font-size="13" text-anchor="start" >13</text>
<text transform="translate(277.9 350.7) scale(1.12 1)" font-size="13" text-anchor="start" >11</text>
<text transform="translate(297 343.7) scale(1.12 1)" font-size="13" text-anchor="start" >9</text>
<text transform="translate(294.3 315.5) scale(1.12 1)" font-size="13" text-anchor="start" >10</text>
<text transform="translate(318.3 308.9) scale(1.12 1)" font-size="13" text-anchor="start" >9</text>
<text transform="translate(332.9 301.2) scale(1.12 1)" font-size="13" text-anchor="start" >11</text>
<text transform="translate(355.4 294.4) scale(1.12 1)" font-size="13" text-anchor="start" >13</text>
<text transform="translate(376.9 286.2) scale(1.12 1)" font-size="13" text-anchor="start" >12</text>
<text transform="translate(562.3 101.4) scale(1.12 1)" font-size="13" text-anchor="start" >23</text>
<text transform="translate(456.9 130.5) scale(1.12 1)" font-size="13" text-anchor="start" >24</text>
<text transform="translate(466.2 206.2) scale(1.12 1)" font-size="13" text-anchor="start" >22</text>
<text transform="translate(439.4 235.2) scale(1.12 1)" font-size="13" text-anchor="start" >21</text>
<text transform="translate(553.9 334.7) scale(1.12 1)" font-size="13" text-anchor="start" >12</text>
<text transform="translate(532.9 339.5) scale(1.12 1)" font-size="13" text-anchor="start" >13</text>
<text transform="translate(510.4 347) scale(1.12 1)" font-size="13" text-anchor="start" >11</text>
<text transform="translate(495 352) scale(1.12 1)" font-size="13" text-anchor="start" >9</text>
<text transform="translate(471.9 358.7) scale(1.12 1)" font-size="13" text-anchor="start" >10</text>
<text transform="translate(451.6 365.5) scale(1.12 1)" font-size="13" text-anchor="start" >15</text>
<text transform="translate(414.7 371.3) scale(1.12 1)" font-size="13" text-anchor="start" >16</text>
<text transform="translate(391.2 381.3) scale(1.12 1)" font-size="13" text-anchor="start" >10</text>
<text transform="translate(374.6 385.5) scale(1.12 1)" font-size="13" text-anchor="start" >9</text>
<text transform="translate(351.6 393) scale(1.12 1)" font-size="13" text-anchor="start" >11</text>
<text transform="translate(329.6 400.7) scale(1.12 1)" font-size="13" text-anchor="start" >13</text>
<text transform="translate(305.9 408.1) scale(1.12 1)" font-size="13" text-anchor="start" >12</text>
<text transform="translate(583.7 406.5) scale(1.12 1)" font-size="13" text-anchor="start" >9</text>
<text transform="translate(573.5 424) scale(1.12 1)" font-size="13" text-anchor="start" >11</text>
<text transform="translate(555.5 430.4) scale(1.12 1)" font-size="13" text-anchor="start" >13</text>
<text transform="translate(537.9 437.7) scale(1.12 1)" font-size="13" text-anchor="start" >14</text>
<text transform="translate(472.5 477.9) scale(1.12 1)" font-size="13" text-anchor="start" >14</text>
<text transform="translate(456.6 485.1) scale(1.12 1)" font-size="13" text-anchor="start" >13</text>
<text transform="translate(436.9 491.4) scale(1.12 1)" font-size="13" text-anchor="start" >11</text>
<text transform="translate(423.5 497.7) scale(1.12 1)" font-size="13" text-anchor="start" >9</text>
<text transform="translate(599.2 450.1) scale(1.12 1)" font-size="13" text-anchor="start" >23</text>
<text transform="translate(618.6 492.5) scale(1.12 1)" font-size="13" text-anchor="start" >3</text>
<text transform="translate(629.3 516.7) scale(1.12 1)" font-size="13" text-anchor="start" >1</text>
<text transform="translate(610.8 530.7) scale(1.12 1)" font-size="13" text-anchor="start" >2</text>
<text transform="translate(521.9 522.2) scale(1.12 1)" font-size="13" text-anchor="start" >24</text>
<text transform="translate(191.2 427.4) scale(1.12 1)" font-size="13" text-anchor="start" >30</text>
<text transform="translate(216.9 418.1) scale(1.12 1)" font-size="13" text-anchor="start" >31</text>
<text transform="translate(196.6 492.7) scale(1.12 1)" font-size="13" text-anchor="start" >31</text>
<text transform="translate(278.3 432.4) scale(1.12 1)" font-size="13" text-anchor="start" >35</text>
<text transform="translate(261.1 447.1) scale(1.12 1)" font-size="13" text-anchor="start" >34</text>
<text transform="translate(302.9 492.1) scale(1.12 1)" font-size="13" text-anchor="start" >32</text>
<text transform="translate(290.2 511.2) scale(1.12 1)" font-size="13" text-anchor="start" >33</text>
<text transform="translate(317.4 513.7) scale(1.12 1)" font-size="13" text-anchor="start" >28</text>
<text transform="translate(388.4 504.9) scale(1.12 1)" font-size="13" text-anchor="start" >35</text>
<text transform="translate(373.4 525.7) scale(1.12 1)" font-size="13" text-anchor="start" >34</text>
<text transform="translate(361.2 544.7) scale(1.12 1)" font-size="13" text-anchor="start" >33</text>
<text transform="translate(401.2 529.2) scale(1.12 1)" font-size="13" text-anchor="start" >32</text>
<text transform="translate(181.9 532.7) scale(1.12 1)" font-size="13" text-anchor="start" >17</text>
<text transform="translate(179.1 552.3) scale(1.12 1)" font-size="13" text-anchor="start" >18</text>
<text transform="translate(80.6 543.7) scale(1.12 1)" font-size="13" text-anchor="start" >26</text>
<text transform="translate(199 574.7) scale(1.12 1)" font-size="13" text-anchor="start" >8</text>
<text transform="translate(240.2 548.2) scale(1.12 1)" font-size="13" text-anchor="start" >32</text>
<text transform="translate(267.4 559.7) scale(1.12 1)" font-size="13" text-anchor="start" >16</text>
<text transform="translate(293.2 560.7) scale(1.12 1)" font-size="13" text-anchor="start" >15</text>
<text transform="translate(146.3 626.7) scale(1.12 1)" font-size="13" text-anchor="start" >19</text>
<text transform="translate(74.9 647.3) scale(1.12 1)" font-size="13" text-anchor="start" >27</text>
<text transform="translate(102.7 649.3) scale(1.12 1)" font-size="13" text-anchor="start" >20</text>
<text transform="translate(164.2 622.7) scale(1.12 1)" font-size="13" text-anchor="start" >10</text>
<text transform="translate(128.9 687.7) scale(1.12 1)" font-size="13" text-anchor="start" >12</text>
<text transform="translate(151.5 682.7) scale(1.12 1)" font-size="13" text-anchor="start" >13</text>
<text transform="translate(174.2 676.2) scale(1.12 1)" font-size="13" text-anchor="start" >11</text>
<text transform="translate(197 671.1) scale(1.12 1)" font-size="13" text-anchor="start" >9</text>
<text transform="translate(210.4 692) scale(1.12 1)" font-size="13" text-anchor="start" >9</text>
<text transform="translate(224.9 686.7) scale(1.12 1)" font-size="13" text-anchor="start" >11</text>
<text transform="translate(243.9 680.4) scale(1.12 1)" font-size="13" text-anchor="start" >13</text>
<text transform="translate(263.9 675.4) scale(1.12 1)" font-size="13" text-anchor="start" >14</text>
<text transform="translate(282.9 670.4) scale(1.12 1)" font-size="13" text-anchor="start" >14</text>
<text transform="translate(302.9 662.9) scale(1.12 1)" font-size="13" text-anchor="start" >13</text>
<text transform="translate(321.4 655.4) scale(1.12 1)" font-size="13" text-anchor="start" >11</text>
<text transform="translate(342 647.9) scale(1.12 1)" font-size="13" text-anchor="start" >9</text>
<text transform="translate(334.3 623.9) scale(1.12 1)" font-size="13" text-anchor="start" >10</text>
<text transform="translate(357 615.2) scale(1.12 1)" font-size="13" text-anchor="start" >9</text>
<text transform="translate(373.9 609.7) scale(1.12 1)" font-size="13" text-anchor="start" >11</text>
<text transform="translate(391.9 601.2) scale(1.12 1)" font-size="13" text-anchor="start" >13</text>
<text transform="translate(411.8 591.2) scale(1.12 1)" font-size="13" text-anchor="start" >12</text>
<text transform="translate(440.9 551.7) scale(1.12 1)" font-size="13" text-anchor="start" >31</text>
<text transform="translate(462.4 562.7) scale(1.12 1)" font-size="13" text-anchor="start" >29</text>
<text transform="translate(483.3 573) scale(1.12 1)" font-size="13" text-anchor="start" >31</text>
<text transform="translate(498.1 609.4) scale(1.12 1)" font-size="13" text-anchor="start" >10</text>
<text transform="translate(520.4 604.5) scale(1.12 1)" font-size="13" text-anchor="start" >9</text>
<text transform="translate(531.1 600.6) scale(1.12 1)" font-size="13" text-anchor="start" >11</text>
<text transform="translate(548.4 595.4) scale(1.12 1)" font-size="13" text-anchor="start" >13</text>
<text transform="translate(569.6 588.7) scale(1.12 1)" font-size="13" text-anchor="start" >12</text>
<text transform="translate(418.9 634.5) scale(1.12 1)" font-size="13" text-anchor="start" >16</text>
<text transform="translate(445.5 626.7) scale(1.12 1)" font-size="13" text-anchor="start" >15</text>
<text transform="translate(520.1 670.1) scale(1.12 1)" font-size="13" text-anchor="start" >32</text>
<text transform="translate(541.3 666.2) scale(1.12 1)" font-size="13" text-anchor="start" >11</text>
<text transform="translate(565 660.2) scale(1.12 1)" font-size="13" text-anchor="start" >9</text>
<text transform="translate(307.6 681.2) scale(1.12 1)" font-size="13" text-anchor="start" >12</text>
<text transform="translate(329.7 673.7) scale(1.12 1)" font-size="13" text-anchor="start" >13</text>
<text transform="translate(355.9 666.3) scale(1.12 1)" font-size="13" text-anchor="start" >11</text>
<text transform="translate(377.7 659.4) scale(1.12 1)" font-size="13" text-anchor="start" >9</text>
<text transform="translate(393.9 653) scale(1.12 1)" font-size="13" text-anchor="start" >10</text>
<text transform="translate(529.4 717.2) scale(1.12 1)" font-size="13" text-anchor="start" >14</text>
<text transform="translate(547.4 711) scale(1.12 1)" font-size="13" text-anchor="start" >13</text>
<text transform="translate(538.4 734) scale(1.12 1)" font-size="13" text-anchor="start" >17</text>
<text transform="translate(552.7 753.3) scale(1.12 1)" font-size="13" text-anchor="start" >18</text>
<text transform="translate(447.5 742) scale(1.12 1)" font-size="13" text-anchor="start" >14</text>
<text transform="translate(426.3 750.4) scale(1.12 1)" font-size="13" text-anchor="start" >13</text>
<text transform="translate(402.9 760.1) scale(1.12 1)" font-size="13" text-anchor="start" >11</text>
<text transform="translate(388.8 765.3) scale(1.12 1)" font-size="13" text-anchor="start" >9</text>
<text transform="translate(604.6 792.5) scale(1.12 1)" font-size="13" text-anchor="start" >7</text>
<text transform="translate(455.9 797.7) scale(1.12 1)" font-size="13" text-anchor="start" >25</text>
<text transform="translate(597.5 812.3) scale(1.12 1)" font-size="13" text-anchor="start" >19</text>
<text transform="translate(449.9 823.7) scale(1.12 1)" font-size="13" text-anchor="start" >27</text>
<text transform="translate(597.5 827.6) scale(1.12 1)" font-size="13" text-anchor="start" >20</text>
<text transform="translate(76 850) scale(1.065 1)" font-size="13" text-anchor="start" >B5H3300-U290</text>
</svg>
</body></html>
